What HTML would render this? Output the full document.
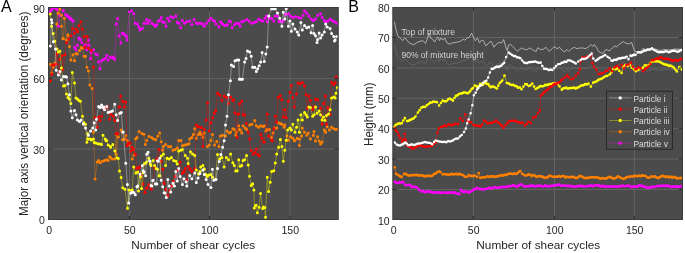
<!DOCTYPE html>
<html><head><meta charset="utf-8"><style>
html,body{margin:0;padding:0;background:#fff;}
body{width:685px;height:253px;overflow:hidden;}
svg{display:block;font-family:"Liberation Sans",sans-serif;will-change:transform;}
</style></head><body>
<svg width="685" height="253" viewBox="0 0 685 253"><defs><clipPath id="ca"><rect x="48" y="7" width="290.6" height="213"/></clipPath><clipPath id="cb"><rect x="392.5" y="7" width="290.5" height="213"/></clipPath></defs><rect x="48" y="7" width="290.6" height="213" fill="#4b4b4b"/><line x1="48" y1="149.00" x2="338.6" y2="149.00" stroke="#636363" stroke-width="1"/><line x1="48" y1="78.60" x2="338.6" y2="78.60" stroke="#636363" stroke-width="1"/><line x1="129.50" y1="7" x2="129.50" y2="220" stroke="#636363" stroke-width="1"/><line x1="209.50" y1="7" x2="209.50" y2="220" stroke="#636363" stroke-width="1"/><line x1="290.00" y1="7" x2="290.00" y2="220" stroke="#636363" stroke-width="1"/><rect x="392.5" y="7" width="290.5" height="213" fill="#4b4b4b"/><line x1="392.5" y1="189.50" x2="683" y2="189.50" stroke="#636363" stroke-width="1"/><line x1="392.5" y1="159.10" x2="683" y2="159.10" stroke="#636363" stroke-width="1"/><line x1="392.5" y1="128.70" x2="683" y2="128.70" stroke="#636363" stroke-width="1"/><line x1="392.5" y1="98.30" x2="683" y2="98.30" stroke="#636363" stroke-width="1"/><line x1="392.5" y1="67.90" x2="683" y2="67.90" stroke="#636363" stroke-width="1"/><line x1="392.5" y1="37.50" x2="683" y2="37.50" stroke="#636363" stroke-width="1"/><line x1="473.40" y1="7" x2="473.40" y2="220" stroke="#636363" stroke-width="1"/><line x1="554.50" y1="7" x2="554.50" y2="220" stroke="#636363" stroke-width="1"/><line x1="634.40" y1="7" x2="634.40" y2="220" stroke="#636363" stroke-width="1"/><g clip-path="url(#cb)"><polyline points="394.4,21.9 395.8,28.9 397.8,35.8 399.9,37.9 402.7,40.6 404.8,37.9 406.9,39.9 408.9,42.7 411.7,44.1 413.8,44.8 416.5,42.7 420.0,41.3 422.8,40.6 425.5,43.4 427.6,37.9 429.0,33.0 430.4,37.9 432.5,39.2 434.6,42.0 436.6,38.5 438.0,37.2 439.4,40.6 440.8,37.9 442.8,40.1 444.8,38.0 446.9,42.9 449.7,44.2 452.5,42.9 456.6,42.2 460.1,41.5 462.9,39.4 464.9,40.1 467.0,38.0 469.1,37.3 471.6,33.2 473.2,36.6 475.3,40.8 477.4,38.0 479.5,42.9 481.6,40.1 483.6,40.8 485.7,45.6 487.1,45.1 489.2,42.3 491.2,41.3 494.0,47.2 496.1,44.4 498.9,42.3 501.6,43.0 503.7,39.5 505.8,47.2 507.2,50.6 508.5,45.1 510.6,44.4 512.7,46.5 515.5,49.2 517.5,51.3 519.6,49.2 521.7,47.9 523.8,49.2 526.6,49.9 529.3,47.9 532.1,49.4 534.1,50.7 536.2,51.4 537.6,47.7 540.4,49.4 543.1,49.4 545.9,47.3 549.4,51.4 552.1,48.7 554.2,46.6 557.0,48.7 559.7,47.3 562.5,50.7 564.6,52.1 566.7,49.4 568.7,51.4 571.5,48.7 574.3,47.3 577.0,48.7 579.8,48.0 582.6,48.0 585.3,48.7 588.1,47.3 590.9,44.5 592.9,46.6 594.3,44.5 596.4,47.3 598.8,51.5 601.3,52.8 603.2,53.4 605.1,50.2 607.0,49.6 608.9,50.9 610.8,49.6 612.7,47.7 614.6,45.8 616.5,47.1 619.0,44.5 620.9,43.3 623.4,41.6 626.0,43.3 629.1,43.9 631.7,42.4 632.9,46.4 634.8,51.5 638.0,51.7 640.0,52.1 643.4,48.0 645.5,50.8 650.0,50.0 655.0,49.0 660.0,50.5 665.0,49.5 670.0,50.0 675.0,49.0 683.0,49.5" fill="none" stroke="#cfcfcf" stroke-width="0.75"/><polyline points="394.4,44.6 395.8,50.9 397.8,57.1 399.9,59.0 402.7,61.5 404.8,59.0 406.9,60.8 408.9,63.4 411.7,64.6 413.8,65.2 416.5,63.4 420.0,62.1 422.8,61.5 425.5,64.0 427.6,59.0 429.0,54.6 430.4,59.0 432.5,60.2 434.6,62.7 436.6,59.6 438.0,58.4 439.4,61.5 440.8,59.0 442.8,61.0 444.8,59.1 446.9,63.5 449.7,64.7 452.5,63.5 456.6,62.9 460.1,62.3 462.9,60.4 464.9,61.0 467.0,59.1 469.1,58.5 471.6,54.8 473.2,57.9 475.3,61.6 477.4,59.1 479.5,63.5 481.6,61.0 483.6,61.6 485.7,66.0 487.1,65.5 489.2,63.0 491.2,62.1 494.0,67.4 496.1,64.9 498.9,63.0 501.6,63.6 503.7,60.5 505.8,67.4 507.2,70.5 508.5,65.5 510.6,64.9 512.7,66.8 515.5,69.2 517.5,71.1 519.6,69.2 521.7,68.0 523.8,69.2 526.6,69.8 529.3,68.0 532.1,69.4 534.1,70.6 536.2,71.2 537.6,67.9 540.4,69.4 543.1,69.4 545.9,67.5 549.4,71.2 552.1,68.8 554.2,66.9 557.0,68.8 559.7,67.5 562.5,70.6 564.6,71.8 566.7,69.4 568.7,71.2 571.5,68.8 574.3,67.5 577.0,68.8 579.8,68.1 582.6,68.1 585.3,68.8 588.1,67.5 590.9,65.0 592.9,66.9 594.3,65.0 596.4,67.5 598.8,71.3 601.3,72.4 603.2,73.0 605.1,70.1 607.0,69.6 608.9,70.7 610.8,69.6 612.7,67.9 614.6,66.1 616.5,67.3 619.0,65.0 620.9,63.9 623.4,62.4 626.0,63.9 629.1,64.4 631.7,63.1 632.9,66.7 634.8,71.3 638.0,71.5 640.0,71.8 643.4,68.1 645.5,70.6 650.0,69.9 655.0,69.0 660.0,70.4 665.0,69.5 670.0,69.9 675.0,69.0 683.0,69.5" fill="none" stroke="#707070" stroke-width="0.6"/><polyline points="394.6,181.7 396.2,182.8 397.7,182.9 399.3,182.6 401.3,182.5 403.3,182.0 404.9,184.7 406.9,185.2 408.8,184.8 410.4,185.4 412.0,187.0 413.9,186.7 415.9,187.2 417.5,187.9 419.1,189.9 421.5,191.4 423.1,191.0 424.6,192.0 426.2,192.2 427.8,191.3 429.4,191.5 431.0,192.2 432.5,192.8 434.1,192.3 435.7,192.3 437.2,192.7 438.8,192.4 440.4,192.9 442.0,192.7 443.6,192.4 446.0,192.9 447.8,192.7 449.7,192.5 451.5,192.7 453.1,192.6 454.7,192.5 456.2,193.7 457.8,193.6 459.4,193.9 461.0,190.0 462.6,191.6 464.1,192.0 465.7,191.4 467.3,191.9 468.9,192.7 470.4,191.7 472.0,190.9 473.7,189.4 475.4,189.0 477.1,187.9 479.5,189.0 481.1,189.2 482.6,189.5 484.2,189.3 485.8,188.8 487.4,188.7 489.0,187.8 490.5,187.8 492.1,188.3 493.7,187.6 495.3,187.2 496.9,187.6 498.4,187.6 500.0,187.5 501.6,187.0 503.2,186.9 504.8,186.8 506.4,187.0 507.9,186.5 509.5,186.2 511.1,186.1 512.7,185.5 514.2,185.6 515.8,186.3 517.4,186.7 518.8,185.4 520.3,184.4 522.0,184.9 523.8,186.1 525.4,186.6 526.9,186.3 528.5,186.0 530.1,186.3 531.6,185.5 533.2,185.8 534.9,186.4 536.6,186.0 538.3,185.9 539.9,185.7 541.6,186.1 543.3,186.6 545.0,185.5 546.6,186.3 548.1,186.2 549.7,186.2 551.3,185.9 552.9,185.8 554.5,185.3 556.0,185.2 557.6,184.9 559.2,184.6 560.8,185.8 562.4,185.6 563.9,185.3 565.5,185.8 567.1,185.9 568.7,185.9 570.3,186.0 571.9,186.3 573.4,186.5 575.0,186.6 576.6,186.5 578.2,185.9 579.8,186.0 581.3,185.8 582.9,186.2 584.5,186.4 586.1,186.3 587.6,186.2 589.2,186.1 590.8,185.4 592.4,186.0 594.0,185.9 595.6,185.3 597.1,185.3 598.7,185.4 600.3,186.4 601.9,186.0 603.5,186.0 605.0,186.7 606.6,186.6 608.2,186.4 609.8,186.4 611.4,186.8 612.9,186.3 614.5,186.4 616.1,186.9 617.8,186.5 619.5,186.2 621.2,186.4 622.8,185.7 624.5,186.1 626.2,186.1 627.9,185.7 629.5,185.9 631.1,187.1 632.7,186.9 634.3,186.4 635.9,186.6 637.4,186.7 639.0,185.5 640.6,185.7 642.1,186.0 643.7,186.9 645.3,186.6 646.9,187.6 648.5,187.9 650.1,187.4 651.6,186.6 653.2,187.2 654.8,186.8 656.4,186.3 657.9,185.8 659.5,186.1 661.1,185.7 662.7,186.0 664.3,185.7 665.9,186.2 667.5,185.6 669.1,186.0 670.7,186.9 672.2,186.9 673.8,186.3 675.4,187.0 677.0,186.3 678.6,186.9 680.1,186.6 681.7,186.1 683.3,185.8" fill="none" stroke="#ff00ff" stroke-width="0.5"/><path d="M393.2,181.7a1.4,1.4 0 1,0 2.8,0a1.4,1.4 0 1,0 -2.8,0M394.8,182.8a1.4,1.4 0 1,0 2.8,0a1.4,1.4 0 1,0 -2.8,0M396.3,182.9a1.4,1.4 0 1,0 2.8,0a1.4,1.4 0 1,0 -2.8,0M397.9,182.6a1.4,1.4 0 1,0 2.8,0a1.4,1.4 0 1,0 -2.8,0M399.9,182.5a1.4,1.4 0 1,0 2.8,0a1.4,1.4 0 1,0 -2.8,0M401.9,182.0a1.4,1.4 0 1,0 2.8,0a1.4,1.4 0 1,0 -2.8,0M403.5,184.7a1.4,1.4 0 1,0 2.8,0a1.4,1.4 0 1,0 -2.8,0M405.5,185.2a1.4,1.4 0 1,0 2.8,0a1.4,1.4 0 1,0 -2.8,0M407.4,184.8a1.4,1.4 0 1,0 2.8,0a1.4,1.4 0 1,0 -2.8,0M409.0,185.4a1.4,1.4 0 1,0 2.8,0a1.4,1.4 0 1,0 -2.8,0M410.6,187.0a1.4,1.4 0 1,0 2.8,0a1.4,1.4 0 1,0 -2.8,0M412.6,186.7a1.4,1.4 0 1,0 2.8,0a1.4,1.4 0 1,0 -2.8,0M414.5,187.2a1.4,1.4 0 1,0 2.8,0a1.4,1.4 0 1,0 -2.8,0M416.1,187.9a1.4,1.4 0 1,0 2.8,0a1.4,1.4 0 1,0 -2.8,0M417.7,189.9a1.4,1.4 0 1,0 2.8,0a1.4,1.4 0 1,0 -2.8,0M420.1,191.4a1.4,1.4 0 1,0 2.8,0a1.4,1.4 0 1,0 -2.8,0M421.7,191.0a1.4,1.4 0 1,0 2.8,0a1.4,1.4 0 1,0 -2.8,0M423.2,192.0a1.4,1.4 0 1,0 2.8,0a1.4,1.4 0 1,0 -2.8,0M424.8,192.2a1.4,1.4 0 1,0 2.8,0a1.4,1.4 0 1,0 -2.8,0M426.4,191.3a1.4,1.4 0 1,0 2.8,0a1.4,1.4 0 1,0 -2.8,0M428.0,191.5a1.4,1.4 0 1,0 2.8,0a1.4,1.4 0 1,0 -2.8,0M429.6,192.2a1.4,1.4 0 1,0 2.8,0a1.4,1.4 0 1,0 -2.8,0M431.1,192.8a1.4,1.4 0 1,0 2.8,0a1.4,1.4 0 1,0 -2.8,0M432.7,192.3a1.4,1.4 0 1,0 2.8,0a1.4,1.4 0 1,0 -2.8,0M434.3,192.3a1.4,1.4 0 1,0 2.8,0a1.4,1.4 0 1,0 -2.8,0M435.9,192.7a1.4,1.4 0 1,0 2.8,0a1.4,1.4 0 1,0 -2.8,0M437.4,192.4a1.4,1.4 0 1,0 2.8,0a1.4,1.4 0 1,0 -2.8,0M439.0,192.9a1.4,1.4 0 1,0 2.8,0a1.4,1.4 0 1,0 -2.8,0M440.6,192.7a1.4,1.4 0 1,0 2.8,0a1.4,1.4 0 1,0 -2.8,0M442.2,192.4a1.4,1.4 0 1,0 2.8,0a1.4,1.4 0 1,0 -2.8,0M444.6,192.9a1.4,1.4 0 1,0 2.8,0a1.4,1.4 0 1,0 -2.8,0M446.4,192.7a1.4,1.4 0 1,0 2.8,0a1.4,1.4 0 1,0 -2.8,0M448.3,192.5a1.4,1.4 0 1,0 2.8,0a1.4,1.4 0 1,0 -2.8,0M450.1,192.7a1.4,1.4 0 1,0 2.8,0a1.4,1.4 0 1,0 -2.8,0M451.7,192.6a1.4,1.4 0 1,0 2.8,0a1.4,1.4 0 1,0 -2.8,0M453.3,192.5a1.4,1.4 0 1,0 2.8,0a1.4,1.4 0 1,0 -2.8,0M454.8,193.7a1.4,1.4 0 1,0 2.8,0a1.4,1.4 0 1,0 -2.8,0M456.4,193.6a1.4,1.4 0 1,0 2.8,0a1.4,1.4 0 1,0 -2.8,0M458.0,193.9a1.4,1.4 0 1,0 2.8,0a1.4,1.4 0 1,0 -2.8,0M459.6,190.0a1.4,1.4 0 1,0 2.8,0a1.4,1.4 0 1,0 -2.8,0M461.2,191.6a1.4,1.4 0 1,0 2.8,0a1.4,1.4 0 1,0 -2.8,0M462.7,192.0a1.4,1.4 0 1,0 2.8,0a1.4,1.4 0 1,0 -2.8,0M464.3,191.4a1.4,1.4 0 1,0 2.8,0a1.4,1.4 0 1,0 -2.8,0M465.9,191.9a1.4,1.4 0 1,0 2.8,0a1.4,1.4 0 1,0 -2.8,0M467.5,192.7a1.4,1.4 0 1,0 2.8,0a1.4,1.4 0 1,0 -2.8,0M469.1,191.7a1.4,1.4 0 1,0 2.8,0a1.4,1.4 0 1,0 -2.8,0M470.6,190.9a1.4,1.4 0 1,0 2.8,0a1.4,1.4 0 1,0 -2.8,0M472.3,189.4a1.4,1.4 0 1,0 2.8,0a1.4,1.4 0 1,0 -2.8,0M474.0,189.0a1.4,1.4 0 1,0 2.8,0a1.4,1.4 0 1,0 -2.8,0M475.7,187.9a1.4,1.4 0 1,0 2.8,0a1.4,1.4 0 1,0 -2.8,0M478.1,189.0a1.4,1.4 0 1,0 2.8,0a1.4,1.4 0 1,0 -2.8,0M479.7,189.2a1.4,1.4 0 1,0 2.8,0a1.4,1.4 0 1,0 -2.8,0M481.2,189.5a1.4,1.4 0 1,0 2.8,0a1.4,1.4 0 1,0 -2.8,0M482.8,189.3a1.4,1.4 0 1,0 2.8,0a1.4,1.4 0 1,0 -2.8,0M484.4,188.8a1.4,1.4 0 1,0 2.8,0a1.4,1.4 0 1,0 -2.8,0M486.0,188.7a1.4,1.4 0 1,0 2.8,0a1.4,1.4 0 1,0 -2.8,0M487.6,187.8a1.4,1.4 0 1,0 2.8,0a1.4,1.4 0 1,0 -2.8,0M489.1,187.8a1.4,1.4 0 1,0 2.8,0a1.4,1.4 0 1,0 -2.8,0M490.7,188.3a1.4,1.4 0 1,0 2.8,0a1.4,1.4 0 1,0 -2.8,0M492.3,187.6a1.4,1.4 0 1,0 2.8,0a1.4,1.4 0 1,0 -2.8,0M493.9,187.2a1.4,1.4 0 1,0 2.8,0a1.4,1.4 0 1,0 -2.8,0M495.5,187.6a1.4,1.4 0 1,0 2.8,0a1.4,1.4 0 1,0 -2.8,0M497.0,187.6a1.4,1.4 0 1,0 2.8,0a1.4,1.4 0 1,0 -2.8,0M498.6,187.5a1.4,1.4 0 1,0 2.8,0a1.4,1.4 0 1,0 -2.8,0M500.2,187.0a1.4,1.4 0 1,0 2.8,0a1.4,1.4 0 1,0 -2.8,0M501.8,186.9a1.4,1.4 0 1,0 2.8,0a1.4,1.4 0 1,0 -2.8,0M503.4,186.8a1.4,1.4 0 1,0 2.8,0a1.4,1.4 0 1,0 -2.8,0M505.0,187.0a1.4,1.4 0 1,0 2.8,0a1.4,1.4 0 1,0 -2.8,0M506.5,186.5a1.4,1.4 0 1,0 2.8,0a1.4,1.4 0 1,0 -2.8,0M508.1,186.2a1.4,1.4 0 1,0 2.8,0a1.4,1.4 0 1,0 -2.8,0M509.7,186.1a1.4,1.4 0 1,0 2.8,0a1.4,1.4 0 1,0 -2.8,0M511.3,185.5a1.4,1.4 0 1,0 2.8,0a1.4,1.4 0 1,0 -2.8,0M512.9,185.6a1.4,1.4 0 1,0 2.8,0a1.4,1.4 0 1,0 -2.8,0M514.4,186.3a1.4,1.4 0 1,0 2.8,0a1.4,1.4 0 1,0 -2.8,0M516.0,186.7a1.4,1.4 0 1,0 2.8,0a1.4,1.4 0 1,0 -2.8,0M517.4,185.4a1.4,1.4 0 1,0 2.8,0a1.4,1.4 0 1,0 -2.8,0M518.9,184.4a1.4,1.4 0 1,0 2.8,0a1.4,1.4 0 1,0 -2.8,0M520.6,184.9a1.4,1.4 0 1,0 2.8,0a1.4,1.4 0 1,0 -2.8,0M522.4,186.1a1.4,1.4 0 1,0 2.8,0a1.4,1.4 0 1,0 -2.8,0M524.0,186.6a1.4,1.4 0 1,0 2.8,0a1.4,1.4 0 1,0 -2.8,0M525.5,186.3a1.4,1.4 0 1,0 2.8,0a1.4,1.4 0 1,0 -2.8,0M527.1,186.0a1.4,1.4 0 1,0 2.8,0a1.4,1.4 0 1,0 -2.8,0M528.7,186.3a1.4,1.4 0 1,0 2.8,0a1.4,1.4 0 1,0 -2.8,0M530.2,185.5a1.4,1.4 0 1,0 2.8,0a1.4,1.4 0 1,0 -2.8,0M531.8,185.8a1.4,1.4 0 1,0 2.8,0a1.4,1.4 0 1,0 -2.8,0M533.5,186.4a1.4,1.4 0 1,0 2.8,0a1.4,1.4 0 1,0 -2.8,0M535.2,186.0a1.4,1.4 0 1,0 2.8,0a1.4,1.4 0 1,0 -2.8,0M536.9,185.9a1.4,1.4 0 1,0 2.8,0a1.4,1.4 0 1,0 -2.8,0M538.5,185.7a1.4,1.4 0 1,0 2.8,0a1.4,1.4 0 1,0 -2.8,0M540.2,186.1a1.4,1.4 0 1,0 2.8,0a1.4,1.4 0 1,0 -2.8,0M541.9,186.6a1.4,1.4 0 1,0 2.8,0a1.4,1.4 0 1,0 -2.8,0M543.6,185.5a1.4,1.4 0 1,0 2.8,0a1.4,1.4 0 1,0 -2.8,0M545.2,186.3a1.4,1.4 0 1,0 2.8,0a1.4,1.4 0 1,0 -2.8,0M546.8,186.2a1.4,1.4 0 1,0 2.8,0a1.4,1.4 0 1,0 -2.8,0M548.3,186.2a1.4,1.4 0 1,0 2.8,0a1.4,1.4 0 1,0 -2.8,0M549.9,185.9a1.4,1.4 0 1,0 2.8,0a1.4,1.4 0 1,0 -2.8,0M551.5,185.8a1.4,1.4 0 1,0 2.8,0a1.4,1.4 0 1,0 -2.8,0M553.1,185.3a1.4,1.4 0 1,0 2.8,0a1.4,1.4 0 1,0 -2.8,0M554.6,185.2a1.4,1.4 0 1,0 2.8,0a1.4,1.4 0 1,0 -2.8,0M556.2,184.9a1.4,1.4 0 1,0 2.8,0a1.4,1.4 0 1,0 -2.8,0M557.8,184.6a1.4,1.4 0 1,0 2.8,0a1.4,1.4 0 1,0 -2.8,0M559.4,185.8a1.4,1.4 0 1,0 2.8,0a1.4,1.4 0 1,0 -2.8,0M561.0,185.6a1.4,1.4 0 1,0 2.8,0a1.4,1.4 0 1,0 -2.8,0M562.5,185.3a1.4,1.4 0 1,0 2.8,0a1.4,1.4 0 1,0 -2.8,0M564.1,185.8a1.4,1.4 0 1,0 2.8,0a1.4,1.4 0 1,0 -2.8,0M565.7,185.9a1.4,1.4 0 1,0 2.8,0a1.4,1.4 0 1,0 -2.8,0M567.3,185.9a1.4,1.4 0 1,0 2.8,0a1.4,1.4 0 1,0 -2.8,0M568.9,186.0a1.4,1.4 0 1,0 2.8,0a1.4,1.4 0 1,0 -2.8,0M570.5,186.3a1.4,1.4 0 1,0 2.8,0a1.4,1.4 0 1,0 -2.8,0M572.0,186.5a1.4,1.4 0 1,0 2.8,0a1.4,1.4 0 1,0 -2.8,0M573.6,186.6a1.4,1.4 0 1,0 2.8,0a1.4,1.4 0 1,0 -2.8,0M575.2,186.5a1.4,1.4 0 1,0 2.8,0a1.4,1.4 0 1,0 -2.8,0M576.8,185.9a1.4,1.4 0 1,0 2.8,0a1.4,1.4 0 1,0 -2.8,0M578.4,186.0a1.4,1.4 0 1,0 2.8,0a1.4,1.4 0 1,0 -2.8,0M579.9,185.8a1.4,1.4 0 1,0 2.8,0a1.4,1.4 0 1,0 -2.8,0M581.5,186.2a1.4,1.4 0 1,0 2.8,0a1.4,1.4 0 1,0 -2.8,0M583.1,186.4a1.4,1.4 0 1,0 2.8,0a1.4,1.4 0 1,0 -2.8,0M584.7,186.3a1.4,1.4 0 1,0 2.8,0a1.4,1.4 0 1,0 -2.8,0M586.2,186.2a1.4,1.4 0 1,0 2.8,0a1.4,1.4 0 1,0 -2.8,0M587.8,186.1a1.4,1.4 0 1,0 2.8,0a1.4,1.4 0 1,0 -2.8,0M589.4,185.4a1.4,1.4 0 1,0 2.8,0a1.4,1.4 0 1,0 -2.8,0M591.0,186.0a1.4,1.4 0 1,0 2.8,0a1.4,1.4 0 1,0 -2.8,0M592.6,185.9a1.4,1.4 0 1,0 2.8,0a1.4,1.4 0 1,0 -2.8,0M594.2,185.3a1.4,1.4 0 1,0 2.8,0a1.4,1.4 0 1,0 -2.8,0M595.7,185.3a1.4,1.4 0 1,0 2.8,0a1.4,1.4 0 1,0 -2.8,0M597.3,185.4a1.4,1.4 0 1,0 2.8,0a1.4,1.4 0 1,0 -2.8,0M598.9,186.4a1.4,1.4 0 1,0 2.8,0a1.4,1.4 0 1,0 -2.8,0M600.5,186.0a1.4,1.4 0 1,0 2.8,0a1.4,1.4 0 1,0 -2.8,0M602.1,186.0a1.4,1.4 0 1,0 2.8,0a1.4,1.4 0 1,0 -2.8,0M603.6,186.7a1.4,1.4 0 1,0 2.8,0a1.4,1.4 0 1,0 -2.8,0M605.2,186.6a1.4,1.4 0 1,0 2.8,0a1.4,1.4 0 1,0 -2.8,0M606.8,186.4a1.4,1.4 0 1,0 2.8,0a1.4,1.4 0 1,0 -2.8,0M608.4,186.4a1.4,1.4 0 1,0 2.8,0a1.4,1.4 0 1,0 -2.8,0M610.0,186.8a1.4,1.4 0 1,0 2.8,0a1.4,1.4 0 1,0 -2.8,0M611.5,186.3a1.4,1.4 0 1,0 2.8,0a1.4,1.4 0 1,0 -2.8,0M613.1,186.4a1.4,1.4 0 1,0 2.8,0a1.4,1.4 0 1,0 -2.8,0M614.7,186.9a1.4,1.4 0 1,0 2.8,0a1.4,1.4 0 1,0 -2.8,0M616.4,186.5a1.4,1.4 0 1,0 2.8,0a1.4,1.4 0 1,0 -2.8,0M618.1,186.2a1.4,1.4 0 1,0 2.8,0a1.4,1.4 0 1,0 -2.8,0M619.8,186.4a1.4,1.4 0 1,0 2.8,0a1.4,1.4 0 1,0 -2.8,0M621.4,185.7a1.4,1.4 0 1,0 2.8,0a1.4,1.4 0 1,0 -2.8,0M623.1,186.1a1.4,1.4 0 1,0 2.8,0a1.4,1.4 0 1,0 -2.8,0M624.8,186.1a1.4,1.4 0 1,0 2.8,0a1.4,1.4 0 1,0 -2.8,0M626.5,185.7a1.4,1.4 0 1,0 2.8,0a1.4,1.4 0 1,0 -2.8,0M628.1,185.9a1.4,1.4 0 1,0 2.8,0a1.4,1.4 0 1,0 -2.8,0M629.7,187.1a1.4,1.4 0 1,0 2.8,0a1.4,1.4 0 1,0 -2.8,0M631.3,186.9a1.4,1.4 0 1,0 2.8,0a1.4,1.4 0 1,0 -2.8,0M632.9,186.4a1.4,1.4 0 1,0 2.8,0a1.4,1.4 0 1,0 -2.8,0M634.5,186.6a1.4,1.4 0 1,0 2.8,0a1.4,1.4 0 1,0 -2.8,0M636.0,186.7a1.4,1.4 0 1,0 2.8,0a1.4,1.4 0 1,0 -2.8,0M637.6,185.5a1.4,1.4 0 1,0 2.8,0a1.4,1.4 0 1,0 -2.8,0M639.2,185.7a1.4,1.4 0 1,0 2.8,0a1.4,1.4 0 1,0 -2.8,0M640.7,186.0a1.4,1.4 0 1,0 2.8,0a1.4,1.4 0 1,0 -2.8,0M642.3,186.9a1.4,1.4 0 1,0 2.8,0a1.4,1.4 0 1,0 -2.8,0M643.9,186.6a1.4,1.4 0 1,0 2.8,0a1.4,1.4 0 1,0 -2.8,0M645.5,187.6a1.4,1.4 0 1,0 2.8,0a1.4,1.4 0 1,0 -2.8,0M647.1,187.9a1.4,1.4 0 1,0 2.8,0a1.4,1.4 0 1,0 -2.8,0M648.7,187.4a1.4,1.4 0 1,0 2.8,0a1.4,1.4 0 1,0 -2.8,0M650.2,186.6a1.4,1.4 0 1,0 2.8,0a1.4,1.4 0 1,0 -2.8,0M651.8,187.2a1.4,1.4 0 1,0 2.8,0a1.4,1.4 0 1,0 -2.8,0M653.4,186.8a1.4,1.4 0 1,0 2.8,0a1.4,1.4 0 1,0 -2.8,0M655.0,186.3a1.4,1.4 0 1,0 2.8,0a1.4,1.4 0 1,0 -2.8,0M656.5,185.8a1.4,1.4 0 1,0 2.8,0a1.4,1.4 0 1,0 -2.8,0M658.1,186.1a1.4,1.4 0 1,0 2.8,0a1.4,1.4 0 1,0 -2.8,0M659.7,185.7a1.4,1.4 0 1,0 2.8,0a1.4,1.4 0 1,0 -2.8,0M661.3,186.0a1.4,1.4 0 1,0 2.8,0a1.4,1.4 0 1,0 -2.8,0M662.9,185.7a1.4,1.4 0 1,0 2.8,0a1.4,1.4 0 1,0 -2.8,0M664.5,186.2a1.4,1.4 0 1,0 2.8,0a1.4,1.4 0 1,0 -2.8,0M666.1,185.6a1.4,1.4 0 1,0 2.8,0a1.4,1.4 0 1,0 -2.8,0M667.7,186.0a1.4,1.4 0 1,0 2.8,0a1.4,1.4 0 1,0 -2.8,0M669.3,186.9a1.4,1.4 0 1,0 2.8,0a1.4,1.4 0 1,0 -2.8,0M670.8,186.9a1.4,1.4 0 1,0 2.8,0a1.4,1.4 0 1,0 -2.8,0M672.4,186.3a1.4,1.4 0 1,0 2.8,0a1.4,1.4 0 1,0 -2.8,0M674.0,187.0a1.4,1.4 0 1,0 2.8,0a1.4,1.4 0 1,0 -2.8,0M675.6,186.3a1.4,1.4 0 1,0 2.8,0a1.4,1.4 0 1,0 -2.8,0M677.2,186.9a1.4,1.4 0 1,0 2.8,0a1.4,1.4 0 1,0 -2.8,0M678.7,186.6a1.4,1.4 0 1,0 2.8,0a1.4,1.4 0 1,0 -2.8,0M680.3,186.1a1.4,1.4 0 1,0 2.8,0a1.4,1.4 0 1,0 -2.8,0M681.9,185.8a1.4,1.4 0 1,0 2.8,0a1.4,1.4 0 1,0 -2.8,0" fill="#ff00ff"/><polyline points="394.6,167.3 396.2,173.9 398.5,175.2 400.1,176.4 401.7,176.9 404.1,174.0 405.7,173.9 407.2,175.1 408.8,175.6 410.4,175.3 412.0,175.2 413.6,175.2 415.2,175.1 416.7,174.9 418.3,175.5 419.9,175.5 421.5,175.4 423.0,175.6 424.6,176.5 426.2,175.9 427.8,176.0 429.4,175.7 431.0,176.2 432.6,175.6 434.1,174.0 435.7,173.5 437.2,172.1 438.8,171.4 440.4,172.2 442.8,174.3 444.6,174.1 446.5,174.5 448.3,174.6 449.9,174.7 451.5,173.9 453.0,174.5 454.6,174.2 456.2,173.9 457.8,174.6 459.4,173.8 461.0,174.5 462.9,175.2 464.9,176.7 466.9,176.8 468.9,175.2 470.3,175.9 471.8,175.8 473.2,176.1 474.7,175.6 477.1,176.9 478.7,173.1 480.3,177.8 482.1,177.3 484.0,177.4 485.8,177.1 487.4,176.3 489.0,176.9 490.5,176.5 492.1,176.5 493.7,176.3 495.3,176.9 496.9,176.5 498.5,176.2 500.1,175.4 501.6,175.5 503.2,175.5 504.8,174.9 506.4,174.8 507.9,174.1 509.5,173.7 511.1,173.7 512.7,174.1 514.3,173.5 515.8,173.9 517.4,173.3 518.8,171.8 520.3,171.1 522.2,173.8 524.5,175.2 526.5,175.6 528.5,174.5 530.1,174.8 531.6,176.0 533.2,175.2 534.8,175.7 536.4,176.8 538.0,176.3 539.6,176.1 541.2,176.5 542.8,176.9 544.3,177.9 545.9,177.4 547.4,177.5 549.0,176.0 550.5,175.9 552.5,176.7 554.5,176.9 556.1,176.7 557.6,176.8 559.2,176.2 560.8,176.8 562.4,176.1 564.0,176.2 565.5,177.5 567.1,176.8 568.7,177.2 570.3,177.1 571.9,177.0 573.4,176.8 575.0,177.8 576.6,178.0 578.2,177.4 579.8,175.8 581.4,176.4 583.0,177.2 584.5,178.1 586.1,178.0 587.7,178.0 589.2,177.8 590.8,177.2 592.4,177.4 594.0,177.3 595.6,177.4 597.1,177.4 598.7,177.8 600.3,178.8 601.9,178.1 603.5,178.4 605.1,178.4 606.7,178.4 608.2,177.3 609.8,176.9 611.4,177.7 613.0,178.5 614.6,178.4 616.1,177.8 617.7,176.4 619.5,177.1 621.4,178.1 623.2,178.8 624.8,178.4 626.3,177.5 627.9,176.8 629.5,176.8 631.1,176.4 632.7,176.7 634.2,175.9 635.8,175.8 637.4,176.3 639.0,175.7 640.6,176.2 642.2,175.5 643.7,175.7 645.7,176.1 647.7,177.7 649.5,177.6 651.4,176.3 653.2,176.8 654.8,176.3 656.4,177.4 658.0,178.0 659.6,177.4 661.1,176.5 662.7,175.8 664.3,176.5 665.9,177.1 667.4,176.5 669.0,177.4 670.6,176.7 672.2,177.8 673.8,176.9 675.4,177.5 677.0,178.4 678.6,178.1 680.1,178.1 681.7,177.9 683.3,177.7" fill="none" stroke="#ff8000" stroke-width="0.5"/><path d="M393.2,167.3a1.4,1.4 0 1,0 2.8,0a1.4,1.4 0 1,0 -2.8,0M394.8,173.9a1.4,1.4 0 1,0 2.8,0a1.4,1.4 0 1,0 -2.8,0M397.1,175.2a1.4,1.4 0 1,0 2.8,0a1.4,1.4 0 1,0 -2.8,0M398.7,176.4a1.4,1.4 0 1,0 2.8,0a1.4,1.4 0 1,0 -2.8,0M400.3,176.9a1.4,1.4 0 1,0 2.8,0a1.4,1.4 0 1,0 -2.8,0M402.7,174.0a1.4,1.4 0 1,0 2.8,0a1.4,1.4 0 1,0 -2.8,0M404.3,173.9a1.4,1.4 0 1,0 2.8,0a1.4,1.4 0 1,0 -2.8,0M405.8,175.1a1.4,1.4 0 1,0 2.8,0a1.4,1.4 0 1,0 -2.8,0M407.4,175.6a1.4,1.4 0 1,0 2.8,0a1.4,1.4 0 1,0 -2.8,0M409.0,175.3a1.4,1.4 0 1,0 2.8,0a1.4,1.4 0 1,0 -2.8,0M410.6,175.2a1.4,1.4 0 1,0 2.8,0a1.4,1.4 0 1,0 -2.8,0M412.2,175.2a1.4,1.4 0 1,0 2.8,0a1.4,1.4 0 1,0 -2.8,0M413.8,175.1a1.4,1.4 0 1,0 2.8,0a1.4,1.4 0 1,0 -2.8,0M415.3,174.9a1.4,1.4 0 1,0 2.8,0a1.4,1.4 0 1,0 -2.8,0M416.9,175.5a1.4,1.4 0 1,0 2.8,0a1.4,1.4 0 1,0 -2.8,0M418.5,175.5a1.4,1.4 0 1,0 2.8,0a1.4,1.4 0 1,0 -2.8,0M420.1,175.4a1.4,1.4 0 1,0 2.8,0a1.4,1.4 0 1,0 -2.8,0M421.6,175.6a1.4,1.4 0 1,0 2.8,0a1.4,1.4 0 1,0 -2.8,0M423.2,176.5a1.4,1.4 0 1,0 2.8,0a1.4,1.4 0 1,0 -2.8,0M424.8,175.9a1.4,1.4 0 1,0 2.8,0a1.4,1.4 0 1,0 -2.8,0M426.4,176.0a1.4,1.4 0 1,0 2.8,0a1.4,1.4 0 1,0 -2.8,0M428.0,175.7a1.4,1.4 0 1,0 2.8,0a1.4,1.4 0 1,0 -2.8,0M429.6,176.2a1.4,1.4 0 1,0 2.8,0a1.4,1.4 0 1,0 -2.8,0M431.2,175.6a1.4,1.4 0 1,0 2.8,0a1.4,1.4 0 1,0 -2.8,0M432.7,174.0a1.4,1.4 0 1,0 2.8,0a1.4,1.4 0 1,0 -2.8,0M434.3,173.5a1.4,1.4 0 1,0 2.8,0a1.4,1.4 0 1,0 -2.8,0M435.9,172.1a1.4,1.4 0 1,0 2.8,0a1.4,1.4 0 1,0 -2.8,0M437.4,171.4a1.4,1.4 0 1,0 2.8,0a1.4,1.4 0 1,0 -2.8,0M439.0,172.2a1.4,1.4 0 1,0 2.8,0a1.4,1.4 0 1,0 -2.8,0M441.4,174.3a1.4,1.4 0 1,0 2.8,0a1.4,1.4 0 1,0 -2.8,0M443.2,174.1a1.4,1.4 0 1,0 2.8,0a1.4,1.4 0 1,0 -2.8,0M445.1,174.5a1.4,1.4 0 1,0 2.8,0a1.4,1.4 0 1,0 -2.8,0M446.9,174.6a1.4,1.4 0 1,0 2.8,0a1.4,1.4 0 1,0 -2.8,0M448.5,174.7a1.4,1.4 0 1,0 2.8,0a1.4,1.4 0 1,0 -2.8,0M450.1,173.9a1.4,1.4 0 1,0 2.8,0a1.4,1.4 0 1,0 -2.8,0M451.6,174.5a1.4,1.4 0 1,0 2.8,0a1.4,1.4 0 1,0 -2.8,0M453.2,174.2a1.4,1.4 0 1,0 2.8,0a1.4,1.4 0 1,0 -2.8,0M454.8,173.9a1.4,1.4 0 1,0 2.8,0a1.4,1.4 0 1,0 -2.8,0M456.4,174.6a1.4,1.4 0 1,0 2.8,0a1.4,1.4 0 1,0 -2.8,0M458.0,173.8a1.4,1.4 0 1,0 2.8,0a1.4,1.4 0 1,0 -2.8,0M459.6,174.5a1.4,1.4 0 1,0 2.8,0a1.4,1.4 0 1,0 -2.8,0M461.6,175.2a1.4,1.4 0 1,0 2.8,0a1.4,1.4 0 1,0 -2.8,0M463.5,176.7a1.4,1.4 0 1,0 2.8,0a1.4,1.4 0 1,0 -2.8,0M465.5,176.8a1.4,1.4 0 1,0 2.8,0a1.4,1.4 0 1,0 -2.8,0M467.5,175.2a1.4,1.4 0 1,0 2.8,0a1.4,1.4 0 1,0 -2.8,0M468.9,175.9a1.4,1.4 0 1,0 2.8,0a1.4,1.4 0 1,0 -2.8,0M470.4,175.8a1.4,1.4 0 1,0 2.8,0a1.4,1.4 0 1,0 -2.8,0M471.9,176.1a1.4,1.4 0 1,0 2.8,0a1.4,1.4 0 1,0 -2.8,0M473.3,175.6a1.4,1.4 0 1,0 2.8,0a1.4,1.4 0 1,0 -2.8,0M475.7,176.9a1.4,1.4 0 1,0 2.8,0a1.4,1.4 0 1,0 -2.8,0M477.3,173.1a1.4,1.4 0 1,0 2.8,0a1.4,1.4 0 1,0 -2.8,0M478.9,177.8a1.4,1.4 0 1,0 2.8,0a1.4,1.4 0 1,0 -2.8,0M480.7,177.3a1.4,1.4 0 1,0 2.8,0a1.4,1.4 0 1,0 -2.8,0M482.6,177.4a1.4,1.4 0 1,0 2.8,0a1.4,1.4 0 1,0 -2.8,0M484.4,177.1a1.4,1.4 0 1,0 2.8,0a1.4,1.4 0 1,0 -2.8,0M486.0,176.3a1.4,1.4 0 1,0 2.8,0a1.4,1.4 0 1,0 -2.8,0M487.6,176.9a1.4,1.4 0 1,0 2.8,0a1.4,1.4 0 1,0 -2.8,0M489.1,176.5a1.4,1.4 0 1,0 2.8,0a1.4,1.4 0 1,0 -2.8,0M490.7,176.5a1.4,1.4 0 1,0 2.8,0a1.4,1.4 0 1,0 -2.8,0M492.3,176.3a1.4,1.4 0 1,0 2.8,0a1.4,1.4 0 1,0 -2.8,0M493.9,176.9a1.4,1.4 0 1,0 2.8,0a1.4,1.4 0 1,0 -2.8,0M495.5,176.5a1.4,1.4 0 1,0 2.8,0a1.4,1.4 0 1,0 -2.8,0M497.1,176.2a1.4,1.4 0 1,0 2.8,0a1.4,1.4 0 1,0 -2.8,0M498.7,175.4a1.4,1.4 0 1,0 2.8,0a1.4,1.4 0 1,0 -2.8,0M500.2,175.5a1.4,1.4 0 1,0 2.8,0a1.4,1.4 0 1,0 -2.8,0M501.8,175.5a1.4,1.4 0 1,0 2.8,0a1.4,1.4 0 1,0 -2.8,0M503.4,174.9a1.4,1.4 0 1,0 2.8,0a1.4,1.4 0 1,0 -2.8,0M505.0,174.8a1.4,1.4 0 1,0 2.8,0a1.4,1.4 0 1,0 -2.8,0M506.5,174.1a1.4,1.4 0 1,0 2.8,0a1.4,1.4 0 1,0 -2.8,0M508.1,173.7a1.4,1.4 0 1,0 2.8,0a1.4,1.4 0 1,0 -2.8,0M509.7,173.7a1.4,1.4 0 1,0 2.8,0a1.4,1.4 0 1,0 -2.8,0M511.3,174.1a1.4,1.4 0 1,0 2.8,0a1.4,1.4 0 1,0 -2.8,0M512.9,173.5a1.4,1.4 0 1,0 2.8,0a1.4,1.4 0 1,0 -2.8,0M514.4,173.9a1.4,1.4 0 1,0 2.8,0a1.4,1.4 0 1,0 -2.8,0M516.0,173.3a1.4,1.4 0 1,0 2.8,0a1.4,1.4 0 1,0 -2.8,0M517.4,171.8a1.4,1.4 0 1,0 2.8,0a1.4,1.4 0 1,0 -2.8,0M518.9,171.1a1.4,1.4 0 1,0 2.8,0a1.4,1.4 0 1,0 -2.8,0M520.8,173.8a1.4,1.4 0 1,0 2.8,0a1.4,1.4 0 1,0 -2.8,0M523.1,175.2a1.4,1.4 0 1,0 2.8,0a1.4,1.4 0 1,0 -2.8,0M525.1,175.6a1.4,1.4 0 1,0 2.8,0a1.4,1.4 0 1,0 -2.8,0M527.1,174.5a1.4,1.4 0 1,0 2.8,0a1.4,1.4 0 1,0 -2.8,0M528.7,174.8a1.4,1.4 0 1,0 2.8,0a1.4,1.4 0 1,0 -2.8,0M530.2,176.0a1.4,1.4 0 1,0 2.8,0a1.4,1.4 0 1,0 -2.8,0M531.8,175.2a1.4,1.4 0 1,0 2.8,0a1.4,1.4 0 1,0 -2.8,0M533.4,175.7a1.4,1.4 0 1,0 2.8,0a1.4,1.4 0 1,0 -2.8,0M535.0,176.8a1.4,1.4 0 1,0 2.8,0a1.4,1.4 0 1,0 -2.8,0M536.6,176.3a1.4,1.4 0 1,0 2.8,0a1.4,1.4 0 1,0 -2.8,0M538.2,176.1a1.4,1.4 0 1,0 2.8,0a1.4,1.4 0 1,0 -2.8,0M539.8,176.5a1.4,1.4 0 1,0 2.8,0a1.4,1.4 0 1,0 -2.8,0M541.4,176.9a1.4,1.4 0 1,0 2.8,0a1.4,1.4 0 1,0 -2.8,0M542.9,177.9a1.4,1.4 0 1,0 2.8,0a1.4,1.4 0 1,0 -2.8,0M544.5,177.4a1.4,1.4 0 1,0 2.8,0a1.4,1.4 0 1,0 -2.8,0M546.0,177.5a1.4,1.4 0 1,0 2.8,0a1.4,1.4 0 1,0 -2.8,0M547.6,176.0a1.4,1.4 0 1,0 2.8,0a1.4,1.4 0 1,0 -2.8,0M549.1,175.9a1.4,1.4 0 1,0 2.8,0a1.4,1.4 0 1,0 -2.8,0M551.1,176.7a1.4,1.4 0 1,0 2.8,0a1.4,1.4 0 1,0 -2.8,0M553.1,176.9a1.4,1.4 0 1,0 2.8,0a1.4,1.4 0 1,0 -2.8,0M554.7,176.7a1.4,1.4 0 1,0 2.8,0a1.4,1.4 0 1,0 -2.8,0M556.2,176.8a1.4,1.4 0 1,0 2.8,0a1.4,1.4 0 1,0 -2.8,0M557.8,176.2a1.4,1.4 0 1,0 2.8,0a1.4,1.4 0 1,0 -2.8,0M559.4,176.8a1.4,1.4 0 1,0 2.8,0a1.4,1.4 0 1,0 -2.8,0M561.0,176.1a1.4,1.4 0 1,0 2.8,0a1.4,1.4 0 1,0 -2.8,0M562.6,176.2a1.4,1.4 0 1,0 2.8,0a1.4,1.4 0 1,0 -2.8,0M564.1,177.5a1.4,1.4 0 1,0 2.8,0a1.4,1.4 0 1,0 -2.8,0M565.7,176.8a1.4,1.4 0 1,0 2.8,0a1.4,1.4 0 1,0 -2.8,0M567.3,177.2a1.4,1.4 0 1,0 2.8,0a1.4,1.4 0 1,0 -2.8,0M568.9,177.1a1.4,1.4 0 1,0 2.8,0a1.4,1.4 0 1,0 -2.8,0M570.5,177.0a1.4,1.4 0 1,0 2.8,0a1.4,1.4 0 1,0 -2.8,0M572.0,176.8a1.4,1.4 0 1,0 2.8,0a1.4,1.4 0 1,0 -2.8,0M573.6,177.8a1.4,1.4 0 1,0 2.8,0a1.4,1.4 0 1,0 -2.8,0M575.2,178.0a1.4,1.4 0 1,0 2.8,0a1.4,1.4 0 1,0 -2.8,0M576.8,177.4a1.4,1.4 0 1,0 2.8,0a1.4,1.4 0 1,0 -2.8,0M578.4,175.8a1.4,1.4 0 1,0 2.8,0a1.4,1.4 0 1,0 -2.8,0M580.0,176.4a1.4,1.4 0 1,0 2.8,0a1.4,1.4 0 1,0 -2.8,0M581.6,177.2a1.4,1.4 0 1,0 2.8,0a1.4,1.4 0 1,0 -2.8,0M583.1,178.1a1.4,1.4 0 1,0 2.8,0a1.4,1.4 0 1,0 -2.8,0M584.7,178.0a1.4,1.4 0 1,0 2.8,0a1.4,1.4 0 1,0 -2.8,0M586.3,178.0a1.4,1.4 0 1,0 2.8,0a1.4,1.4 0 1,0 -2.8,0M587.9,177.8a1.4,1.4 0 1,0 2.8,0a1.4,1.4 0 1,0 -2.8,0M589.4,177.2a1.4,1.4 0 1,0 2.8,0a1.4,1.4 0 1,0 -2.8,0M591.0,177.4a1.4,1.4 0 1,0 2.8,0a1.4,1.4 0 1,0 -2.8,0M592.6,177.3a1.4,1.4 0 1,0 2.8,0a1.4,1.4 0 1,0 -2.8,0M594.2,177.4a1.4,1.4 0 1,0 2.8,0a1.4,1.4 0 1,0 -2.8,0M595.7,177.4a1.4,1.4 0 1,0 2.8,0a1.4,1.4 0 1,0 -2.8,0M597.3,177.8a1.4,1.4 0 1,0 2.8,0a1.4,1.4 0 1,0 -2.8,0M598.9,178.8a1.4,1.4 0 1,0 2.8,0a1.4,1.4 0 1,0 -2.8,0M600.5,178.1a1.4,1.4 0 1,0 2.8,0a1.4,1.4 0 1,0 -2.8,0M602.1,178.4a1.4,1.4 0 1,0 2.8,0a1.4,1.4 0 1,0 -2.8,0M603.7,178.4a1.4,1.4 0 1,0 2.8,0a1.4,1.4 0 1,0 -2.8,0M605.3,178.4a1.4,1.4 0 1,0 2.8,0a1.4,1.4 0 1,0 -2.8,0M606.8,177.3a1.4,1.4 0 1,0 2.8,0a1.4,1.4 0 1,0 -2.8,0M608.4,176.9a1.4,1.4 0 1,0 2.8,0a1.4,1.4 0 1,0 -2.8,0M610.0,177.7a1.4,1.4 0 1,0 2.8,0a1.4,1.4 0 1,0 -2.8,0M611.6,178.5a1.4,1.4 0 1,0 2.8,0a1.4,1.4 0 1,0 -2.8,0M613.2,178.4a1.4,1.4 0 1,0 2.8,0a1.4,1.4 0 1,0 -2.8,0M614.7,177.8a1.4,1.4 0 1,0 2.8,0a1.4,1.4 0 1,0 -2.8,0M616.3,176.4a1.4,1.4 0 1,0 2.8,0a1.4,1.4 0 1,0 -2.8,0M618.1,177.1a1.4,1.4 0 1,0 2.8,0a1.4,1.4 0 1,0 -2.8,0M620.0,178.1a1.4,1.4 0 1,0 2.8,0a1.4,1.4 0 1,0 -2.8,0M621.8,178.8a1.4,1.4 0 1,0 2.8,0a1.4,1.4 0 1,0 -2.8,0M623.4,178.4a1.4,1.4 0 1,0 2.8,0a1.4,1.4 0 1,0 -2.8,0M624.9,177.5a1.4,1.4 0 1,0 2.8,0a1.4,1.4 0 1,0 -2.8,0M626.5,176.8a1.4,1.4 0 1,0 2.8,0a1.4,1.4 0 1,0 -2.8,0M628.1,176.8a1.4,1.4 0 1,0 2.8,0a1.4,1.4 0 1,0 -2.8,0M629.7,176.4a1.4,1.4 0 1,0 2.8,0a1.4,1.4 0 1,0 -2.8,0M631.3,176.7a1.4,1.4 0 1,0 2.8,0a1.4,1.4 0 1,0 -2.8,0M632.9,175.9a1.4,1.4 0 1,0 2.8,0a1.4,1.4 0 1,0 -2.8,0M634.4,175.8a1.4,1.4 0 1,0 2.8,0a1.4,1.4 0 1,0 -2.8,0M636.0,176.3a1.4,1.4 0 1,0 2.8,0a1.4,1.4 0 1,0 -2.8,0M637.6,175.7a1.4,1.4 0 1,0 2.8,0a1.4,1.4 0 1,0 -2.8,0M639.2,176.2a1.4,1.4 0 1,0 2.8,0a1.4,1.4 0 1,0 -2.8,0M640.8,175.5a1.4,1.4 0 1,0 2.8,0a1.4,1.4 0 1,0 -2.8,0M642.3,175.7a1.4,1.4 0 1,0 2.8,0a1.4,1.4 0 1,0 -2.8,0M644.3,176.1a1.4,1.4 0 1,0 2.8,0a1.4,1.4 0 1,0 -2.8,0M646.3,177.7a1.4,1.4 0 1,0 2.8,0a1.4,1.4 0 1,0 -2.8,0M648.1,177.6a1.4,1.4 0 1,0 2.8,0a1.4,1.4 0 1,0 -2.8,0M650.0,176.3a1.4,1.4 0 1,0 2.8,0a1.4,1.4 0 1,0 -2.8,0M651.8,176.8a1.4,1.4 0 1,0 2.8,0a1.4,1.4 0 1,0 -2.8,0M653.4,176.3a1.4,1.4 0 1,0 2.8,0a1.4,1.4 0 1,0 -2.8,0M655.0,177.4a1.4,1.4 0 1,0 2.8,0a1.4,1.4 0 1,0 -2.8,0M656.6,178.0a1.4,1.4 0 1,0 2.8,0a1.4,1.4 0 1,0 -2.8,0M658.2,177.4a1.4,1.4 0 1,0 2.8,0a1.4,1.4 0 1,0 -2.8,0M659.7,176.5a1.4,1.4 0 1,0 2.8,0a1.4,1.4 0 1,0 -2.8,0M661.3,175.8a1.4,1.4 0 1,0 2.8,0a1.4,1.4 0 1,0 -2.8,0M662.9,176.5a1.4,1.4 0 1,0 2.8,0a1.4,1.4 0 1,0 -2.8,0M664.5,177.1a1.4,1.4 0 1,0 2.8,0a1.4,1.4 0 1,0 -2.8,0M666.0,176.5a1.4,1.4 0 1,0 2.8,0a1.4,1.4 0 1,0 -2.8,0M667.6,177.4a1.4,1.4 0 1,0 2.8,0a1.4,1.4 0 1,0 -2.8,0M669.2,176.7a1.4,1.4 0 1,0 2.8,0a1.4,1.4 0 1,0 -2.8,0M670.8,177.8a1.4,1.4 0 1,0 2.8,0a1.4,1.4 0 1,0 -2.8,0M672.4,176.9a1.4,1.4 0 1,0 2.8,0a1.4,1.4 0 1,0 -2.8,0M674.0,177.5a1.4,1.4 0 1,0 2.8,0a1.4,1.4 0 1,0 -2.8,0M675.6,178.4a1.4,1.4 0 1,0 2.8,0a1.4,1.4 0 1,0 -2.8,0M677.2,178.1a1.4,1.4 0 1,0 2.8,0a1.4,1.4 0 1,0 -2.8,0M678.8,178.1a1.4,1.4 0 1,0 2.8,0a1.4,1.4 0 1,0 -2.8,0M680.3,177.9a1.4,1.4 0 1,0 2.8,0a1.4,1.4 0 1,0 -2.8,0M681.9,177.7a1.4,1.4 0 1,0 2.8,0a1.4,1.4 0 1,0 -2.8,0" fill="#ff8000"/><polyline points="393.9,126.8 395.8,124.9 397.7,123.9 399.1,123.3 400.5,123.6 401.9,123.2 403.4,120.5 404.9,118.1 407.2,121.1 409.0,120.7 410.5,119.8 412.0,119.1 413.8,118.3 415.5,116.6 417.9,112.6 419.7,110.2 421.5,107.7 423.2,106.8 425.0,107.0 426.8,105.3 428.6,104.0 430.2,102.7 431.7,102.5 433.3,101.6 435.1,101.8 436.9,102.2 439.2,105.5 441.0,102.8 442.8,100.7 444.6,101.3 446.4,101.2 448.1,99.4 449.9,98.5 451.4,99.5 453.0,100.6 454.4,98.0 455.9,95.9 457.7,95.2 459.5,93.8 461.1,93.6 462.6,93.1 464.2,92.3 465.9,92.8 467.7,93.3 469.0,92.4 470.3,91.1 471.6,89.0 473.0,88.1 474.8,85.6 476.1,86.0 477.4,87.0 478.8,86.1 480.1,83.9 481.5,84.6 482.8,84.8 484.1,83.2 485.4,82.8 486.8,83.9 488.1,84.1 489.5,85.9 490.8,87.3 492.1,86.7 493.4,86.5 495.2,87.5 497.0,88.5 498.4,85.7 499.7,83.0 501.0,81.8 502.3,80.5 504.5,75.7 506.9,83.0 508.6,83.4 510.2,84.5 511.7,84.9 513.3,84.8 514.9,85.8 516.4,86.2 518.0,87.7 519.8,87.4 521.6,89.2 523.4,86.6 525.2,84.1 527.0,84.4 528.7,86.0 530.5,85.3 532.3,83.5 534.0,86.6 535.8,89.0 537.4,88.0 539.0,87.2 540.6,86.1 542.2,86.3 543.7,86.0 545.3,84.9 546.8,85.2 548.2,84.6 549.7,84.1 551.2,84.1 552.8,83.3 554.4,83.7 556.0,83.3 557.8,84.0 559.5,86.3 561.9,89.7 563.2,88.3 564.8,88.2 566.3,87.7 567.9,88.7 569.5,88.2 571.1,88.0 572.7,87.9 574.2,87.6 575.8,88.6 577.4,87.7 579.0,87.1 580.6,85.8 582.2,85.3 583.8,85.1 585.3,84.2 586.9,84.4 588.5,83.7 590.9,86.6 593.2,82.7 594.8,82.0 596.4,81.5 598.0,80.2 599.6,79.3 601.2,78.9 602.7,78.0 604.3,77.0 605.9,76.0 607.4,75.8 609.7,74.4 611.5,72.4 613.3,69.1 615.7,69.3 617.5,68.5 619.2,70.8 621.6,72.9 623.4,66.6 625.2,65.0 627.6,66.0 629.9,64.9 631.7,67.6 634.1,69.6 635.9,71.2 638.2,69.9 640.6,68.4 643.0,67.7 644.8,65.3 646.0,65.5 647.3,66.0 648.9,64.8 650.4,63.1 652.0,61.3 653.8,61.5 655.6,61.2 657.2,61.3 658.7,61.5 660.3,62.2 662.1,63.2 663.9,64.2 665.6,64.7 667.4,64.9 669.0,65.9 670.6,65.7 672.2,66.5 673.8,67.6 675.3,69.5 676.9,71.4 679.3,67.1 680.8,68.1 682.2,69.8" fill="none" stroke="#ffff00" stroke-width="0.5"/><path d="M392.5,126.8a1.35,1.35 0 1,0 2.7,0a1.35,1.35 0 1,0 -2.7,0M394.4,124.9a1.35,1.35 0 1,0 2.7,0a1.35,1.35 0 1,0 -2.7,0M396.3,123.9a1.35,1.35 0 1,0 2.7,0a1.35,1.35 0 1,0 -2.7,0M397.7,123.3a1.35,1.35 0 1,0 2.7,0a1.35,1.35 0 1,0 -2.7,0M399.1,123.6a1.35,1.35 0 1,0 2.7,0a1.35,1.35 0 1,0 -2.7,0M400.5,123.2a1.35,1.35 0 1,0 2.7,0a1.35,1.35 0 1,0 -2.7,0M402.0,120.5a1.35,1.35 0 1,0 2.7,0a1.35,1.35 0 1,0 -2.7,0M403.5,118.1a1.35,1.35 0 1,0 2.7,0a1.35,1.35 0 1,0 -2.7,0M405.8,121.1a1.35,1.35 0 1,0 2.7,0a1.35,1.35 0 1,0 -2.7,0M407.6,120.7a1.35,1.35 0 1,0 2.7,0a1.35,1.35 0 1,0 -2.7,0M409.1,119.8a1.35,1.35 0 1,0 2.7,0a1.35,1.35 0 1,0 -2.7,0M410.6,119.1a1.35,1.35 0 1,0 2.7,0a1.35,1.35 0 1,0 -2.7,0M412.4,118.3a1.35,1.35 0 1,0 2.7,0a1.35,1.35 0 1,0 -2.7,0M414.1,116.6a1.35,1.35 0 1,0 2.7,0a1.35,1.35 0 1,0 -2.7,0M416.5,112.6a1.35,1.35 0 1,0 2.7,0a1.35,1.35 0 1,0 -2.7,0M418.3,110.2a1.35,1.35 0 1,0 2.7,0a1.35,1.35 0 1,0 -2.7,0M420.1,107.7a1.35,1.35 0 1,0 2.7,0a1.35,1.35 0 1,0 -2.7,0M421.9,106.8a1.35,1.35 0 1,0 2.7,0a1.35,1.35 0 1,0 -2.7,0M423.6,107.0a1.35,1.35 0 1,0 2.7,0a1.35,1.35 0 1,0 -2.7,0M425.4,105.3a1.35,1.35 0 1,0 2.7,0a1.35,1.35 0 1,0 -2.7,0M427.2,104.0a1.35,1.35 0 1,0 2.7,0a1.35,1.35 0 1,0 -2.7,0M428.8,102.7a1.35,1.35 0 1,0 2.7,0a1.35,1.35 0 1,0 -2.7,0M430.4,102.5a1.35,1.35 0 1,0 2.7,0a1.35,1.35 0 1,0 -2.7,0M431.9,101.6a1.35,1.35 0 1,0 2.7,0a1.35,1.35 0 1,0 -2.7,0M433.8,101.8a1.35,1.35 0 1,0 2.7,0a1.35,1.35 0 1,0 -2.7,0M435.5,102.2a1.35,1.35 0 1,0 2.7,0a1.35,1.35 0 1,0 -2.7,0M437.8,105.5a1.35,1.35 0 1,0 2.7,0a1.35,1.35 0 1,0 -2.7,0M439.6,102.8a1.35,1.35 0 1,0 2.7,0a1.35,1.35 0 1,0 -2.7,0M441.4,100.7a1.35,1.35 0 1,0 2.7,0a1.35,1.35 0 1,0 -2.7,0M443.2,101.3a1.35,1.35 0 1,0 2.7,0a1.35,1.35 0 1,0 -2.7,0M445.0,101.2a1.35,1.35 0 1,0 2.7,0a1.35,1.35 0 1,0 -2.7,0M446.8,99.4a1.35,1.35 0 1,0 2.7,0a1.35,1.35 0 1,0 -2.7,0M448.5,98.5a1.35,1.35 0 1,0 2.7,0a1.35,1.35 0 1,0 -2.7,0M450.1,99.5a1.35,1.35 0 1,0 2.7,0a1.35,1.35 0 1,0 -2.7,0M451.6,100.6a1.35,1.35 0 1,0 2.7,0a1.35,1.35 0 1,0 -2.7,0M453.1,98.0a1.35,1.35 0 1,0 2.7,0a1.35,1.35 0 1,0 -2.7,0M454.5,95.9a1.35,1.35 0 1,0 2.7,0a1.35,1.35 0 1,0 -2.7,0M456.3,95.2a1.35,1.35 0 1,0 2.7,0a1.35,1.35 0 1,0 -2.7,0M458.1,93.8a1.35,1.35 0 1,0 2.7,0a1.35,1.35 0 1,0 -2.7,0M459.7,93.6a1.35,1.35 0 1,0 2.7,0a1.35,1.35 0 1,0 -2.7,0M461.3,93.1a1.35,1.35 0 1,0 2.7,0a1.35,1.35 0 1,0 -2.7,0M462.8,92.3a1.35,1.35 0 1,0 2.7,0a1.35,1.35 0 1,0 -2.7,0M464.6,92.8a1.35,1.35 0 1,0 2.7,0a1.35,1.35 0 1,0 -2.7,0M466.3,93.3a1.35,1.35 0 1,0 2.7,0a1.35,1.35 0 1,0 -2.7,0M467.6,92.4a1.35,1.35 0 1,0 2.7,0a1.35,1.35 0 1,0 -2.7,0M468.9,91.1a1.35,1.35 0 1,0 2.7,0a1.35,1.35 0 1,0 -2.7,0M470.3,89.0a1.35,1.35 0 1,0 2.7,0a1.35,1.35 0 1,0 -2.7,0M471.6,88.1a1.35,1.35 0 1,0 2.7,0a1.35,1.35 0 1,0 -2.7,0M473.4,85.6a1.35,1.35 0 1,0 2.7,0a1.35,1.35 0 1,0 -2.7,0M474.8,86.0a1.35,1.35 0 1,0 2.7,0a1.35,1.35 0 1,0 -2.7,0M476.0,87.0a1.35,1.35 0 1,0 2.7,0a1.35,1.35 0 1,0 -2.7,0M477.4,86.1a1.35,1.35 0 1,0 2.7,0a1.35,1.35 0 1,0 -2.7,0M478.8,83.9a1.35,1.35 0 1,0 2.7,0a1.35,1.35 0 1,0 -2.7,0M480.1,84.6a1.35,1.35 0 1,0 2.7,0a1.35,1.35 0 1,0 -2.7,0M481.4,84.8a1.35,1.35 0 1,0 2.7,0a1.35,1.35 0 1,0 -2.7,0M482.8,83.2a1.35,1.35 0 1,0 2.7,0a1.35,1.35 0 1,0 -2.7,0M484.0,82.8a1.35,1.35 0 1,0 2.7,0a1.35,1.35 0 1,0 -2.7,0M485.4,83.9a1.35,1.35 0 1,0 2.7,0a1.35,1.35 0 1,0 -2.7,0M486.8,84.1a1.35,1.35 0 1,0 2.7,0a1.35,1.35 0 1,0 -2.7,0M488.1,85.9a1.35,1.35 0 1,0 2.7,0a1.35,1.35 0 1,0 -2.7,0M489.4,87.3a1.35,1.35 0 1,0 2.7,0a1.35,1.35 0 1,0 -2.7,0M490.8,86.7a1.35,1.35 0 1,0 2.7,0a1.35,1.35 0 1,0 -2.7,0M492.0,86.5a1.35,1.35 0 1,0 2.7,0a1.35,1.35 0 1,0 -2.7,0M493.8,87.5a1.35,1.35 0 1,0 2.7,0a1.35,1.35 0 1,0 -2.7,0M495.6,88.5a1.35,1.35 0 1,0 2.7,0a1.35,1.35 0 1,0 -2.7,0M497.0,85.7a1.35,1.35 0 1,0 2.7,0a1.35,1.35 0 1,0 -2.7,0M498.3,83.0a1.35,1.35 0 1,0 2.7,0a1.35,1.35 0 1,0 -2.7,0M499.6,81.8a1.35,1.35 0 1,0 2.7,0a1.35,1.35 0 1,0 -2.7,0M500.9,80.5a1.35,1.35 0 1,0 2.7,0a1.35,1.35 0 1,0 -2.7,0M503.1,75.7a1.35,1.35 0 1,0 2.7,0a1.35,1.35 0 1,0 -2.7,0M505.5,83.0a1.35,1.35 0 1,0 2.7,0a1.35,1.35 0 1,0 -2.7,0M507.2,83.4a1.35,1.35 0 1,0 2.7,0a1.35,1.35 0 1,0 -2.7,0M508.8,84.5a1.35,1.35 0 1,0 2.7,0a1.35,1.35 0 1,0 -2.7,0M510.4,84.9a1.35,1.35 0 1,0 2.7,0a1.35,1.35 0 1,0 -2.7,0M511.9,84.8a1.35,1.35 0 1,0 2.7,0a1.35,1.35 0 1,0 -2.7,0M513.5,85.8a1.35,1.35 0 1,0 2.7,0a1.35,1.35 0 1,0 -2.7,0M515.1,86.2a1.35,1.35 0 1,0 2.7,0a1.35,1.35 0 1,0 -2.7,0M516.6,87.7a1.35,1.35 0 1,0 2.7,0a1.35,1.35 0 1,0 -2.7,0M518.4,87.4a1.35,1.35 0 1,0 2.7,0a1.35,1.35 0 1,0 -2.7,0M520.2,89.2a1.35,1.35 0 1,0 2.7,0a1.35,1.35 0 1,0 -2.7,0M522.1,86.6a1.35,1.35 0 1,0 2.7,0a1.35,1.35 0 1,0 -2.7,0M523.9,84.1a1.35,1.35 0 1,0 2.7,0a1.35,1.35 0 1,0 -2.7,0M525.6,84.4a1.35,1.35 0 1,0 2.7,0a1.35,1.35 0 1,0 -2.7,0M527.4,86.0a1.35,1.35 0 1,0 2.7,0a1.35,1.35 0 1,0 -2.7,0M529.1,85.3a1.35,1.35 0 1,0 2.7,0a1.35,1.35 0 1,0 -2.7,0M530.9,83.5a1.35,1.35 0 1,0 2.7,0a1.35,1.35 0 1,0 -2.7,0M532.7,86.6a1.35,1.35 0 1,0 2.7,0a1.35,1.35 0 1,0 -2.7,0M534.4,89.0a1.35,1.35 0 1,0 2.7,0a1.35,1.35 0 1,0 -2.7,0M536.0,88.0a1.35,1.35 0 1,0 2.7,0a1.35,1.35 0 1,0 -2.7,0M537.6,87.2a1.35,1.35 0 1,0 2.7,0a1.35,1.35 0 1,0 -2.7,0M539.2,86.1a1.35,1.35 0 1,0 2.7,0a1.35,1.35 0 1,0 -2.7,0M540.8,86.3a1.35,1.35 0 1,0 2.7,0a1.35,1.35 0 1,0 -2.7,0M542.4,86.0a1.35,1.35 0 1,0 2.7,0a1.35,1.35 0 1,0 -2.7,0M543.9,84.9a1.35,1.35 0 1,0 2.7,0a1.35,1.35 0 1,0 -2.7,0M545.4,85.2a1.35,1.35 0 1,0 2.7,0a1.35,1.35 0 1,0 -2.7,0M546.9,84.6a1.35,1.35 0 1,0 2.7,0a1.35,1.35 0 1,0 -2.7,0M548.4,84.1a1.35,1.35 0 1,0 2.7,0a1.35,1.35 0 1,0 -2.7,0M549.9,84.1a1.35,1.35 0 1,0 2.7,0a1.35,1.35 0 1,0 -2.7,0M551.5,83.3a1.35,1.35 0 1,0 2.7,0a1.35,1.35 0 1,0 -2.7,0M553.0,83.7a1.35,1.35 0 1,0 2.7,0a1.35,1.35 0 1,0 -2.7,0M554.6,83.3a1.35,1.35 0 1,0 2.7,0a1.35,1.35 0 1,0 -2.7,0M556.4,84.0a1.35,1.35 0 1,0 2.7,0a1.35,1.35 0 1,0 -2.7,0M558.1,86.3a1.35,1.35 0 1,0 2.7,0a1.35,1.35 0 1,0 -2.7,0M560.5,89.7a1.35,1.35 0 1,0 2.7,0a1.35,1.35 0 1,0 -2.7,0M561.9,88.3a1.35,1.35 0 1,0 2.7,0a1.35,1.35 0 1,0 -2.7,0M563.4,88.2a1.35,1.35 0 1,0 2.7,0a1.35,1.35 0 1,0 -2.7,0M564.9,87.7a1.35,1.35 0 1,0 2.7,0a1.35,1.35 0 1,0 -2.7,0M566.5,88.7a1.35,1.35 0 1,0 2.7,0a1.35,1.35 0 1,0 -2.7,0M568.1,88.2a1.35,1.35 0 1,0 2.7,0a1.35,1.35 0 1,0 -2.7,0M569.8,88.0a1.35,1.35 0 1,0 2.7,0a1.35,1.35 0 1,0 -2.7,0M571.4,87.9a1.35,1.35 0 1,0 2.7,0a1.35,1.35 0 1,0 -2.7,0M572.9,87.6a1.35,1.35 0 1,0 2.7,0a1.35,1.35 0 1,0 -2.7,0M574.4,88.6a1.35,1.35 0 1,0 2.7,0a1.35,1.35 0 1,0 -2.7,0M576.0,87.7a1.35,1.35 0 1,0 2.7,0a1.35,1.35 0 1,0 -2.7,0M577.6,87.1a1.35,1.35 0 1,0 2.7,0a1.35,1.35 0 1,0 -2.7,0M579.2,85.8a1.35,1.35 0 1,0 2.7,0a1.35,1.35 0 1,0 -2.7,0M580.9,85.3a1.35,1.35 0 1,0 2.7,0a1.35,1.35 0 1,0 -2.7,0M582.4,85.1a1.35,1.35 0 1,0 2.7,0a1.35,1.35 0 1,0 -2.7,0M583.9,84.2a1.35,1.35 0 1,0 2.7,0a1.35,1.35 0 1,0 -2.7,0M585.5,84.4a1.35,1.35 0 1,0 2.7,0a1.35,1.35 0 1,0 -2.7,0M587.1,83.7a1.35,1.35 0 1,0 2.7,0a1.35,1.35 0 1,0 -2.7,0M589.5,86.6a1.35,1.35 0 1,0 2.7,0a1.35,1.35 0 1,0 -2.7,0M591.9,82.7a1.35,1.35 0 1,0 2.7,0a1.35,1.35 0 1,0 -2.7,0M593.4,82.0a1.35,1.35 0 1,0 2.7,0a1.35,1.35 0 1,0 -2.7,0M595.0,81.5a1.35,1.35 0 1,0 2.7,0a1.35,1.35 0 1,0 -2.7,0M596.6,80.2a1.35,1.35 0 1,0 2.7,0a1.35,1.35 0 1,0 -2.7,0M598.2,79.3a1.35,1.35 0 1,0 2.7,0a1.35,1.35 0 1,0 -2.7,0M599.8,78.9a1.35,1.35 0 1,0 2.7,0a1.35,1.35 0 1,0 -2.7,0M601.4,78.0a1.35,1.35 0 1,0 2.7,0a1.35,1.35 0 1,0 -2.7,0M602.9,77.0a1.35,1.35 0 1,0 2.7,0a1.35,1.35 0 1,0 -2.7,0M604.5,76.0a1.35,1.35 0 1,0 2.7,0a1.35,1.35 0 1,0 -2.7,0M606.0,75.8a1.35,1.35 0 1,0 2.7,0a1.35,1.35 0 1,0 -2.7,0M608.4,74.4a1.35,1.35 0 1,0 2.7,0a1.35,1.35 0 1,0 -2.7,0M610.1,72.4a1.35,1.35 0 1,0 2.7,0a1.35,1.35 0 1,0 -2.7,0M611.9,69.1a1.35,1.35 0 1,0 2.7,0a1.35,1.35 0 1,0 -2.7,0M614.4,69.3a1.35,1.35 0 1,0 2.7,0a1.35,1.35 0 1,0 -2.7,0M616.1,68.5a1.35,1.35 0 1,0 2.7,0a1.35,1.35 0 1,0 -2.7,0M617.9,70.8a1.35,1.35 0 1,0 2.7,0a1.35,1.35 0 1,0 -2.7,0M620.2,72.9a1.35,1.35 0 1,0 2.7,0a1.35,1.35 0 1,0 -2.7,0M622.0,66.6a1.35,1.35 0 1,0 2.7,0a1.35,1.35 0 1,0 -2.7,0M623.9,65.0a1.35,1.35 0 1,0 2.7,0a1.35,1.35 0 1,0 -2.7,0M626.2,66.0a1.35,1.35 0 1,0 2.7,0a1.35,1.35 0 1,0 -2.7,0M628.5,64.9a1.35,1.35 0 1,0 2.7,0a1.35,1.35 0 1,0 -2.7,0M630.4,67.6a1.35,1.35 0 1,0 2.7,0a1.35,1.35 0 1,0 -2.7,0M632.8,69.6a1.35,1.35 0 1,0 2.7,0a1.35,1.35 0 1,0 -2.7,0M634.5,71.2a1.35,1.35 0 1,0 2.7,0a1.35,1.35 0 1,0 -2.7,0M636.9,69.9a1.35,1.35 0 1,0 2.7,0a1.35,1.35 0 1,0 -2.7,0M639.2,68.4a1.35,1.35 0 1,0 2.7,0a1.35,1.35 0 1,0 -2.7,0M641.6,67.7a1.35,1.35 0 1,0 2.7,0a1.35,1.35 0 1,0 -2.7,0M643.4,65.3a1.35,1.35 0 1,0 2.7,0a1.35,1.35 0 1,0 -2.7,0M644.7,65.5a1.35,1.35 0 1,0 2.7,0a1.35,1.35 0 1,0 -2.7,0M645.9,66.0a1.35,1.35 0 1,0 2.7,0a1.35,1.35 0 1,0 -2.7,0M647.5,64.8a1.35,1.35 0 1,0 2.7,0a1.35,1.35 0 1,0 -2.7,0M649.1,63.1a1.35,1.35 0 1,0 2.7,0a1.35,1.35 0 1,0 -2.7,0M650.6,61.3a1.35,1.35 0 1,0 2.7,0a1.35,1.35 0 1,0 -2.7,0M652.4,61.5a1.35,1.35 0 1,0 2.7,0a1.35,1.35 0 1,0 -2.7,0M654.2,61.2a1.35,1.35 0 1,0 2.7,0a1.35,1.35 0 1,0 -2.7,0M655.8,61.3a1.35,1.35 0 1,0 2.7,0a1.35,1.35 0 1,0 -2.7,0M657.4,61.5a1.35,1.35 0 1,0 2.7,0a1.35,1.35 0 1,0 -2.7,0M658.9,62.2a1.35,1.35 0 1,0 2.7,0a1.35,1.35 0 1,0 -2.7,0M660.7,63.2a1.35,1.35 0 1,0 2.7,0a1.35,1.35 0 1,0 -2.7,0M662.5,64.2a1.35,1.35 0 1,0 2.7,0a1.35,1.35 0 1,0 -2.7,0M664.3,64.7a1.35,1.35 0 1,0 2.7,0a1.35,1.35 0 1,0 -2.7,0M666.0,64.9a1.35,1.35 0 1,0 2.7,0a1.35,1.35 0 1,0 -2.7,0M667.6,65.9a1.35,1.35 0 1,0 2.7,0a1.35,1.35 0 1,0 -2.7,0M669.2,65.7a1.35,1.35 0 1,0 2.7,0a1.35,1.35 0 1,0 -2.7,0M670.9,66.5a1.35,1.35 0 1,0 2.7,0a1.35,1.35 0 1,0 -2.7,0M672.4,67.6a1.35,1.35 0 1,0 2.7,0a1.35,1.35 0 1,0 -2.7,0M674.0,69.5a1.35,1.35 0 1,0 2.7,0a1.35,1.35 0 1,0 -2.7,0M675.5,71.4a1.35,1.35 0 1,0 2.7,0a1.35,1.35 0 1,0 -2.7,0M677.9,67.1a1.35,1.35 0 1,0 2.7,0a1.35,1.35 0 1,0 -2.7,0M679.4,68.1a1.35,1.35 0 1,0 2.7,0a1.35,1.35 0 1,0 -2.7,0M680.9,69.8a1.35,1.35 0 1,0 2.7,0a1.35,1.35 0 1,0 -2.7,0" fill="#ffff00"/><polyline points="394.8,128.4 396.1,130.4 397.5,132.2 398.8,135.3 400.1,138.0 401.9,141.6 403.5,139.4 404.6,133.8 405.8,140.3 407.2,145.8 409.0,146.7 410.8,147.4 412.6,148.8 414.4,147.9 416.1,147.2 417.9,146.3 419.7,145.2 421.5,145.9 423.3,146.4 425.1,146.7 426.8,146.5 428.6,146.6 430.4,146.1 432.2,145.7 433.9,144.1 435.7,142.4 437.5,132.5 438.9,128.6 441.1,127.0 442.9,126.4 444.6,125.6 446.4,126.1 448.6,124.4 450.4,125.0 452.1,125.1 453.9,124.4 455.7,123.5 458.0,124.3 460.4,118.3 462.8,121.0 465.2,114.3 467.5,120.8 469.3,121.9 471.1,122.2 473.5,125.0 475.2,125.6 477.0,125.7 478.8,125.9 480.6,126.4 482.4,124.3 484.1,120.5 485.9,121.5 487.7,123.6 489.3,123.1 490.8,122.7 492.4,122.7 494.2,122.0 496.0,120.4 497.8,122.2 499.5,123.5 500.9,125.1 502.2,126.1 503.6,128.0 505.4,125.2 507.1,123.3 508.9,121.4 510.7,120.7 512.5,121.0 514.2,120.6 515.8,120.9 517.4,122.2 519.0,122.2 520.8,123.0 522.5,122.6 524.9,125.6 526.7,123.7 528.5,121.8 530.8,123.1 533.2,117.6 535.6,116.9 537.9,113.3 539.8,110.4 540.6,95.8 542.7,94.2 544.0,92.2 545.3,91.5 546.9,90.1 548.5,88.7 550.1,87.1 551.7,86.4 553.2,84.9 554.8,83.9 556.4,83.9 557.9,82.7 559.5,82.5 561.0,80.4 562.4,79.6 564.7,77.5 567.1,75.4 568.7,77.2 571.1,79.2 573.4,78.5 575.8,75.6 578.2,73.3 579.8,69.3 580.6,61.2 582.2,57.6 584.5,57.6 586.9,56.5 589.3,56.5 591.3,55.1 592.4,63.3 594.0,66.7 596.4,69.6 598.8,74.1 601.1,73.5 603.5,73.1 605.9,70.9 607.4,70.7 609.7,68.4 612.1,71.3 614.5,67.4 616.9,65.7 619.2,67.6 621.6,64.8 624.0,68.5 626.4,65.1 628.7,64.5 631.1,62.6 632.9,66.7 635.3,69.5 636.8,69.0 638.2,67.3 640.6,68.2 643.0,71.2 645.0,69.4 646.8,67.7 648.5,66.2 650.2,63.7 652.0,60.1 653.8,60.1 655.6,59.3 657.2,58.2 658.7,58.7 660.3,57.2 661.9,57.8 663.5,58.8 665.1,58.5 666.7,59.0 668.2,58.9 669.8,59.5 671.4,60.4 673.0,60.9 674.6,60.3 676.2,60.1 677.7,60.8 679.3,59.7 680.8,59.3 682.2,58.5" fill="none" stroke="#ff0000" stroke-width="0.5"/><path d="M393.5,128.4a1.3,1.3 0 1,0 2.6,0a1.3,1.3 0 1,0 -2.6,0M394.8,130.4a1.3,1.3 0 1,0 2.6,0a1.3,1.3 0 1,0 -2.6,0M396.2,132.2a1.3,1.3 0 1,0 2.6,0a1.3,1.3 0 1,0 -2.6,0M397.5,135.3a1.3,1.3 0 1,0 2.6,0a1.3,1.3 0 1,0 -2.6,0M398.8,138.0a1.3,1.3 0 1,0 2.6,0a1.3,1.3 0 1,0 -2.6,0M400.6,141.6a1.3,1.3 0 1,0 2.6,0a1.3,1.3 0 1,0 -2.6,0M402.2,139.4a1.3,1.3 0 1,0 2.6,0a1.3,1.3 0 1,0 -2.6,0M403.3,133.8a1.3,1.3 0 1,0 2.6,0a1.3,1.3 0 1,0 -2.6,0M404.5,140.3a1.3,1.3 0 1,0 2.6,0a1.3,1.3 0 1,0 -2.6,0M405.9,145.8a1.3,1.3 0 1,0 2.6,0a1.3,1.3 0 1,0 -2.6,0M407.7,146.7a1.3,1.3 0 1,0 2.6,0a1.3,1.3 0 1,0 -2.6,0M409.5,147.4a1.3,1.3 0 1,0 2.6,0a1.3,1.3 0 1,0 -2.6,0M411.3,148.8a1.3,1.3 0 1,0 2.6,0a1.3,1.3 0 1,0 -2.6,0M413.1,147.9a1.3,1.3 0 1,0 2.6,0a1.3,1.3 0 1,0 -2.6,0M414.8,147.2a1.3,1.3 0 1,0 2.6,0a1.3,1.3 0 1,0 -2.6,0M416.6,146.3a1.3,1.3 0 1,0 2.6,0a1.3,1.3 0 1,0 -2.6,0M418.4,145.2a1.3,1.3 0 1,0 2.6,0a1.3,1.3 0 1,0 -2.6,0M420.2,145.9a1.3,1.3 0 1,0 2.6,0a1.3,1.3 0 1,0 -2.6,0M422.0,146.4a1.3,1.3 0 1,0 2.6,0a1.3,1.3 0 1,0 -2.6,0M423.8,146.7a1.3,1.3 0 1,0 2.6,0a1.3,1.3 0 1,0 -2.6,0M425.5,146.5a1.3,1.3 0 1,0 2.6,0a1.3,1.3 0 1,0 -2.6,0M427.3,146.6a1.3,1.3 0 1,0 2.6,0a1.3,1.3 0 1,0 -2.6,0M429.1,146.1a1.3,1.3 0 1,0 2.6,0a1.3,1.3 0 1,0 -2.6,0M430.9,145.7a1.3,1.3 0 1,0 2.6,0a1.3,1.3 0 1,0 -2.6,0M432.6,144.1a1.3,1.3 0 1,0 2.6,0a1.3,1.3 0 1,0 -2.6,0M434.4,142.4a1.3,1.3 0 1,0 2.6,0a1.3,1.3 0 1,0 -2.6,0M436.2,132.5a1.3,1.3 0 1,0 2.6,0a1.3,1.3 0 1,0 -2.6,0M437.6,128.6a1.3,1.3 0 1,0 2.6,0a1.3,1.3 0 1,0 -2.6,0M439.8,127.0a1.3,1.3 0 1,0 2.6,0a1.3,1.3 0 1,0 -2.6,0M441.6,126.4a1.3,1.3 0 1,0 2.6,0a1.3,1.3 0 1,0 -2.6,0M443.3,125.6a1.3,1.3 0 1,0 2.6,0a1.3,1.3 0 1,0 -2.6,0M445.1,126.1a1.3,1.3 0 1,0 2.6,0a1.3,1.3 0 1,0 -2.6,0M447.3,124.4a1.3,1.3 0 1,0 2.6,0a1.3,1.3 0 1,0 -2.6,0M449.1,125.0a1.3,1.3 0 1,0 2.6,0a1.3,1.3 0 1,0 -2.6,0M450.8,125.1a1.3,1.3 0 1,0 2.6,0a1.3,1.3 0 1,0 -2.6,0M452.6,124.4a1.3,1.3 0 1,0 2.6,0a1.3,1.3 0 1,0 -2.6,0M454.4,123.5a1.3,1.3 0 1,0 2.6,0a1.3,1.3 0 1,0 -2.6,0M456.7,124.3a1.3,1.3 0 1,0 2.6,0a1.3,1.3 0 1,0 -2.6,0M459.1,118.3a1.3,1.3 0 1,0 2.6,0a1.3,1.3 0 1,0 -2.6,0M461.5,121.0a1.3,1.3 0 1,0 2.6,0a1.3,1.3 0 1,0 -2.6,0M463.9,114.3a1.3,1.3 0 1,0 2.6,0a1.3,1.3 0 1,0 -2.6,0M466.2,120.8a1.3,1.3 0 1,0 2.6,0a1.3,1.3 0 1,0 -2.6,0M468.0,121.9a1.3,1.3 0 1,0 2.6,0a1.3,1.3 0 1,0 -2.6,0M469.8,122.2a1.3,1.3 0 1,0 2.6,0a1.3,1.3 0 1,0 -2.6,0M472.2,125.0a1.3,1.3 0 1,0 2.6,0a1.3,1.3 0 1,0 -2.6,0M473.9,125.6a1.3,1.3 0 1,0 2.6,0a1.3,1.3 0 1,0 -2.6,0M475.7,125.7a1.3,1.3 0 1,0 2.6,0a1.3,1.3 0 1,0 -2.6,0M477.5,125.9a1.3,1.3 0 1,0 2.6,0a1.3,1.3 0 1,0 -2.6,0M479.3,126.4a1.3,1.3 0 1,0 2.6,0a1.3,1.3 0 1,0 -2.6,0M481.1,124.3a1.3,1.3 0 1,0 2.6,0a1.3,1.3 0 1,0 -2.6,0M482.8,120.5a1.3,1.3 0 1,0 2.6,0a1.3,1.3 0 1,0 -2.6,0M484.6,121.5a1.3,1.3 0 1,0 2.6,0a1.3,1.3 0 1,0 -2.6,0M486.4,123.6a1.3,1.3 0 1,0 2.6,0a1.3,1.3 0 1,0 -2.6,0M488.0,123.1a1.3,1.3 0 1,0 2.6,0a1.3,1.3 0 1,0 -2.6,0M489.5,122.7a1.3,1.3 0 1,0 2.6,0a1.3,1.3 0 1,0 -2.6,0M491.1,122.7a1.3,1.3 0 1,0 2.6,0a1.3,1.3 0 1,0 -2.6,0M492.9,122.0a1.3,1.3 0 1,0 2.6,0a1.3,1.3 0 1,0 -2.6,0M494.7,120.4a1.3,1.3 0 1,0 2.6,0a1.3,1.3 0 1,0 -2.6,0M496.4,122.2a1.3,1.3 0 1,0 2.6,0a1.3,1.3 0 1,0 -2.6,0M498.2,123.5a1.3,1.3 0 1,0 2.6,0a1.3,1.3 0 1,0 -2.6,0M499.6,125.1a1.3,1.3 0 1,0 2.6,0a1.3,1.3 0 1,0 -2.6,0M500.9,126.1a1.3,1.3 0 1,0 2.6,0a1.3,1.3 0 1,0 -2.6,0M502.3,128.0a1.3,1.3 0 1,0 2.6,0a1.3,1.3 0 1,0 -2.6,0M504.1,125.2a1.3,1.3 0 1,0 2.6,0a1.3,1.3 0 1,0 -2.6,0M505.8,123.3a1.3,1.3 0 1,0 2.6,0a1.3,1.3 0 1,0 -2.6,0M507.6,121.4a1.3,1.3 0 1,0 2.6,0a1.3,1.3 0 1,0 -2.6,0M509.4,120.7a1.3,1.3 0 1,0 2.6,0a1.3,1.3 0 1,0 -2.6,0M511.2,121.0a1.3,1.3 0 1,0 2.6,0a1.3,1.3 0 1,0 -2.6,0M512.9,120.6a1.3,1.3 0 1,0 2.6,0a1.3,1.3 0 1,0 -2.6,0M514.5,120.9a1.3,1.3 0 1,0 2.6,0a1.3,1.3 0 1,0 -2.6,0M516.1,122.2a1.3,1.3 0 1,0 2.6,0a1.3,1.3 0 1,0 -2.6,0M517.7,122.2a1.3,1.3 0 1,0 2.6,0a1.3,1.3 0 1,0 -2.6,0M519.5,123.0a1.3,1.3 0 1,0 2.6,0a1.3,1.3 0 1,0 -2.6,0M521.2,122.6a1.3,1.3 0 1,0 2.6,0a1.3,1.3 0 1,0 -2.6,0M523.6,125.6a1.3,1.3 0 1,0 2.6,0a1.3,1.3 0 1,0 -2.6,0M525.4,123.7a1.3,1.3 0 1,0 2.6,0a1.3,1.3 0 1,0 -2.6,0M527.2,121.8a1.3,1.3 0 1,0 2.6,0a1.3,1.3 0 1,0 -2.6,0M529.5,123.1a1.3,1.3 0 1,0 2.6,0a1.3,1.3 0 1,0 -2.6,0M531.9,117.6a1.3,1.3 0 1,0 2.6,0a1.3,1.3 0 1,0 -2.6,0M534.3,116.9a1.3,1.3 0 1,0 2.6,0a1.3,1.3 0 1,0 -2.6,0M536.6,113.3a1.3,1.3 0 1,0 2.6,0a1.3,1.3 0 1,0 -2.6,0M538.5,110.4a1.3,1.3 0 1,0 2.6,0a1.3,1.3 0 1,0 -2.6,0M539.3,95.8a1.3,1.3 0 1,0 2.6,0a1.3,1.3 0 1,0 -2.6,0M541.4,94.2a1.3,1.3 0 1,0 2.6,0a1.3,1.3 0 1,0 -2.6,0M542.7,92.2a1.3,1.3 0 1,0 2.6,0a1.3,1.3 0 1,0 -2.6,0M544.0,91.5a1.3,1.3 0 1,0 2.6,0a1.3,1.3 0 1,0 -2.6,0M545.6,90.1a1.3,1.3 0 1,0 2.6,0a1.3,1.3 0 1,0 -2.6,0M547.2,88.7a1.3,1.3 0 1,0 2.6,0a1.3,1.3 0 1,0 -2.6,0M548.8,87.1a1.3,1.3 0 1,0 2.6,0a1.3,1.3 0 1,0 -2.6,0M550.4,86.4a1.3,1.3 0 1,0 2.6,0a1.3,1.3 0 1,0 -2.6,0M551.9,84.9a1.3,1.3 0 1,0 2.6,0a1.3,1.3 0 1,0 -2.6,0M553.5,83.9a1.3,1.3 0 1,0 2.6,0a1.3,1.3 0 1,0 -2.6,0M555.1,83.9a1.3,1.3 0 1,0 2.6,0a1.3,1.3 0 1,0 -2.6,0M556.6,82.7a1.3,1.3 0 1,0 2.6,0a1.3,1.3 0 1,0 -2.6,0M558.2,82.5a1.3,1.3 0 1,0 2.6,0a1.3,1.3 0 1,0 -2.6,0M559.7,80.4a1.3,1.3 0 1,0 2.6,0a1.3,1.3 0 1,0 -2.6,0M561.1,79.6a1.3,1.3 0 1,0 2.6,0a1.3,1.3 0 1,0 -2.6,0M563.4,77.5a1.3,1.3 0 1,0 2.6,0a1.3,1.3 0 1,0 -2.6,0M565.8,75.4a1.3,1.3 0 1,0 2.6,0a1.3,1.3 0 1,0 -2.6,0M567.4,77.2a1.3,1.3 0 1,0 2.6,0a1.3,1.3 0 1,0 -2.6,0M569.8,79.2a1.3,1.3 0 1,0 2.6,0a1.3,1.3 0 1,0 -2.6,0M572.1,78.5a1.3,1.3 0 1,0 2.6,0a1.3,1.3 0 1,0 -2.6,0M574.5,75.6a1.3,1.3 0 1,0 2.6,0a1.3,1.3 0 1,0 -2.6,0M576.9,73.3a1.3,1.3 0 1,0 2.6,0a1.3,1.3 0 1,0 -2.6,0M578.5,69.3a1.3,1.3 0 1,0 2.6,0a1.3,1.3 0 1,0 -2.6,0M579.3,61.2a1.3,1.3 0 1,0 2.6,0a1.3,1.3 0 1,0 -2.6,0M580.9,57.6a1.3,1.3 0 1,0 2.6,0a1.3,1.3 0 1,0 -2.6,0M583.2,57.6a1.3,1.3 0 1,0 2.6,0a1.3,1.3 0 1,0 -2.6,0M585.6,56.5a1.3,1.3 0 1,0 2.6,0a1.3,1.3 0 1,0 -2.6,0M588.0,56.5a1.3,1.3 0 1,0 2.6,0a1.3,1.3 0 1,0 -2.6,0M590.0,55.1a1.3,1.3 0 1,0 2.6,0a1.3,1.3 0 1,0 -2.6,0M591.1,63.3a1.3,1.3 0 1,0 2.6,0a1.3,1.3 0 1,0 -2.6,0M592.7,66.7a1.3,1.3 0 1,0 2.6,0a1.3,1.3 0 1,0 -2.6,0M595.1,69.6a1.3,1.3 0 1,0 2.6,0a1.3,1.3 0 1,0 -2.6,0M597.5,74.1a1.3,1.3 0 1,0 2.6,0a1.3,1.3 0 1,0 -2.6,0M599.8,73.5a1.3,1.3 0 1,0 2.6,0a1.3,1.3 0 1,0 -2.6,0M602.2,73.1a1.3,1.3 0 1,0 2.6,0a1.3,1.3 0 1,0 -2.6,0M604.6,70.9a1.3,1.3 0 1,0 2.6,0a1.3,1.3 0 1,0 -2.6,0M606.1,70.7a1.3,1.3 0 1,0 2.6,0a1.3,1.3 0 1,0 -2.6,0M608.4,68.4a1.3,1.3 0 1,0 2.6,0a1.3,1.3 0 1,0 -2.6,0M610.8,71.3a1.3,1.3 0 1,0 2.6,0a1.3,1.3 0 1,0 -2.6,0M613.2,67.4a1.3,1.3 0 1,0 2.6,0a1.3,1.3 0 1,0 -2.6,0M615.6,65.7a1.3,1.3 0 1,0 2.6,0a1.3,1.3 0 1,0 -2.6,0M617.9,67.6a1.3,1.3 0 1,0 2.6,0a1.3,1.3 0 1,0 -2.6,0M620.3,64.8a1.3,1.3 0 1,0 2.6,0a1.3,1.3 0 1,0 -2.6,0M622.7,68.5a1.3,1.3 0 1,0 2.6,0a1.3,1.3 0 1,0 -2.6,0M625.1,65.1a1.3,1.3 0 1,0 2.6,0a1.3,1.3 0 1,0 -2.6,0M627.4,64.5a1.3,1.3 0 1,0 2.6,0a1.3,1.3 0 1,0 -2.6,0M629.8,62.6a1.3,1.3 0 1,0 2.6,0a1.3,1.3 0 1,0 -2.6,0M631.6,66.7a1.3,1.3 0 1,0 2.6,0a1.3,1.3 0 1,0 -2.6,0M634.0,69.5a1.3,1.3 0 1,0 2.6,0a1.3,1.3 0 1,0 -2.6,0M635.5,69.0a1.3,1.3 0 1,0 2.6,0a1.3,1.3 0 1,0 -2.6,0M636.9,67.3a1.3,1.3 0 1,0 2.6,0a1.3,1.3 0 1,0 -2.6,0M639.3,68.2a1.3,1.3 0 1,0 2.6,0a1.3,1.3 0 1,0 -2.6,0M641.7,71.2a1.3,1.3 0 1,0 2.6,0a1.3,1.3 0 1,0 -2.6,0M643.7,69.4a1.3,1.3 0 1,0 2.6,0a1.3,1.3 0 1,0 -2.6,0M645.5,67.7a1.3,1.3 0 1,0 2.6,0a1.3,1.3 0 1,0 -2.6,0M647.2,66.2a1.3,1.3 0 1,0 2.6,0a1.3,1.3 0 1,0 -2.6,0M649.0,63.7a1.3,1.3 0 1,0 2.6,0a1.3,1.3 0 1,0 -2.6,0M650.7,60.1a1.3,1.3 0 1,0 2.6,0a1.3,1.3 0 1,0 -2.6,0M652.5,60.1a1.3,1.3 0 1,0 2.6,0a1.3,1.3 0 1,0 -2.6,0M654.3,59.3a1.3,1.3 0 1,0 2.6,0a1.3,1.3 0 1,0 -2.6,0M655.9,58.2a1.3,1.3 0 1,0 2.6,0a1.3,1.3 0 1,0 -2.6,0M657.4,58.7a1.3,1.3 0 1,0 2.6,0a1.3,1.3 0 1,0 -2.6,0M659.0,57.2a1.3,1.3 0 1,0 2.6,0a1.3,1.3 0 1,0 -2.6,0M660.6,57.8a1.3,1.3 0 1,0 2.6,0a1.3,1.3 0 1,0 -2.6,0M662.2,58.8a1.3,1.3 0 1,0 2.6,0a1.3,1.3 0 1,0 -2.6,0M663.8,58.5a1.3,1.3 0 1,0 2.6,0a1.3,1.3 0 1,0 -2.6,0M665.4,59.0a1.3,1.3 0 1,0 2.6,0a1.3,1.3 0 1,0 -2.6,0M666.9,58.9a1.3,1.3 0 1,0 2.6,0a1.3,1.3 0 1,0 -2.6,0M668.5,59.5a1.3,1.3 0 1,0 2.6,0a1.3,1.3 0 1,0 -2.6,0M670.1,60.4a1.3,1.3 0 1,0 2.6,0a1.3,1.3 0 1,0 -2.6,0M671.7,60.9a1.3,1.3 0 1,0 2.6,0a1.3,1.3 0 1,0 -2.6,0M673.3,60.3a1.3,1.3 0 1,0 2.6,0a1.3,1.3 0 1,0 -2.6,0M674.9,60.1a1.3,1.3 0 1,0 2.6,0a1.3,1.3 0 1,0 -2.6,0M676.4,60.8a1.3,1.3 0 1,0 2.6,0a1.3,1.3 0 1,0 -2.6,0M678.0,59.7a1.3,1.3 0 1,0 2.6,0a1.3,1.3 0 1,0 -2.6,0M679.5,59.3a1.3,1.3 0 1,0 2.6,0a1.3,1.3 0 1,0 -2.6,0M680.9,58.5a1.3,1.3 0 1,0 2.6,0a1.3,1.3 0 1,0 -2.6,0" fill="#ff0000"/><polyline points="394.8,142.4 396.6,144.4 398.4,145.3 400.1,145.5 401.5,144.7 402.8,144.2 404.1,143.3 405.5,142.4 406.8,143.8 408.1,145.3 409.6,145.0 411.1,144.6 412.6,144.5 414.4,145.1 416.1,144.3 417.9,143.6 419.7,143.5 421.5,143.0 423.3,142.5 425.1,142.1 426.8,142.6 428.6,142.8 430.4,143.0 432.2,144.3 433.9,141.9 435.7,140.4 437.5,141.0 439.3,141.5 441.1,141.7 442.8,142.0 444.6,141.7 446.3,142.2 448.0,140.9 449.7,141.5 451.3,141.0 452.9,140.6 454.5,139.3 456.2,138.5 458.0,138.6 459.8,136.6 461.6,134.9 464.0,132.1 465.9,128.5 467.1,123.2 468.7,119.5 470.6,113.3 472.3,105.3 473.9,95.2 475.7,92.8 477.0,89.5 478.3,87.9 479.8,85.9 481.3,85.3 482.8,82.9 484.6,81.5 486.3,80.7 488.1,77.5 489.9,72.6 491.7,68.8 493.4,68.7 494.8,67.8 496.1,67.0 497.5,66.6 498.8,67.0 500.1,66.1 501.4,65.8 502.8,64.1 504.1,62.8 506.2,56.9 508.6,52.4 510.4,53.8 512.1,54.9 513.7,56.0 515.3,56.1 516.9,57.2 518.6,57.5 520.4,58.2 522.2,60.4 524.0,62.5 525.6,63.0 527.1,62.9 528.7,62.2 530.3,61.9 531.9,61.9 533.5,61.8 535.3,61.6 537.0,62.2 538.8,62.8 540.6,62.5 542.4,66.1 544.1,68.7 545.7,68.8 547.3,69.3 548.9,69.9 550.6,69.6 552.4,69.9 554.2,67.9 556.0,66.1 558.0,64.3 560.0,63.9 561.6,62.8 563.2,62.5 564.8,61.5 566.3,62.0 567.9,60.6 569.5,60.3 571.1,61.0 572.7,61.7 574.2,62.4 575.8,63.5 578.2,61.6 580.6,59.9 582.2,58.8 583.7,59.0 585.3,58.8 586.9,58.1 588.5,56.6 590.0,55.0 591.6,53.5 593.2,58.5 595.6,60.8 597.2,59.7 598.8,58.6 600.3,57.5 601.9,56.9 603.5,55.9 605.1,55.1 607.5,56.7 609.5,58.0 611.4,60.4 612.7,60.7 614.0,59.7 615.2,59.8 616.5,60.0 617.8,58.7 619.0,58.3 620.2,58.7 621.5,58.1 622.8,57.8 624.1,57.8 625.4,57.6 626.6,56.8 628.5,59.2 630.4,55.4 631.6,55.9 632.9,55.2 634.2,54.5 635.5,55.1 637.8,52.4 639.4,52.3 640.9,52.4 642.5,51.7 644.1,50.5 645.7,50.6 647.3,49.6 648.9,49.5 650.4,49.2 652.0,48.2 653.8,49.7 655.6,50.8 657.4,51.8 659.1,52.3 660.7,52.0 662.3,51.9 663.9,52.0 665.5,51.3 667.0,51.4 668.6,52.2 670.2,51.8 671.8,51.1 673.4,50.7 675.0,50.8 676.5,51.6 678.1,51.8 679.5,51.0 680.8,49.9 682.2,50.4" fill="none" stroke="#ffffff" stroke-width="0.5"/><path d="M393.6,142.4a1.25,1.25 0 1,0 2.5,0a1.25,1.25 0 1,0 -2.5,0M395.4,144.4a1.25,1.25 0 1,0 2.5,0a1.25,1.25 0 1,0 -2.5,0M397.1,145.3a1.25,1.25 0 1,0 2.5,0a1.25,1.25 0 1,0 -2.5,0M398.9,145.5a1.25,1.25 0 1,0 2.5,0a1.25,1.25 0 1,0 -2.5,0M400.2,144.7a1.25,1.25 0 1,0 2.5,0a1.25,1.25 0 1,0 -2.5,0M401.6,144.2a1.25,1.25 0 1,0 2.5,0a1.25,1.25 0 1,0 -2.5,0M402.9,143.3a1.25,1.25 0 1,0 2.5,0a1.25,1.25 0 1,0 -2.5,0M404.2,142.4a1.25,1.25 0 1,0 2.5,0a1.25,1.25 0 1,0 -2.5,0M405.6,143.8a1.25,1.25 0 1,0 2.5,0a1.25,1.25 0 1,0 -2.5,0M406.9,145.3a1.25,1.25 0 1,0 2.5,0a1.25,1.25 0 1,0 -2.5,0M408.4,145.0a1.25,1.25 0 1,0 2.5,0a1.25,1.25 0 1,0 -2.5,0M409.9,144.6a1.25,1.25 0 1,0 2.5,0a1.25,1.25 0 1,0 -2.5,0M411.4,144.5a1.25,1.25 0 1,0 2.5,0a1.25,1.25 0 1,0 -2.5,0M413.1,145.1a1.25,1.25 0 1,0 2.5,0a1.25,1.25 0 1,0 -2.5,0M414.9,144.3a1.25,1.25 0 1,0 2.5,0a1.25,1.25 0 1,0 -2.5,0M416.6,143.6a1.25,1.25 0 1,0 2.5,0a1.25,1.25 0 1,0 -2.5,0M418.4,143.5a1.25,1.25 0 1,0 2.5,0a1.25,1.25 0 1,0 -2.5,0M420.2,143.0a1.25,1.25 0 1,0 2.5,0a1.25,1.25 0 1,0 -2.5,0M422.1,142.5a1.25,1.25 0 1,0 2.5,0a1.25,1.25 0 1,0 -2.5,0M423.8,142.1a1.25,1.25 0 1,0 2.5,0a1.25,1.25 0 1,0 -2.5,0M425.6,142.6a1.25,1.25 0 1,0 2.5,0a1.25,1.25 0 1,0 -2.5,0M427.4,142.8a1.25,1.25 0 1,0 2.5,0a1.25,1.25 0 1,0 -2.5,0M429.1,143.0a1.25,1.25 0 1,0 2.5,0a1.25,1.25 0 1,0 -2.5,0M430.9,144.3a1.25,1.25 0 1,0 2.5,0a1.25,1.25 0 1,0 -2.5,0M432.7,141.9a1.25,1.25 0 1,0 2.5,0a1.25,1.25 0 1,0 -2.5,0M434.4,140.4a1.25,1.25 0 1,0 2.5,0a1.25,1.25 0 1,0 -2.5,0M436.2,141.0a1.25,1.25 0 1,0 2.5,0a1.25,1.25 0 1,0 -2.5,0M438.1,141.5a1.25,1.25 0 1,0 2.5,0a1.25,1.25 0 1,0 -2.5,0M439.8,141.7a1.25,1.25 0 1,0 2.5,0a1.25,1.25 0 1,0 -2.5,0M441.6,142.0a1.25,1.25 0 1,0 2.5,0a1.25,1.25 0 1,0 -2.5,0M443.4,141.7a1.25,1.25 0 1,0 2.5,0a1.25,1.25 0 1,0 -2.5,0M445.1,142.2a1.25,1.25 0 1,0 2.5,0a1.25,1.25 0 1,0 -2.5,0M446.8,140.9a1.25,1.25 0 1,0 2.5,0a1.25,1.25 0 1,0 -2.5,0M448.4,141.5a1.25,1.25 0 1,0 2.5,0a1.25,1.25 0 1,0 -2.5,0M450.1,141.0a1.25,1.25 0 1,0 2.5,0a1.25,1.25 0 1,0 -2.5,0M451.6,140.6a1.25,1.25 0 1,0 2.5,0a1.25,1.25 0 1,0 -2.5,0M453.2,139.3a1.25,1.25 0 1,0 2.5,0a1.25,1.25 0 1,0 -2.5,0M455.0,138.5a1.25,1.25 0 1,0 2.5,0a1.25,1.25 0 1,0 -2.5,0M456.8,138.6a1.25,1.25 0 1,0 2.5,0a1.25,1.25 0 1,0 -2.5,0M458.6,136.6a1.25,1.25 0 1,0 2.5,0a1.25,1.25 0 1,0 -2.5,0M460.4,134.9a1.25,1.25 0 1,0 2.5,0a1.25,1.25 0 1,0 -2.5,0M462.8,132.1a1.25,1.25 0 1,0 2.5,0a1.25,1.25 0 1,0 -2.5,0M464.6,128.5a1.25,1.25 0 1,0 2.5,0a1.25,1.25 0 1,0 -2.5,0M465.9,123.2a1.25,1.25 0 1,0 2.5,0a1.25,1.25 0 1,0 -2.5,0M467.4,119.5a1.25,1.25 0 1,0 2.5,0a1.25,1.25 0 1,0 -2.5,0M469.4,113.3a1.25,1.25 0 1,0 2.5,0a1.25,1.25 0 1,0 -2.5,0M471.1,105.3a1.25,1.25 0 1,0 2.5,0a1.25,1.25 0 1,0 -2.5,0M472.6,95.2a1.25,1.25 0 1,0 2.5,0a1.25,1.25 0 1,0 -2.5,0M474.4,92.8a1.25,1.25 0 1,0 2.5,0a1.25,1.25 0 1,0 -2.5,0M475.8,89.5a1.25,1.25 0 1,0 2.5,0a1.25,1.25 0 1,0 -2.5,0M477.1,87.9a1.25,1.25 0 1,0 2.5,0a1.25,1.25 0 1,0 -2.5,0M478.6,85.9a1.25,1.25 0 1,0 2.5,0a1.25,1.25 0 1,0 -2.5,0M480.1,85.3a1.25,1.25 0 1,0 2.5,0a1.25,1.25 0 1,0 -2.5,0M481.6,82.9a1.25,1.25 0 1,0 2.5,0a1.25,1.25 0 1,0 -2.5,0M483.3,81.5a1.25,1.25 0 1,0 2.5,0a1.25,1.25 0 1,0 -2.5,0M485.1,80.7a1.25,1.25 0 1,0 2.5,0a1.25,1.25 0 1,0 -2.5,0M486.9,77.5a1.25,1.25 0 1,0 2.5,0a1.25,1.25 0 1,0 -2.5,0M488.6,72.6a1.25,1.25 0 1,0 2.5,0a1.25,1.25 0 1,0 -2.5,0M490.4,68.8a1.25,1.25 0 1,0 2.5,0a1.25,1.25 0 1,0 -2.5,0M492.1,68.7a1.25,1.25 0 1,0 2.5,0a1.25,1.25 0 1,0 -2.5,0M493.5,67.8a1.25,1.25 0 1,0 2.5,0a1.25,1.25 0 1,0 -2.5,0M494.9,67.0a1.25,1.25 0 1,0 2.5,0a1.25,1.25 0 1,0 -2.5,0M496.2,66.6a1.25,1.25 0 1,0 2.5,0a1.25,1.25 0 1,0 -2.5,0M497.6,67.0a1.25,1.25 0 1,0 2.5,0a1.25,1.25 0 1,0 -2.5,0M498.9,66.1a1.25,1.25 0 1,0 2.5,0a1.25,1.25 0 1,0 -2.5,0M500.1,65.8a1.25,1.25 0 1,0 2.5,0a1.25,1.25 0 1,0 -2.5,0M501.5,64.1a1.25,1.25 0 1,0 2.5,0a1.25,1.25 0 1,0 -2.5,0M502.9,62.8a1.25,1.25 0 1,0 2.5,0a1.25,1.25 0 1,0 -2.5,0M504.9,56.9a1.25,1.25 0 1,0 2.5,0a1.25,1.25 0 1,0 -2.5,0M507.4,52.4a1.25,1.25 0 1,0 2.5,0a1.25,1.25 0 1,0 -2.5,0M509.1,53.8a1.25,1.25 0 1,0 2.5,0a1.25,1.25 0 1,0 -2.5,0M510.9,54.9a1.25,1.25 0 1,0 2.5,0a1.25,1.25 0 1,0 -2.5,0M512.5,56.0a1.25,1.25 0 1,0 2.5,0a1.25,1.25 0 1,0 -2.5,0M514.0,56.1a1.25,1.25 0 1,0 2.5,0a1.25,1.25 0 1,0 -2.5,0M515.6,57.2a1.25,1.25 0 1,0 2.5,0a1.25,1.25 0 1,0 -2.5,0M517.4,57.5a1.25,1.25 0 1,0 2.5,0a1.25,1.25 0 1,0 -2.5,0M519.1,58.2a1.25,1.25 0 1,0 2.5,0a1.25,1.25 0 1,0 -2.5,0M521.0,60.4a1.25,1.25 0 1,0 2.5,0a1.25,1.25 0 1,0 -2.5,0M522.8,62.5a1.25,1.25 0 1,0 2.5,0a1.25,1.25 0 1,0 -2.5,0M524.3,63.0a1.25,1.25 0 1,0 2.5,0a1.25,1.25 0 1,0 -2.5,0M525.9,62.9a1.25,1.25 0 1,0 2.5,0a1.25,1.25 0 1,0 -2.5,0M527.5,62.2a1.25,1.25 0 1,0 2.5,0a1.25,1.25 0 1,0 -2.5,0M529.1,61.9a1.25,1.25 0 1,0 2.5,0a1.25,1.25 0 1,0 -2.5,0M530.6,61.9a1.25,1.25 0 1,0 2.5,0a1.25,1.25 0 1,0 -2.5,0M532.2,61.8a1.25,1.25 0 1,0 2.5,0a1.25,1.25 0 1,0 -2.5,0M534.0,61.6a1.25,1.25 0 1,0 2.5,0a1.25,1.25 0 1,0 -2.5,0M535.8,62.2a1.25,1.25 0 1,0 2.5,0a1.25,1.25 0 1,0 -2.5,0M537.6,62.8a1.25,1.25 0 1,0 2.5,0a1.25,1.25 0 1,0 -2.5,0M539.4,62.5a1.25,1.25 0 1,0 2.5,0a1.25,1.25 0 1,0 -2.5,0M541.1,66.1a1.25,1.25 0 1,0 2.5,0a1.25,1.25 0 1,0 -2.5,0M542.9,68.7a1.25,1.25 0 1,0 2.5,0a1.25,1.25 0 1,0 -2.5,0M544.5,68.8a1.25,1.25 0 1,0 2.5,0a1.25,1.25 0 1,0 -2.5,0M546.0,69.3a1.25,1.25 0 1,0 2.5,0a1.25,1.25 0 1,0 -2.5,0M547.6,69.9a1.25,1.25 0 1,0 2.5,0a1.25,1.25 0 1,0 -2.5,0M549.4,69.6a1.25,1.25 0 1,0 2.5,0a1.25,1.25 0 1,0 -2.5,0M551.1,69.9a1.25,1.25 0 1,0 2.5,0a1.25,1.25 0 1,0 -2.5,0M553.0,67.9a1.25,1.25 0 1,0 2.5,0a1.25,1.25 0 1,0 -2.5,0M554.8,66.1a1.25,1.25 0 1,0 2.5,0a1.25,1.25 0 1,0 -2.5,0M556.8,64.3a1.25,1.25 0 1,0 2.5,0a1.25,1.25 0 1,0 -2.5,0M558.8,63.9a1.25,1.25 0 1,0 2.5,0a1.25,1.25 0 1,0 -2.5,0M560.4,62.8a1.25,1.25 0 1,0 2.5,0a1.25,1.25 0 1,0 -2.5,0M562.0,62.5a1.25,1.25 0 1,0 2.5,0a1.25,1.25 0 1,0 -2.5,0M563.5,61.5a1.25,1.25 0 1,0 2.5,0a1.25,1.25 0 1,0 -2.5,0M565.0,62.0a1.25,1.25 0 1,0 2.5,0a1.25,1.25 0 1,0 -2.5,0M566.6,60.6a1.25,1.25 0 1,0 2.5,0a1.25,1.25 0 1,0 -2.5,0M568.2,60.3a1.25,1.25 0 1,0 2.5,0a1.25,1.25 0 1,0 -2.5,0M569.9,61.0a1.25,1.25 0 1,0 2.5,0a1.25,1.25 0 1,0 -2.5,0M571.5,61.7a1.25,1.25 0 1,0 2.5,0a1.25,1.25 0 1,0 -2.5,0M573.0,62.4a1.25,1.25 0 1,0 2.5,0a1.25,1.25 0 1,0 -2.5,0M574.5,63.5a1.25,1.25 0 1,0 2.5,0a1.25,1.25 0 1,0 -2.5,0M577.0,61.6a1.25,1.25 0 1,0 2.5,0a1.25,1.25 0 1,0 -2.5,0M579.4,59.9a1.25,1.25 0 1,0 2.5,0a1.25,1.25 0 1,0 -2.5,0M580.9,58.8a1.25,1.25 0 1,0 2.5,0a1.25,1.25 0 1,0 -2.5,0M582.5,59.0a1.25,1.25 0 1,0 2.5,0a1.25,1.25 0 1,0 -2.5,0M584.0,58.8a1.25,1.25 0 1,0 2.5,0a1.25,1.25 0 1,0 -2.5,0M585.6,58.1a1.25,1.25 0 1,0 2.5,0a1.25,1.25 0 1,0 -2.5,0M587.2,56.6a1.25,1.25 0 1,0 2.5,0a1.25,1.25 0 1,0 -2.5,0M588.8,55.0a1.25,1.25 0 1,0 2.5,0a1.25,1.25 0 1,0 -2.5,0M590.4,53.5a1.25,1.25 0 1,0 2.5,0a1.25,1.25 0 1,0 -2.5,0M592.0,58.5a1.25,1.25 0 1,0 2.5,0a1.25,1.25 0 1,0 -2.5,0M594.4,60.8a1.25,1.25 0 1,0 2.5,0a1.25,1.25 0 1,0 -2.5,0M596.0,59.7a1.25,1.25 0 1,0 2.5,0a1.25,1.25 0 1,0 -2.5,0M597.5,58.6a1.25,1.25 0 1,0 2.5,0a1.25,1.25 0 1,0 -2.5,0M599.1,57.5a1.25,1.25 0 1,0 2.5,0a1.25,1.25 0 1,0 -2.5,0M600.6,56.9a1.25,1.25 0 1,0 2.5,0a1.25,1.25 0 1,0 -2.5,0M602.2,55.9a1.25,1.25 0 1,0 2.5,0a1.25,1.25 0 1,0 -2.5,0M603.9,55.1a1.25,1.25 0 1,0 2.5,0a1.25,1.25 0 1,0 -2.5,0M606.2,56.7a1.25,1.25 0 1,0 2.5,0a1.25,1.25 0 1,0 -2.5,0M608.2,58.0a1.25,1.25 0 1,0 2.5,0a1.25,1.25 0 1,0 -2.5,0M610.1,60.4a1.25,1.25 0 1,0 2.5,0a1.25,1.25 0 1,0 -2.5,0M611.5,60.7a1.25,1.25 0 1,0 2.5,0a1.25,1.25 0 1,0 -2.5,0M612.8,59.7a1.25,1.25 0 1,0 2.5,0a1.25,1.25 0 1,0 -2.5,0M614.0,59.8a1.25,1.25 0 1,0 2.5,0a1.25,1.25 0 1,0 -2.5,0M615.2,60.0a1.25,1.25 0 1,0 2.5,0a1.25,1.25 0 1,0 -2.5,0M616.5,58.7a1.25,1.25 0 1,0 2.5,0a1.25,1.25 0 1,0 -2.5,0M617.8,58.3a1.25,1.25 0 1,0 2.5,0a1.25,1.25 0 1,0 -2.5,0M619.0,58.7a1.25,1.25 0 1,0 2.5,0a1.25,1.25 0 1,0 -2.5,0M620.2,58.1a1.25,1.25 0 1,0 2.5,0a1.25,1.25 0 1,0 -2.5,0M621.5,57.8a1.25,1.25 0 1,0 2.5,0a1.25,1.25 0 1,0 -2.5,0M622.9,57.8a1.25,1.25 0 1,0 2.5,0a1.25,1.25 0 1,0 -2.5,0M624.1,57.6a1.25,1.25 0 1,0 2.5,0a1.25,1.25 0 1,0 -2.5,0M625.4,56.8a1.25,1.25 0 1,0 2.5,0a1.25,1.25 0 1,0 -2.5,0M627.2,59.2a1.25,1.25 0 1,0 2.5,0a1.25,1.25 0 1,0 -2.5,0M629.1,55.4a1.25,1.25 0 1,0 2.5,0a1.25,1.25 0 1,0 -2.5,0M630.4,55.9a1.25,1.25 0 1,0 2.5,0a1.25,1.25 0 1,0 -2.5,0M631.6,55.2a1.25,1.25 0 1,0 2.5,0a1.25,1.25 0 1,0 -2.5,0M633.0,54.5a1.25,1.25 0 1,0 2.5,0a1.25,1.25 0 1,0 -2.5,0M634.2,55.1a1.25,1.25 0 1,0 2.5,0a1.25,1.25 0 1,0 -2.5,0M636.5,52.4a1.25,1.25 0 1,0 2.5,0a1.25,1.25 0 1,0 -2.5,0M638.1,52.3a1.25,1.25 0 1,0 2.5,0a1.25,1.25 0 1,0 -2.5,0M639.7,52.4a1.25,1.25 0 1,0 2.5,0a1.25,1.25 0 1,0 -2.5,0M641.2,51.7a1.25,1.25 0 1,0 2.5,0a1.25,1.25 0 1,0 -2.5,0M642.9,50.5a1.25,1.25 0 1,0 2.5,0a1.25,1.25 0 1,0 -2.5,0M644.4,50.6a1.25,1.25 0 1,0 2.5,0a1.25,1.25 0 1,0 -2.5,0M646.0,49.6a1.25,1.25 0 1,0 2.5,0a1.25,1.25 0 1,0 -2.5,0M647.6,49.5a1.25,1.25 0 1,0 2.5,0a1.25,1.25 0 1,0 -2.5,0M649.2,49.2a1.25,1.25 0 1,0 2.5,0a1.25,1.25 0 1,0 -2.5,0M650.8,48.2a1.25,1.25 0 1,0 2.5,0a1.25,1.25 0 1,0 -2.5,0M652.5,49.7a1.25,1.25 0 1,0 2.5,0a1.25,1.25 0 1,0 -2.5,0M654.4,50.8a1.25,1.25 0 1,0 2.5,0a1.25,1.25 0 1,0 -2.5,0M656.1,51.8a1.25,1.25 0 1,0 2.5,0a1.25,1.25 0 1,0 -2.5,0M657.9,52.3a1.25,1.25 0 1,0 2.5,0a1.25,1.25 0 1,0 -2.5,0M659.5,52.0a1.25,1.25 0 1,0 2.5,0a1.25,1.25 0 1,0 -2.5,0M661.0,51.9a1.25,1.25 0 1,0 2.5,0a1.25,1.25 0 1,0 -2.5,0M662.6,52.0a1.25,1.25 0 1,0 2.5,0a1.25,1.25 0 1,0 -2.5,0M664.2,51.3a1.25,1.25 0 1,0 2.5,0a1.25,1.25 0 1,0 -2.5,0M665.8,51.4a1.25,1.25 0 1,0 2.5,0a1.25,1.25 0 1,0 -2.5,0M667.4,52.2a1.25,1.25 0 1,0 2.5,0a1.25,1.25 0 1,0 -2.5,0M669.0,51.8a1.25,1.25 0 1,0 2.5,0a1.25,1.25 0 1,0 -2.5,0M670.5,51.1a1.25,1.25 0 1,0 2.5,0a1.25,1.25 0 1,0 -2.5,0M672.1,50.7a1.25,1.25 0 1,0 2.5,0a1.25,1.25 0 1,0 -2.5,0M673.7,50.8a1.25,1.25 0 1,0 2.5,0a1.25,1.25 0 1,0 -2.5,0M675.3,51.6a1.25,1.25 0 1,0 2.5,0a1.25,1.25 0 1,0 -2.5,0M676.9,51.8a1.25,1.25 0 1,0 2.5,0a1.25,1.25 0 1,0 -2.5,0M678.2,51.0a1.25,1.25 0 1,0 2.5,0a1.25,1.25 0 1,0 -2.5,0M679.6,49.9a1.25,1.25 0 1,0 2.5,0a1.25,1.25 0 1,0 -2.5,0M681.0,50.4a1.25,1.25 0 1,0 2.5,0a1.25,1.25 0 1,0 -2.5,0" fill="#ffffff"/></g><g clip-path="url(#ca)"><polyline points="49.7,11.6 50.2,10.9 51.1,10.8 51.9,9.2 53.3,7.2 53.7,7.4 54.8,7.9 55.5,8.0 57.0,9.4 57.3,9.7 58.4,26.2 59.9,15.2 60.8,15.7 63.2,10.3 63.3,10.8 65.6,14.5 66.5,15.2 67.4,15.7 67.9,16.7 69.1,16.9 70.1,18.9 70.9,18.6 72.3,20.4 72.7,20.4 73.0,21.1 74.5,47.5 76.0,49.7 77.4,45.3 78.9,37.9 79.6,38.7 80.4,39.4 81.8,42.4 84.7,45.3 85.5,44.6 86.9,49.7 88.4,40.2 89.1,45.3 90.6,58.5 91.3,52.6 93.5,49.7 95.7,54.1 97.2,54.8 98.6,62.1 100.1,68.7 101.6,60.7 103.7,59.2 105.2,58.5 106.7,55.5 108.1,59.9 110.3,57.0 112.5,57.7 113.3,57.0 114.7,59.2 116.2,24.0 117.6,18.5 119.1,35.7 120.8,43.1 122.2,33.0 123.5,33.5 124.9,35.0 126.4,36.4 127.1,40.1 129.3,11.6 131.5,10.8 133.7,13.8 135.2,23.3 137.4,24.0 138.8,26.9 140.0,29.9 140.3,29.1 142.5,28.4 144.0,23.3 145.1,23.3 146.6,19.6 148.0,23.3 149.5,20.4 151.7,23.3 153.9,24.7 155.4,26.2 156.8,24.7 158.3,21.1 159.7,20.4 161.2,17.4 162.7,21.8 164.1,22.5 166.0,26.2 167.5,18.2 169.2,21.1 170.7,16.7 172.9,17.4 175.8,16.0 177.3,22.5 178.7,23.3 180.6,27.7 182.4,20.4 184.6,23.3 186.8,21.8 189.7,21.1 191.9,24.7 194.1,19.6 196.3,23.3 198.5,23.3 200.7,23.3 202.9,24.0 204.3,26.2 206.5,23.3 208.7,20.4 210.9,18.2 213.1,20.4 214.6,21.1 216.0,24.0 218.9,26.9 220.4,21.8 221.9,23.3 223.3,24.7 225.5,25.5 227.7,24.7 229.2,21.1 230.6,21.8 232.1,27.7 234.3,24.7 236.5,23.3 238.7,23.6 240.2,26.2 241.7,21.8 243.8,21.1 246.8,19.6 249.0,21.1 251.2,23.3 254.1,22.5 256.3,21.8 258.5,18.9 260.7,20.4 262.9,21.1 265.0,18.2 266.5,16.0 267.2,21.8 269.4,18.2 271.6,18.2 273.8,21.1 275.3,16.0 277.5,16.0 278.9,21.8 280.4,21.1 281.9,21.8 283.3,21.1 285.5,14.5 288.4,13.8 290.6,16.0 292.8,17.4 295.7,16.7 298.7,17.4 300.9,18.2 303.1,15.2 304.5,10.8 306.7,13.0 308.9,16.0 311.1,18.9 313.3,20.4 315.5,18.9 317.7,15.2 320.6,13.8 322.1,17.4 324.3,20.4 325.7,21.8 327.9,21.1 330.1,18.9 332.3,20.4 334.5,21.8 336.7,23.3" fill="none" stroke="#ff00ff" stroke-width="0.45" stroke-opacity="0.8"/><path d="M48.2,11.6a1.5,1.5 0 1,0 3,0a1.5,1.5 0 1,0 -3,0M48.7,10.9a1.5,1.5 0 1,0 3,0a1.5,1.5 0 1,0 -3,0M49.6,10.8a1.5,1.5 0 1,0 3,0a1.5,1.5 0 1,0 -3,0M50.4,9.2a1.5,1.5 0 1,0 3,0a1.5,1.5 0 1,0 -3,0M51.8,7.2a1.5,1.5 0 1,0 3,0a1.5,1.5 0 1,0 -3,0M52.2,7.4a1.5,1.5 0 1,0 3,0a1.5,1.5 0 1,0 -3,0M53.3,7.9a1.5,1.5 0 1,0 3,0a1.5,1.5 0 1,0 -3,0M54.0,8.0a1.5,1.5 0 1,0 3,0a1.5,1.5 0 1,0 -3,0M55.5,9.4a1.5,1.5 0 1,0 3,0a1.5,1.5 0 1,0 -3,0M55.8,9.7a1.5,1.5 0 1,0 3,0a1.5,1.5 0 1,0 -3,0M56.9,26.2a1.5,1.5 0 1,0 3,0a1.5,1.5 0 1,0 -3,0M58.4,15.2a1.5,1.5 0 1,0 3,0a1.5,1.5 0 1,0 -3,0M59.3,15.7a1.5,1.5 0 1,0 3,0a1.5,1.5 0 1,0 -3,0M61.7,10.3a1.5,1.5 0 1,0 3,0a1.5,1.5 0 1,0 -3,0M61.8,10.8a1.5,1.5 0 1,0 3,0a1.5,1.5 0 1,0 -3,0M64.1,14.5a1.5,1.5 0 1,0 3,0a1.5,1.5 0 1,0 -3,0M65.0,15.2a1.5,1.5 0 1,0 3,0a1.5,1.5 0 1,0 -3,0M65.9,15.7a1.5,1.5 0 1,0 3,0a1.5,1.5 0 1,0 -3,0M66.4,16.7a1.5,1.5 0 1,0 3,0a1.5,1.5 0 1,0 -3,0M67.6,16.9a1.5,1.5 0 1,0 3,0a1.5,1.5 0 1,0 -3,0M68.6,18.9a1.5,1.5 0 1,0 3,0a1.5,1.5 0 1,0 -3,0M69.4,18.6a1.5,1.5 0 1,0 3,0a1.5,1.5 0 1,0 -3,0M70.8,20.4a1.5,1.5 0 1,0 3,0a1.5,1.5 0 1,0 -3,0M71.2,20.4a1.5,1.5 0 1,0 3,0a1.5,1.5 0 1,0 -3,0M71.5,21.1a1.5,1.5 0 1,0 3,0a1.5,1.5 0 1,0 -3,0M73.0,47.5a1.5,1.5 0 1,0 3,0a1.5,1.5 0 1,0 -3,0M74.5,49.7a1.5,1.5 0 1,0 3,0a1.5,1.5 0 1,0 -3,0M75.9,45.3a1.5,1.5 0 1,0 3,0a1.5,1.5 0 1,0 -3,0M77.4,37.9a1.5,1.5 0 1,0 3,0a1.5,1.5 0 1,0 -3,0M78.1,38.7a1.5,1.5 0 1,0 3,0a1.5,1.5 0 1,0 -3,0M78.9,39.4a1.5,1.5 0 1,0 3,0a1.5,1.5 0 1,0 -3,0M80.3,42.4a1.5,1.5 0 1,0 3,0a1.5,1.5 0 1,0 -3,0M83.2,45.3a1.5,1.5 0 1,0 3,0a1.5,1.5 0 1,0 -3,0M84.0,44.6a1.5,1.5 0 1,0 3,0a1.5,1.5 0 1,0 -3,0M85.4,49.7a1.5,1.5 0 1,0 3,0a1.5,1.5 0 1,0 -3,0M86.9,40.2a1.5,1.5 0 1,0 3,0a1.5,1.5 0 1,0 -3,0M87.6,45.3a1.5,1.5 0 1,0 3,0a1.5,1.5 0 1,0 -3,0M89.1,58.5a1.5,1.5 0 1,0 3,0a1.5,1.5 0 1,0 -3,0M89.8,52.6a1.5,1.5 0 1,0 3,0a1.5,1.5 0 1,0 -3,0M92.0,49.7a1.5,1.5 0 1,0 3,0a1.5,1.5 0 1,0 -3,0M94.2,54.1a1.5,1.5 0 1,0 3,0a1.5,1.5 0 1,0 -3,0M95.7,54.8a1.5,1.5 0 1,0 3,0a1.5,1.5 0 1,0 -3,0M97.1,62.1a1.5,1.5 0 1,0 3,0a1.5,1.5 0 1,0 -3,0M98.6,68.7a1.5,1.5 0 1,0 3,0a1.5,1.5 0 1,0 -3,0M100.1,60.7a1.5,1.5 0 1,0 3,0a1.5,1.5 0 1,0 -3,0M102.2,59.2a1.5,1.5 0 1,0 3,0a1.5,1.5 0 1,0 -3,0M103.7,58.5a1.5,1.5 0 1,0 3,0a1.5,1.5 0 1,0 -3,0M105.2,55.5a1.5,1.5 0 1,0 3,0a1.5,1.5 0 1,0 -3,0M106.6,59.9a1.5,1.5 0 1,0 3,0a1.5,1.5 0 1,0 -3,0M108.8,57.0a1.5,1.5 0 1,0 3,0a1.5,1.5 0 1,0 -3,0M111.0,57.7a1.5,1.5 0 1,0 3,0a1.5,1.5 0 1,0 -3,0M111.8,57.0a1.5,1.5 0 1,0 3,0a1.5,1.5 0 1,0 -3,0M113.2,59.2a1.5,1.5 0 1,0 3,0a1.5,1.5 0 1,0 -3,0M114.7,24.0a1.5,1.5 0 1,0 3,0a1.5,1.5 0 1,0 -3,0M116.1,18.5a1.5,1.5 0 1,0 3,0a1.5,1.5 0 1,0 -3,0M117.6,35.7a1.5,1.5 0 1,0 3,0a1.5,1.5 0 1,0 -3,0M119.3,43.1a1.5,1.5 0 1,0 3,0a1.5,1.5 0 1,0 -3,0M120.7,33.0a1.5,1.5 0 1,0 3,0a1.5,1.5 0 1,0 -3,0M122.0,33.5a1.5,1.5 0 1,0 3,0a1.5,1.5 0 1,0 -3,0M123.4,35.0a1.5,1.5 0 1,0 3,0a1.5,1.5 0 1,0 -3,0M124.9,36.4a1.5,1.5 0 1,0 3,0a1.5,1.5 0 1,0 -3,0M125.6,40.1a1.5,1.5 0 1,0 3,0a1.5,1.5 0 1,0 -3,0M127.8,11.6a1.5,1.5 0 1,0 3,0a1.5,1.5 0 1,0 -3,0M130.0,10.8a1.5,1.5 0 1,0 3,0a1.5,1.5 0 1,0 -3,0M132.2,13.8a1.5,1.5 0 1,0 3,0a1.5,1.5 0 1,0 -3,0M133.7,23.3a1.5,1.5 0 1,0 3,0a1.5,1.5 0 1,0 -3,0M135.9,24.0a1.5,1.5 0 1,0 3,0a1.5,1.5 0 1,0 -3,0M137.3,26.9a1.5,1.5 0 1,0 3,0a1.5,1.5 0 1,0 -3,0M138.5,29.9a1.5,1.5 0 1,0 3,0a1.5,1.5 0 1,0 -3,0M138.8,29.1a1.5,1.5 0 1,0 3,0a1.5,1.5 0 1,0 -3,0M141.0,28.4a1.5,1.5 0 1,0 3,0a1.5,1.5 0 1,0 -3,0M142.5,23.3a1.5,1.5 0 1,0 3,0a1.5,1.5 0 1,0 -3,0M143.6,23.3a1.5,1.5 0 1,0 3,0a1.5,1.5 0 1,0 -3,0M145.1,19.6a1.5,1.5 0 1,0 3,0a1.5,1.5 0 1,0 -3,0M146.5,23.3a1.5,1.5 0 1,0 3,0a1.5,1.5 0 1,0 -3,0M148.0,20.4a1.5,1.5 0 1,0 3,0a1.5,1.5 0 1,0 -3,0M150.2,23.3a1.5,1.5 0 1,0 3,0a1.5,1.5 0 1,0 -3,0M152.4,24.7a1.5,1.5 0 1,0 3,0a1.5,1.5 0 1,0 -3,0M153.9,26.2a1.5,1.5 0 1,0 3,0a1.5,1.5 0 1,0 -3,0M155.3,24.7a1.5,1.5 0 1,0 3,0a1.5,1.5 0 1,0 -3,0M156.8,21.1a1.5,1.5 0 1,0 3,0a1.5,1.5 0 1,0 -3,0M158.2,20.4a1.5,1.5 0 1,0 3,0a1.5,1.5 0 1,0 -3,0M159.7,17.4a1.5,1.5 0 1,0 3,0a1.5,1.5 0 1,0 -3,0M161.2,21.8a1.5,1.5 0 1,0 3,0a1.5,1.5 0 1,0 -3,0M162.6,22.5a1.5,1.5 0 1,0 3,0a1.5,1.5 0 1,0 -3,0M164.5,26.2a1.5,1.5 0 1,0 3,0a1.5,1.5 0 1,0 -3,0M166.0,18.2a1.5,1.5 0 1,0 3,0a1.5,1.5 0 1,0 -3,0M167.7,21.1a1.5,1.5 0 1,0 3,0a1.5,1.5 0 1,0 -3,0M169.2,16.7a1.5,1.5 0 1,0 3,0a1.5,1.5 0 1,0 -3,0M171.4,17.4a1.5,1.5 0 1,0 3,0a1.5,1.5 0 1,0 -3,0M174.3,16.0a1.5,1.5 0 1,0 3,0a1.5,1.5 0 1,0 -3,0M175.8,22.5a1.5,1.5 0 1,0 3,0a1.5,1.5 0 1,0 -3,0M177.2,23.3a1.5,1.5 0 1,0 3,0a1.5,1.5 0 1,0 -3,0M179.1,27.7a1.5,1.5 0 1,0 3,0a1.5,1.5 0 1,0 -3,0M180.9,20.4a1.5,1.5 0 1,0 3,0a1.5,1.5 0 1,0 -3,0M183.1,23.3a1.5,1.5 0 1,0 3,0a1.5,1.5 0 1,0 -3,0M185.3,21.8a1.5,1.5 0 1,0 3,0a1.5,1.5 0 1,0 -3,0M188.2,21.1a1.5,1.5 0 1,0 3,0a1.5,1.5 0 1,0 -3,0M190.4,24.7a1.5,1.5 0 1,0 3,0a1.5,1.5 0 1,0 -3,0M192.6,19.6a1.5,1.5 0 1,0 3,0a1.5,1.5 0 1,0 -3,0M194.8,23.3a1.5,1.5 0 1,0 3,0a1.5,1.5 0 1,0 -3,0M197.0,23.3a1.5,1.5 0 1,0 3,0a1.5,1.5 0 1,0 -3,0M199.2,23.3a1.5,1.5 0 1,0 3,0a1.5,1.5 0 1,0 -3,0M201.4,24.0a1.5,1.5 0 1,0 3,0a1.5,1.5 0 1,0 -3,0M202.8,26.2a1.5,1.5 0 1,0 3,0a1.5,1.5 0 1,0 -3,0M205.0,23.3a1.5,1.5 0 1,0 3,0a1.5,1.5 0 1,0 -3,0M207.2,20.4a1.5,1.5 0 1,0 3,0a1.5,1.5 0 1,0 -3,0M209.4,18.2a1.5,1.5 0 1,0 3,0a1.5,1.5 0 1,0 -3,0M211.6,20.4a1.5,1.5 0 1,0 3,0a1.5,1.5 0 1,0 -3,0M213.1,21.1a1.5,1.5 0 1,0 3,0a1.5,1.5 0 1,0 -3,0M214.5,24.0a1.5,1.5 0 1,0 3,0a1.5,1.5 0 1,0 -3,0M217.4,26.9a1.5,1.5 0 1,0 3,0a1.5,1.5 0 1,0 -3,0M218.9,21.8a1.5,1.5 0 1,0 3,0a1.5,1.5 0 1,0 -3,0M220.4,23.3a1.5,1.5 0 1,0 3,0a1.5,1.5 0 1,0 -3,0M221.8,24.7a1.5,1.5 0 1,0 3,0a1.5,1.5 0 1,0 -3,0M224.0,25.5a1.5,1.5 0 1,0 3,0a1.5,1.5 0 1,0 -3,0M226.2,24.7a1.5,1.5 0 1,0 3,0a1.5,1.5 0 1,0 -3,0M227.7,21.1a1.5,1.5 0 1,0 3,0a1.5,1.5 0 1,0 -3,0M229.1,21.8a1.5,1.5 0 1,0 3,0a1.5,1.5 0 1,0 -3,0M230.6,27.7a1.5,1.5 0 1,0 3,0a1.5,1.5 0 1,0 -3,0M232.8,24.7a1.5,1.5 0 1,0 3,0a1.5,1.5 0 1,0 -3,0M235.0,23.3a1.5,1.5 0 1,0 3,0a1.5,1.5 0 1,0 -3,0M237.2,23.6a1.5,1.5 0 1,0 3,0a1.5,1.5 0 1,0 -3,0M238.7,26.2a1.5,1.5 0 1,0 3,0a1.5,1.5 0 1,0 -3,0M240.2,21.8a1.5,1.5 0 1,0 3,0a1.5,1.5 0 1,0 -3,0M242.3,21.1a1.5,1.5 0 1,0 3,0a1.5,1.5 0 1,0 -3,0M245.3,19.6a1.5,1.5 0 1,0 3,0a1.5,1.5 0 1,0 -3,0M247.5,21.1a1.5,1.5 0 1,0 3,0a1.5,1.5 0 1,0 -3,0M249.7,23.3a1.5,1.5 0 1,0 3,0a1.5,1.5 0 1,0 -3,0M252.6,22.5a1.5,1.5 0 1,0 3,0a1.5,1.5 0 1,0 -3,0M254.8,21.8a1.5,1.5 0 1,0 3,0a1.5,1.5 0 1,0 -3,0M257.0,18.9a1.5,1.5 0 1,0 3,0a1.5,1.5 0 1,0 -3,0M259.2,20.4a1.5,1.5 0 1,0 3,0a1.5,1.5 0 1,0 -3,0M261.4,21.1a1.5,1.5 0 1,0 3,0a1.5,1.5 0 1,0 -3,0M263.5,18.2a1.5,1.5 0 1,0 3,0a1.5,1.5 0 1,0 -3,0M265.0,16.0a1.5,1.5 0 1,0 3,0a1.5,1.5 0 1,0 -3,0M265.7,21.8a1.5,1.5 0 1,0 3,0a1.5,1.5 0 1,0 -3,0M267.9,18.2a1.5,1.5 0 1,0 3,0a1.5,1.5 0 1,0 -3,0M270.1,18.2a1.5,1.5 0 1,0 3,0a1.5,1.5 0 1,0 -3,0M272.3,21.1a1.5,1.5 0 1,0 3,0a1.5,1.5 0 1,0 -3,0M273.8,16.0a1.5,1.5 0 1,0 3,0a1.5,1.5 0 1,0 -3,0M276.0,16.0a1.5,1.5 0 1,0 3,0a1.5,1.5 0 1,0 -3,0M277.4,21.8a1.5,1.5 0 1,0 3,0a1.5,1.5 0 1,0 -3,0M278.9,21.1a1.5,1.5 0 1,0 3,0a1.5,1.5 0 1,0 -3,0M280.4,21.8a1.5,1.5 0 1,0 3,0a1.5,1.5 0 1,0 -3,0M281.8,21.1a1.5,1.5 0 1,0 3,0a1.5,1.5 0 1,0 -3,0M284.0,14.5a1.5,1.5 0 1,0 3,0a1.5,1.5 0 1,0 -3,0M286.9,13.8a1.5,1.5 0 1,0 3,0a1.5,1.5 0 1,0 -3,0M289.1,16.0a1.5,1.5 0 1,0 3,0a1.5,1.5 0 1,0 -3,0M291.3,17.4a1.5,1.5 0 1,0 3,0a1.5,1.5 0 1,0 -3,0M294.2,16.7a1.5,1.5 0 1,0 3,0a1.5,1.5 0 1,0 -3,0M297.2,17.4a1.5,1.5 0 1,0 3,0a1.5,1.5 0 1,0 -3,0M299.4,18.2a1.5,1.5 0 1,0 3,0a1.5,1.5 0 1,0 -3,0M301.6,15.2a1.5,1.5 0 1,0 3,0a1.5,1.5 0 1,0 -3,0M303.0,10.8a1.5,1.5 0 1,0 3,0a1.5,1.5 0 1,0 -3,0M305.2,13.0a1.5,1.5 0 1,0 3,0a1.5,1.5 0 1,0 -3,0M307.4,16.0a1.5,1.5 0 1,0 3,0a1.5,1.5 0 1,0 -3,0M309.6,18.9a1.5,1.5 0 1,0 3,0a1.5,1.5 0 1,0 -3,0M311.8,20.4a1.5,1.5 0 1,0 3,0a1.5,1.5 0 1,0 -3,0M314.0,18.9a1.5,1.5 0 1,0 3,0a1.5,1.5 0 1,0 -3,0M316.2,15.2a1.5,1.5 0 1,0 3,0a1.5,1.5 0 1,0 -3,0M319.1,13.8a1.5,1.5 0 1,0 3,0a1.5,1.5 0 1,0 -3,0M320.6,17.4a1.5,1.5 0 1,0 3,0a1.5,1.5 0 1,0 -3,0M322.8,20.4a1.5,1.5 0 1,0 3,0a1.5,1.5 0 1,0 -3,0M324.2,21.8a1.5,1.5 0 1,0 3,0a1.5,1.5 0 1,0 -3,0M326.4,21.1a1.5,1.5 0 1,0 3,0a1.5,1.5 0 1,0 -3,0M328.6,18.9a1.5,1.5 0 1,0 3,0a1.5,1.5 0 1,0 -3,0M330.8,20.4a1.5,1.5 0 1,0 3,0a1.5,1.5 0 1,0 -3,0M333.0,21.8a1.5,1.5 0 1,0 3,0a1.5,1.5 0 1,0 -3,0M335.2,23.3a1.5,1.5 0 1,0 3,0a1.5,1.5 0 1,0 -3,0" fill="#ff00ff"/><polyline points="50.4,64.3 51.8,73.0 53.3,67.2 54.8,62.9 56.7,24.0 57.9,13.3 58.4,13.0 59.8,9.1 61.4,15.2 61.4,26.2 62.8,38.7 63.5,38.6 64.3,18.2 66.5,40.1 67.9,35.7 68.0,34.7 69.4,46.5 70.9,59.9 73.0,54.8 74.5,60.7 76.0,53.4 77.4,54.1 79.6,50.4 81.1,47.5 82.5,48.2 84.0,56.3 85.5,56.3 86.9,67.2 88.4,70.9 89.9,84.9 92.1,88.4 93.5,132.3 95.1,179.1 97.2,161.9 98.6,160.5 100.1,162.7 102.3,161.2 104.5,160.5 106.7,159.7 108.1,160.5 109.6,156.8 110.7,157.7 112.1,159.1 114.8,159.1 116.2,134.2 116.2,154.2 118.3,136.9 121.1,130.0 122.5,139.7 124.5,139.0 125.9,135.5 127.3,140.4 129.3,144.4 132.2,159.1 134.2,154.9 135.6,139.0 137.0,137.6 139.1,131.4 141.9,133.5 143.9,134.2 145.3,144.5 146.7,140.4 148.8,136.2 151.6,137.6 153.6,139.0 155.7,139.7 157.8,136.2 159.7,133.0 161.2,141.8 162.7,150.2 163.4,146.6 165.6,144.4 168.5,146.6 170.7,146.6 172.9,150.2 175.1,149.5 177.3,148.0 178.7,140.4 180.9,140.4 182.4,145.8 184.6,145.1 186.8,144.4 189.0,143.7 189.7,138.9 191.9,137.4 193.4,134.5 194.8,128.7 196.3,138.2 198.5,134.5 199.9,132.3 201.4,134.5 202.9,137.4 204.3,133.0 207.3,146.6 209.4,145.1 210.9,140.4 212.4,134.5 214.6,145.1 216.8,141.5 218.9,146.6 220.4,136.0 222.6,135.2 225.5,136.0 227.0,130.9 229.2,133.0 230.6,132.3 232.8,128.7 234.3,129.4 235.8,135.2 236.5,132.3 238.7,125.7 239.4,129.4 240.2,130.1 241.7,133.0 243.1,125.7 245.3,127.9 246.8,129.4 249.7,125.0 251.9,124.3 254.8,120.6 256.3,125.7 258.5,127.2 260.7,125.7 262.9,126.5 264.3,125.7 265.8,130.9 267.2,129.4 269.4,129.4 271.6,137.4 273.1,133.0 274.5,127.9 276.7,127.9 278.2,122.8 280.4,123.5 281.9,124.3 284.1,127.2 284.8,125.0 287.0,136.0 288.4,140.2 290.6,136.7 292.8,138.2 294.3,140.7 295.0,140.4 297.2,138.2 299.4,138.9 299.4,145.6 301.6,136.0 302.3,127.9 304.5,132.3 306.7,135.2 308.2,133.0 310.4,138.9 313.3,135.2 314.0,131.6 315.5,141.0 317.7,136.7 319.1,141.1 320.6,144.1 322.1,142.0 324.3,130.1 325.7,132.3 327.2,126.5 329.4,130.1 331.6,127.2 333.8,128.7 336.0,129.4 338.0,129.0" fill="none" stroke="#ff8000" stroke-width="0.45" stroke-opacity="0.8"/><path d="M48.9,64.3a1.5,1.5 0 1,0 3,0a1.5,1.5 0 1,0 -3,0M50.3,73.0a1.5,1.5 0 1,0 3,0a1.5,1.5 0 1,0 -3,0M51.8,67.2a1.5,1.5 0 1,0 3,0a1.5,1.5 0 1,0 -3,0M53.3,62.9a1.5,1.5 0 1,0 3,0a1.5,1.5 0 1,0 -3,0M55.2,24.0a1.5,1.5 0 1,0 3,0a1.5,1.5 0 1,0 -3,0M56.4,13.3a1.5,1.5 0 1,0 3,0a1.5,1.5 0 1,0 -3,0M56.9,13.0a1.5,1.5 0 1,0 3,0a1.5,1.5 0 1,0 -3,0M58.3,9.1a1.5,1.5 0 1,0 3,0a1.5,1.5 0 1,0 -3,0M59.9,15.2a1.5,1.5 0 1,0 3,0a1.5,1.5 0 1,0 -3,0M59.9,26.2a1.5,1.5 0 1,0 3,0a1.5,1.5 0 1,0 -3,0M61.3,38.7a1.5,1.5 0 1,0 3,0a1.5,1.5 0 1,0 -3,0M62.0,38.6a1.5,1.5 0 1,0 3,0a1.5,1.5 0 1,0 -3,0M62.8,18.2a1.5,1.5 0 1,0 3,0a1.5,1.5 0 1,0 -3,0M65.0,40.1a1.5,1.5 0 1,0 3,0a1.5,1.5 0 1,0 -3,0M66.4,35.7a1.5,1.5 0 1,0 3,0a1.5,1.5 0 1,0 -3,0M66.5,34.7a1.5,1.5 0 1,0 3,0a1.5,1.5 0 1,0 -3,0M67.9,46.5a1.5,1.5 0 1,0 3,0a1.5,1.5 0 1,0 -3,0M69.4,59.9a1.5,1.5 0 1,0 3,0a1.5,1.5 0 1,0 -3,0M71.5,54.8a1.5,1.5 0 1,0 3,0a1.5,1.5 0 1,0 -3,0M73.0,60.7a1.5,1.5 0 1,0 3,0a1.5,1.5 0 1,0 -3,0M74.5,53.4a1.5,1.5 0 1,0 3,0a1.5,1.5 0 1,0 -3,0M75.9,54.1a1.5,1.5 0 1,0 3,0a1.5,1.5 0 1,0 -3,0M78.1,50.4a1.5,1.5 0 1,0 3,0a1.5,1.5 0 1,0 -3,0M79.6,47.5a1.5,1.5 0 1,0 3,0a1.5,1.5 0 1,0 -3,0M81.0,48.2a1.5,1.5 0 1,0 3,0a1.5,1.5 0 1,0 -3,0M82.5,56.3a1.5,1.5 0 1,0 3,0a1.5,1.5 0 1,0 -3,0M84.0,56.3a1.5,1.5 0 1,0 3,0a1.5,1.5 0 1,0 -3,0M85.4,67.2a1.5,1.5 0 1,0 3,0a1.5,1.5 0 1,0 -3,0M86.9,70.9a1.5,1.5 0 1,0 3,0a1.5,1.5 0 1,0 -3,0M88.4,84.9a1.5,1.5 0 1,0 3,0a1.5,1.5 0 1,0 -3,0M90.6,88.4a1.5,1.5 0 1,0 3,0a1.5,1.5 0 1,0 -3,0M92.0,132.3a1.5,1.5 0 1,0 3,0a1.5,1.5 0 1,0 -3,0M93.6,179.1a1.5,1.5 0 1,0 3,0a1.5,1.5 0 1,0 -3,0M95.7,161.9a1.5,1.5 0 1,0 3,0a1.5,1.5 0 1,0 -3,0M97.1,160.5a1.5,1.5 0 1,0 3,0a1.5,1.5 0 1,0 -3,0M98.6,162.7a1.5,1.5 0 1,0 3,0a1.5,1.5 0 1,0 -3,0M100.8,161.2a1.5,1.5 0 1,0 3,0a1.5,1.5 0 1,0 -3,0M103.0,160.5a1.5,1.5 0 1,0 3,0a1.5,1.5 0 1,0 -3,0M105.2,159.7a1.5,1.5 0 1,0 3,0a1.5,1.5 0 1,0 -3,0M106.6,160.5a1.5,1.5 0 1,0 3,0a1.5,1.5 0 1,0 -3,0M108.1,156.8a1.5,1.5 0 1,0 3,0a1.5,1.5 0 1,0 -3,0M109.2,157.7a1.5,1.5 0 1,0 3,0a1.5,1.5 0 1,0 -3,0M110.6,159.1a1.5,1.5 0 1,0 3,0a1.5,1.5 0 1,0 -3,0M113.3,159.1a1.5,1.5 0 1,0 3,0a1.5,1.5 0 1,0 -3,0M114.7,134.2a1.5,1.5 0 1,0 3,0a1.5,1.5 0 1,0 -3,0M114.7,154.2a1.5,1.5 0 1,0 3,0a1.5,1.5 0 1,0 -3,0M116.8,136.9a1.5,1.5 0 1,0 3,0a1.5,1.5 0 1,0 -3,0M119.6,130.0a1.5,1.5 0 1,0 3,0a1.5,1.5 0 1,0 -3,0M121.0,139.7a1.5,1.5 0 1,0 3,0a1.5,1.5 0 1,0 -3,0M123.0,139.0a1.5,1.5 0 1,0 3,0a1.5,1.5 0 1,0 -3,0M124.4,135.5a1.5,1.5 0 1,0 3,0a1.5,1.5 0 1,0 -3,0M125.8,140.4a1.5,1.5 0 1,0 3,0a1.5,1.5 0 1,0 -3,0M127.8,144.4a1.5,1.5 0 1,0 3,0a1.5,1.5 0 1,0 -3,0M130.7,159.1a1.5,1.5 0 1,0 3,0a1.5,1.5 0 1,0 -3,0M132.7,154.9a1.5,1.5 0 1,0 3,0a1.5,1.5 0 1,0 -3,0M134.1,139.0a1.5,1.5 0 1,0 3,0a1.5,1.5 0 1,0 -3,0M135.5,137.6a1.5,1.5 0 1,0 3,0a1.5,1.5 0 1,0 -3,0M137.6,131.4a1.5,1.5 0 1,0 3,0a1.5,1.5 0 1,0 -3,0M140.4,133.5a1.5,1.5 0 1,0 3,0a1.5,1.5 0 1,0 -3,0M142.4,134.2a1.5,1.5 0 1,0 3,0a1.5,1.5 0 1,0 -3,0M143.8,144.5a1.5,1.5 0 1,0 3,0a1.5,1.5 0 1,0 -3,0M145.2,140.4a1.5,1.5 0 1,0 3,0a1.5,1.5 0 1,0 -3,0M147.3,136.2a1.5,1.5 0 1,0 3,0a1.5,1.5 0 1,0 -3,0M150.1,137.6a1.5,1.5 0 1,0 3,0a1.5,1.5 0 1,0 -3,0M152.1,139.0a1.5,1.5 0 1,0 3,0a1.5,1.5 0 1,0 -3,0M154.2,139.7a1.5,1.5 0 1,0 3,0a1.5,1.5 0 1,0 -3,0M156.3,136.2a1.5,1.5 0 1,0 3,0a1.5,1.5 0 1,0 -3,0M158.2,133.0a1.5,1.5 0 1,0 3,0a1.5,1.5 0 1,0 -3,0M159.7,141.8a1.5,1.5 0 1,0 3,0a1.5,1.5 0 1,0 -3,0M161.2,150.2a1.5,1.5 0 1,0 3,0a1.5,1.5 0 1,0 -3,0M161.9,146.6a1.5,1.5 0 1,0 3,0a1.5,1.5 0 1,0 -3,0M164.1,144.4a1.5,1.5 0 1,0 3,0a1.5,1.5 0 1,0 -3,0M167.0,146.6a1.5,1.5 0 1,0 3,0a1.5,1.5 0 1,0 -3,0M169.2,146.6a1.5,1.5 0 1,0 3,0a1.5,1.5 0 1,0 -3,0M171.4,150.2a1.5,1.5 0 1,0 3,0a1.5,1.5 0 1,0 -3,0M173.6,149.5a1.5,1.5 0 1,0 3,0a1.5,1.5 0 1,0 -3,0M175.8,148.0a1.5,1.5 0 1,0 3,0a1.5,1.5 0 1,0 -3,0M177.2,140.4a1.5,1.5 0 1,0 3,0a1.5,1.5 0 1,0 -3,0M179.4,140.4a1.5,1.5 0 1,0 3,0a1.5,1.5 0 1,0 -3,0M180.9,145.8a1.5,1.5 0 1,0 3,0a1.5,1.5 0 1,0 -3,0M183.1,145.1a1.5,1.5 0 1,0 3,0a1.5,1.5 0 1,0 -3,0M185.3,144.4a1.5,1.5 0 1,0 3,0a1.5,1.5 0 1,0 -3,0M187.5,143.7a1.5,1.5 0 1,0 3,0a1.5,1.5 0 1,0 -3,0M188.2,138.9a1.5,1.5 0 1,0 3,0a1.5,1.5 0 1,0 -3,0M190.4,137.4a1.5,1.5 0 1,0 3,0a1.5,1.5 0 1,0 -3,0M191.9,134.5a1.5,1.5 0 1,0 3,0a1.5,1.5 0 1,0 -3,0M193.3,128.7a1.5,1.5 0 1,0 3,0a1.5,1.5 0 1,0 -3,0M194.8,138.2a1.5,1.5 0 1,0 3,0a1.5,1.5 0 1,0 -3,0M197.0,134.5a1.5,1.5 0 1,0 3,0a1.5,1.5 0 1,0 -3,0M198.4,132.3a1.5,1.5 0 1,0 3,0a1.5,1.5 0 1,0 -3,0M199.9,134.5a1.5,1.5 0 1,0 3,0a1.5,1.5 0 1,0 -3,0M201.4,137.4a1.5,1.5 0 1,0 3,0a1.5,1.5 0 1,0 -3,0M202.8,133.0a1.5,1.5 0 1,0 3,0a1.5,1.5 0 1,0 -3,0M205.8,146.6a1.5,1.5 0 1,0 3,0a1.5,1.5 0 1,0 -3,0M207.9,145.1a1.5,1.5 0 1,0 3,0a1.5,1.5 0 1,0 -3,0M209.4,140.4a1.5,1.5 0 1,0 3,0a1.5,1.5 0 1,0 -3,0M210.9,134.5a1.5,1.5 0 1,0 3,0a1.5,1.5 0 1,0 -3,0M213.1,145.1a1.5,1.5 0 1,0 3,0a1.5,1.5 0 1,0 -3,0M215.3,141.5a1.5,1.5 0 1,0 3,0a1.5,1.5 0 1,0 -3,0M217.4,146.6a1.5,1.5 0 1,0 3,0a1.5,1.5 0 1,0 -3,0M218.9,136.0a1.5,1.5 0 1,0 3,0a1.5,1.5 0 1,0 -3,0M221.1,135.2a1.5,1.5 0 1,0 3,0a1.5,1.5 0 1,0 -3,0M224.0,136.0a1.5,1.5 0 1,0 3,0a1.5,1.5 0 1,0 -3,0M225.5,130.9a1.5,1.5 0 1,0 3,0a1.5,1.5 0 1,0 -3,0M227.7,133.0a1.5,1.5 0 1,0 3,0a1.5,1.5 0 1,0 -3,0M229.1,132.3a1.5,1.5 0 1,0 3,0a1.5,1.5 0 1,0 -3,0M231.3,128.7a1.5,1.5 0 1,0 3,0a1.5,1.5 0 1,0 -3,0M232.8,129.4a1.5,1.5 0 1,0 3,0a1.5,1.5 0 1,0 -3,0M234.3,135.2a1.5,1.5 0 1,0 3,0a1.5,1.5 0 1,0 -3,0M235.0,132.3a1.5,1.5 0 1,0 3,0a1.5,1.5 0 1,0 -3,0M237.2,125.7a1.5,1.5 0 1,0 3,0a1.5,1.5 0 1,0 -3,0M237.9,129.4a1.5,1.5 0 1,0 3,0a1.5,1.5 0 1,0 -3,0M238.7,130.1a1.5,1.5 0 1,0 3,0a1.5,1.5 0 1,0 -3,0M240.2,133.0a1.5,1.5 0 1,0 3,0a1.5,1.5 0 1,0 -3,0M241.6,125.7a1.5,1.5 0 1,0 3,0a1.5,1.5 0 1,0 -3,0M243.8,127.9a1.5,1.5 0 1,0 3,0a1.5,1.5 0 1,0 -3,0M245.3,129.4a1.5,1.5 0 1,0 3,0a1.5,1.5 0 1,0 -3,0M248.2,125.0a1.5,1.5 0 1,0 3,0a1.5,1.5 0 1,0 -3,0M250.4,124.3a1.5,1.5 0 1,0 3,0a1.5,1.5 0 1,0 -3,0M253.3,120.6a1.5,1.5 0 1,0 3,0a1.5,1.5 0 1,0 -3,0M254.8,125.7a1.5,1.5 0 1,0 3,0a1.5,1.5 0 1,0 -3,0M257.0,127.2a1.5,1.5 0 1,0 3,0a1.5,1.5 0 1,0 -3,0M259.2,125.7a1.5,1.5 0 1,0 3,0a1.5,1.5 0 1,0 -3,0M261.4,126.5a1.5,1.5 0 1,0 3,0a1.5,1.5 0 1,0 -3,0M262.8,125.7a1.5,1.5 0 1,0 3,0a1.5,1.5 0 1,0 -3,0M264.3,130.9a1.5,1.5 0 1,0 3,0a1.5,1.5 0 1,0 -3,0M265.7,129.4a1.5,1.5 0 1,0 3,0a1.5,1.5 0 1,0 -3,0M267.9,129.4a1.5,1.5 0 1,0 3,0a1.5,1.5 0 1,0 -3,0M270.1,137.4a1.5,1.5 0 1,0 3,0a1.5,1.5 0 1,0 -3,0M271.6,133.0a1.5,1.5 0 1,0 3,0a1.5,1.5 0 1,0 -3,0M273.0,127.9a1.5,1.5 0 1,0 3,0a1.5,1.5 0 1,0 -3,0M275.2,127.9a1.5,1.5 0 1,0 3,0a1.5,1.5 0 1,0 -3,0M276.7,122.8a1.5,1.5 0 1,0 3,0a1.5,1.5 0 1,0 -3,0M278.9,123.5a1.5,1.5 0 1,0 3,0a1.5,1.5 0 1,0 -3,0M280.4,124.3a1.5,1.5 0 1,0 3,0a1.5,1.5 0 1,0 -3,0M282.6,127.2a1.5,1.5 0 1,0 3,0a1.5,1.5 0 1,0 -3,0M283.3,125.0a1.5,1.5 0 1,0 3,0a1.5,1.5 0 1,0 -3,0M285.5,136.0a1.5,1.5 0 1,0 3,0a1.5,1.5 0 1,0 -3,0M286.9,140.2a1.5,1.5 0 1,0 3,0a1.5,1.5 0 1,0 -3,0M289.1,136.7a1.5,1.5 0 1,0 3,0a1.5,1.5 0 1,0 -3,0M291.3,138.2a1.5,1.5 0 1,0 3,0a1.5,1.5 0 1,0 -3,0M292.8,140.7a1.5,1.5 0 1,0 3,0a1.5,1.5 0 1,0 -3,0M293.5,140.4a1.5,1.5 0 1,0 3,0a1.5,1.5 0 1,0 -3,0M295.7,138.2a1.5,1.5 0 1,0 3,0a1.5,1.5 0 1,0 -3,0M297.9,138.9a1.5,1.5 0 1,0 3,0a1.5,1.5 0 1,0 -3,0M297.9,145.6a1.5,1.5 0 1,0 3,0a1.5,1.5 0 1,0 -3,0M300.1,136.0a1.5,1.5 0 1,0 3,0a1.5,1.5 0 1,0 -3,0M300.8,127.9a1.5,1.5 0 1,0 3,0a1.5,1.5 0 1,0 -3,0M303.0,132.3a1.5,1.5 0 1,0 3,0a1.5,1.5 0 1,0 -3,0M305.2,135.2a1.5,1.5 0 1,0 3,0a1.5,1.5 0 1,0 -3,0M306.7,133.0a1.5,1.5 0 1,0 3,0a1.5,1.5 0 1,0 -3,0M308.9,138.9a1.5,1.5 0 1,0 3,0a1.5,1.5 0 1,0 -3,0M311.8,135.2a1.5,1.5 0 1,0 3,0a1.5,1.5 0 1,0 -3,0M312.5,131.6a1.5,1.5 0 1,0 3,0a1.5,1.5 0 1,0 -3,0M314.0,141.0a1.5,1.5 0 1,0 3,0a1.5,1.5 0 1,0 -3,0M316.2,136.7a1.5,1.5 0 1,0 3,0a1.5,1.5 0 1,0 -3,0M317.6,141.1a1.5,1.5 0 1,0 3,0a1.5,1.5 0 1,0 -3,0M319.1,144.1a1.5,1.5 0 1,0 3,0a1.5,1.5 0 1,0 -3,0M320.6,142.0a1.5,1.5 0 1,0 3,0a1.5,1.5 0 1,0 -3,0M322.8,130.1a1.5,1.5 0 1,0 3,0a1.5,1.5 0 1,0 -3,0M324.2,132.3a1.5,1.5 0 1,0 3,0a1.5,1.5 0 1,0 -3,0M325.7,126.5a1.5,1.5 0 1,0 3,0a1.5,1.5 0 1,0 -3,0M327.9,130.1a1.5,1.5 0 1,0 3,0a1.5,1.5 0 1,0 -3,0M330.1,127.2a1.5,1.5 0 1,0 3,0a1.5,1.5 0 1,0 -3,0M332.3,128.7a1.5,1.5 0 1,0 3,0a1.5,1.5 0 1,0 -3,0M334.5,129.4a1.5,1.5 0 1,0 3,0a1.5,1.5 0 1,0 -3,0M336.5,129.0a1.5,1.5 0 1,0 3,0a1.5,1.5 0 1,0 -3,0" fill="#ff8000"/><polyline points="50.4,80.8 51.8,74.2 52.6,65.0 54.4,64.7 56.2,64.3 57.0,54.1 59.2,72.7 59.9,59.2 62.1,55.5 62.8,69.4 65.0,54.8 66.5,42.4 68.7,39.0 70.9,35.7 72.5,28.5 74.5,33.2 76.1,29.2 77.7,31.5 79.0,25.6 80.9,21.7 82.3,29.2 84.0,36.4 84.7,47.5 87.2,36.4 88.4,48.2 91.3,50.4 93.5,67.2 95.0,117.7 97.2,127.2 98.6,117.0 100.1,120.6 101.6,116.2 103.7,108.2 104.5,107.1 105.9,107.5 107.4,106.4 109.6,119.2 111.1,114.0 113.3,116.2 114.7,120.6 116.2,133.8 116.9,133.5 117.6,133.8 119.1,107.1 119.8,106.7 120.6,96.1 122.8,101.2 124.2,107.0 125.7,102.0 127.1,145.8 128.0,143.9 129.3,142.9 130.1,143.2 130.8,151.2 132.2,147.3 133.5,149.4 135.2,153.9 135.6,154.2 136.6,168.5 137.7,167.9 138.8,167.8 139.3,167.1 141.1,175.5 143.0,184.0 144.8,192.4 145.1,192.4 146.6,188.3 147.2,187.7 148.8,184.6 151.0,189.0 151.5,189.3 154.6,167.8 156.8,158.7 159.0,149.5 159.2,149.4 161.2,161.2 162.7,169.2 164.1,183.2 165.9,189.4 167.8,195.6 169.6,190.8 171.4,186.1 173.2,181.3 175.1,176.6 178.0,170.0 180.2,161.9 182.4,173.3 183.9,171.5 185.3,168.5 186.8,180.2 188.2,166.3 190.1,168.9 191.9,171.4 194.8,168.5 196.3,125.0 197.7,126.5 199.9,127.2 201.4,127.6 202.9,146.6 204.3,129.4 206.1,119.9 207.5,102.7 209.4,130.9 210.9,122.8 212.7,117.7 214.3,113.3 215.7,110.4 217.5,93.2 219.7,95.1 221.9,100.5 224.1,96.1 226.3,97.6 228.5,103.4 230.6,96.9 232.8,100.5 233.6,99.8 235.0,113.0 237.2,137.4 238.0,114.0 238.7,114.0 239.5,103.8 241.7,101.2 243.1,114.8 244.6,114.8 246.4,123.6 248.2,132.3 249.7,138.9 251.2,150.5 253.4,153.9 254.8,152.4 256.3,149.1 257.7,154.6 259.6,156.1 260.7,134.5 262.1,138.2 263.6,141.8 264.3,142.2 267.2,114.0 268.7,136.0 271.6,140.4 272.4,140.7 273.8,128.7 275.3,116.2 276.7,122.1 278.2,97.6 280.4,95.4 281.9,99.8 283.3,117.0 284.8,109.7 286.2,117.7 288.4,101.2 289.9,92.5 291.4,85.5 292.8,97.6 294.3,107.0 296.5,93.9 298.0,83.0 300.1,83.7 302.3,82.5 304.5,85.9 306.0,94.7 307.4,108.2 308.9,96.1 310.4,100.5 312.6,109.7 314.0,106.7 315.5,99.0 317.7,99.8 320.6,108.2 322.1,124.3 323.5,103.4 325.4,96.1 326.5,124.3 327.9,107.6 330.1,114.8 331.6,82.2 333.8,84.4 335.2,83.0 336.2,76.7" fill="none" stroke="#ff0000" stroke-width="0.45" stroke-opacity="0.8"/><path d="M48.9,80.8a1.5,1.5 0 1,0 3,0a1.5,1.5 0 1,0 -3,0M50.3,74.2a1.5,1.5 0 1,0 3,0a1.5,1.5 0 1,0 -3,0M51.1,65.0a1.5,1.5 0 1,0 3,0a1.5,1.5 0 1,0 -3,0M52.9,64.7a1.5,1.5 0 1,0 3,0a1.5,1.5 0 1,0 -3,0M54.7,64.3a1.5,1.5 0 1,0 3,0a1.5,1.5 0 1,0 -3,0M55.5,54.1a1.5,1.5 0 1,0 3,0a1.5,1.5 0 1,0 -3,0M57.7,72.7a1.5,1.5 0 1,0 3,0a1.5,1.5 0 1,0 -3,0M58.4,59.2a1.5,1.5 0 1,0 3,0a1.5,1.5 0 1,0 -3,0M60.6,55.5a1.5,1.5 0 1,0 3,0a1.5,1.5 0 1,0 -3,0M61.3,69.4a1.5,1.5 0 1,0 3,0a1.5,1.5 0 1,0 -3,0M63.5,54.8a1.5,1.5 0 1,0 3,0a1.5,1.5 0 1,0 -3,0M65.0,42.4a1.5,1.5 0 1,0 3,0a1.5,1.5 0 1,0 -3,0M67.2,39.0a1.5,1.5 0 1,0 3,0a1.5,1.5 0 1,0 -3,0M69.4,35.7a1.5,1.5 0 1,0 3,0a1.5,1.5 0 1,0 -3,0M71.0,28.5a1.5,1.5 0 1,0 3,0a1.5,1.5 0 1,0 -3,0M73.0,33.2a1.5,1.5 0 1,0 3,0a1.5,1.5 0 1,0 -3,0M74.6,29.2a1.5,1.5 0 1,0 3,0a1.5,1.5 0 1,0 -3,0M76.2,31.5a1.5,1.5 0 1,0 3,0a1.5,1.5 0 1,0 -3,0M77.5,25.6a1.5,1.5 0 1,0 3,0a1.5,1.5 0 1,0 -3,0M79.4,21.7a1.5,1.5 0 1,0 3,0a1.5,1.5 0 1,0 -3,0M80.8,29.2a1.5,1.5 0 1,0 3,0a1.5,1.5 0 1,0 -3,0M82.5,36.4a1.5,1.5 0 1,0 3,0a1.5,1.5 0 1,0 -3,0M83.2,47.5a1.5,1.5 0 1,0 3,0a1.5,1.5 0 1,0 -3,0M85.7,36.4a1.5,1.5 0 1,0 3,0a1.5,1.5 0 1,0 -3,0M86.9,48.2a1.5,1.5 0 1,0 3,0a1.5,1.5 0 1,0 -3,0M89.8,50.4a1.5,1.5 0 1,0 3,0a1.5,1.5 0 1,0 -3,0M92.0,67.2a1.5,1.5 0 1,0 3,0a1.5,1.5 0 1,0 -3,0M93.5,117.7a1.5,1.5 0 1,0 3,0a1.5,1.5 0 1,0 -3,0M95.7,127.2a1.5,1.5 0 1,0 3,0a1.5,1.5 0 1,0 -3,0M97.1,117.0a1.5,1.5 0 1,0 3,0a1.5,1.5 0 1,0 -3,0M98.6,120.6a1.5,1.5 0 1,0 3,0a1.5,1.5 0 1,0 -3,0M100.1,116.2a1.5,1.5 0 1,0 3,0a1.5,1.5 0 1,0 -3,0M102.2,108.2a1.5,1.5 0 1,0 3,0a1.5,1.5 0 1,0 -3,0M103.0,107.1a1.5,1.5 0 1,0 3,0a1.5,1.5 0 1,0 -3,0M104.4,107.5a1.5,1.5 0 1,0 3,0a1.5,1.5 0 1,0 -3,0M105.9,106.4a1.5,1.5 0 1,0 3,0a1.5,1.5 0 1,0 -3,0M108.1,119.2a1.5,1.5 0 1,0 3,0a1.5,1.5 0 1,0 -3,0M109.6,114.0a1.5,1.5 0 1,0 3,0a1.5,1.5 0 1,0 -3,0M111.8,116.2a1.5,1.5 0 1,0 3,0a1.5,1.5 0 1,0 -3,0M113.2,120.6a1.5,1.5 0 1,0 3,0a1.5,1.5 0 1,0 -3,0M114.7,133.8a1.5,1.5 0 1,0 3,0a1.5,1.5 0 1,0 -3,0M115.4,133.5a1.5,1.5 0 1,0 3,0a1.5,1.5 0 1,0 -3,0M116.1,133.8a1.5,1.5 0 1,0 3,0a1.5,1.5 0 1,0 -3,0M117.6,107.1a1.5,1.5 0 1,0 3,0a1.5,1.5 0 1,0 -3,0M118.3,106.7a1.5,1.5 0 1,0 3,0a1.5,1.5 0 1,0 -3,0M119.1,96.1a1.5,1.5 0 1,0 3,0a1.5,1.5 0 1,0 -3,0M121.3,101.2a1.5,1.5 0 1,0 3,0a1.5,1.5 0 1,0 -3,0M122.7,107.0a1.5,1.5 0 1,0 3,0a1.5,1.5 0 1,0 -3,0M124.2,102.0a1.5,1.5 0 1,0 3,0a1.5,1.5 0 1,0 -3,0M125.6,145.8a1.5,1.5 0 1,0 3,0a1.5,1.5 0 1,0 -3,0M126.5,143.9a1.5,1.5 0 1,0 3,0a1.5,1.5 0 1,0 -3,0M127.8,142.9a1.5,1.5 0 1,0 3,0a1.5,1.5 0 1,0 -3,0M128.6,143.2a1.5,1.5 0 1,0 3,0a1.5,1.5 0 1,0 -3,0M129.3,151.2a1.5,1.5 0 1,0 3,0a1.5,1.5 0 1,0 -3,0M130.7,147.3a1.5,1.5 0 1,0 3,0a1.5,1.5 0 1,0 -3,0M132.0,149.4a1.5,1.5 0 1,0 3,0a1.5,1.5 0 1,0 -3,0M133.7,153.9a1.5,1.5 0 1,0 3,0a1.5,1.5 0 1,0 -3,0M134.1,154.2a1.5,1.5 0 1,0 3,0a1.5,1.5 0 1,0 -3,0M135.1,168.5a1.5,1.5 0 1,0 3,0a1.5,1.5 0 1,0 -3,0M136.2,167.9a1.5,1.5 0 1,0 3,0a1.5,1.5 0 1,0 -3,0M137.3,167.8a1.5,1.5 0 1,0 3,0a1.5,1.5 0 1,0 -3,0M137.8,167.1a1.5,1.5 0 1,0 3,0a1.5,1.5 0 1,0 -3,0M139.6,175.5a1.5,1.5 0 1,0 3,0a1.5,1.5 0 1,0 -3,0M141.5,184.0a1.5,1.5 0 1,0 3,0a1.5,1.5 0 1,0 -3,0M143.3,192.4a1.5,1.5 0 1,0 3,0a1.5,1.5 0 1,0 -3,0M143.6,192.4a1.5,1.5 0 1,0 3,0a1.5,1.5 0 1,0 -3,0M145.1,188.3a1.5,1.5 0 1,0 3,0a1.5,1.5 0 1,0 -3,0M145.7,187.7a1.5,1.5 0 1,0 3,0a1.5,1.5 0 1,0 -3,0M147.3,184.6a1.5,1.5 0 1,0 3,0a1.5,1.5 0 1,0 -3,0M149.5,189.0a1.5,1.5 0 1,0 3,0a1.5,1.5 0 1,0 -3,0M150.0,189.3a1.5,1.5 0 1,0 3,0a1.5,1.5 0 1,0 -3,0M153.1,167.8a1.5,1.5 0 1,0 3,0a1.5,1.5 0 1,0 -3,0M155.3,158.7a1.5,1.5 0 1,0 3,0a1.5,1.5 0 1,0 -3,0M157.5,149.5a1.5,1.5 0 1,0 3,0a1.5,1.5 0 1,0 -3,0M157.7,149.4a1.5,1.5 0 1,0 3,0a1.5,1.5 0 1,0 -3,0M159.7,161.2a1.5,1.5 0 1,0 3,0a1.5,1.5 0 1,0 -3,0M161.2,169.2a1.5,1.5 0 1,0 3,0a1.5,1.5 0 1,0 -3,0M162.6,183.2a1.5,1.5 0 1,0 3,0a1.5,1.5 0 1,0 -3,0M164.4,189.4a1.5,1.5 0 1,0 3,0a1.5,1.5 0 1,0 -3,0M166.3,195.6a1.5,1.5 0 1,0 3,0a1.5,1.5 0 1,0 -3,0M168.1,190.8a1.5,1.5 0 1,0 3,0a1.5,1.5 0 1,0 -3,0M169.9,186.1a1.5,1.5 0 1,0 3,0a1.5,1.5 0 1,0 -3,0M171.8,181.3a1.5,1.5 0 1,0 3,0a1.5,1.5 0 1,0 -3,0M173.6,176.6a1.5,1.5 0 1,0 3,0a1.5,1.5 0 1,0 -3,0M176.5,170.0a1.5,1.5 0 1,0 3,0a1.5,1.5 0 1,0 -3,0M178.7,161.9a1.5,1.5 0 1,0 3,0a1.5,1.5 0 1,0 -3,0M180.9,173.3a1.5,1.5 0 1,0 3,0a1.5,1.5 0 1,0 -3,0M182.4,171.5a1.5,1.5 0 1,0 3,0a1.5,1.5 0 1,0 -3,0M183.8,168.5a1.5,1.5 0 1,0 3,0a1.5,1.5 0 1,0 -3,0M185.3,180.2a1.5,1.5 0 1,0 3,0a1.5,1.5 0 1,0 -3,0M186.7,166.3a1.5,1.5 0 1,0 3,0a1.5,1.5 0 1,0 -3,0M188.6,168.9a1.5,1.5 0 1,0 3,0a1.5,1.5 0 1,0 -3,0M190.4,171.4a1.5,1.5 0 1,0 3,0a1.5,1.5 0 1,0 -3,0M193.3,168.5a1.5,1.5 0 1,0 3,0a1.5,1.5 0 1,0 -3,0M194.8,125.0a1.5,1.5 0 1,0 3,0a1.5,1.5 0 1,0 -3,0M196.2,126.5a1.5,1.5 0 1,0 3,0a1.5,1.5 0 1,0 -3,0M198.4,127.2a1.5,1.5 0 1,0 3,0a1.5,1.5 0 1,0 -3,0M199.9,127.6a1.5,1.5 0 1,0 3,0a1.5,1.5 0 1,0 -3,0M201.4,146.6a1.5,1.5 0 1,0 3,0a1.5,1.5 0 1,0 -3,0M202.8,129.4a1.5,1.5 0 1,0 3,0a1.5,1.5 0 1,0 -3,0M204.6,119.9a1.5,1.5 0 1,0 3,0a1.5,1.5 0 1,0 -3,0M206.0,102.7a1.5,1.5 0 1,0 3,0a1.5,1.5 0 1,0 -3,0M207.9,130.9a1.5,1.5 0 1,0 3,0a1.5,1.5 0 1,0 -3,0M209.4,122.8a1.5,1.5 0 1,0 3,0a1.5,1.5 0 1,0 -3,0M211.2,117.7a1.5,1.5 0 1,0 3,0a1.5,1.5 0 1,0 -3,0M212.8,113.3a1.5,1.5 0 1,0 3,0a1.5,1.5 0 1,0 -3,0M214.2,110.4a1.5,1.5 0 1,0 3,0a1.5,1.5 0 1,0 -3,0M216.0,93.2a1.5,1.5 0 1,0 3,0a1.5,1.5 0 1,0 -3,0M218.2,95.1a1.5,1.5 0 1,0 3,0a1.5,1.5 0 1,0 -3,0M220.4,100.5a1.5,1.5 0 1,0 3,0a1.5,1.5 0 1,0 -3,0M222.6,96.1a1.5,1.5 0 1,0 3,0a1.5,1.5 0 1,0 -3,0M224.8,97.6a1.5,1.5 0 1,0 3,0a1.5,1.5 0 1,0 -3,0M227.0,103.4a1.5,1.5 0 1,0 3,0a1.5,1.5 0 1,0 -3,0M229.1,96.9a1.5,1.5 0 1,0 3,0a1.5,1.5 0 1,0 -3,0M231.3,100.5a1.5,1.5 0 1,0 3,0a1.5,1.5 0 1,0 -3,0M232.1,99.8a1.5,1.5 0 1,0 3,0a1.5,1.5 0 1,0 -3,0M233.5,113.0a1.5,1.5 0 1,0 3,0a1.5,1.5 0 1,0 -3,0M235.7,137.4a1.5,1.5 0 1,0 3,0a1.5,1.5 0 1,0 -3,0M236.5,114.0a1.5,1.5 0 1,0 3,0a1.5,1.5 0 1,0 -3,0M237.2,114.0a1.5,1.5 0 1,0 3,0a1.5,1.5 0 1,0 -3,0M238.0,103.8a1.5,1.5 0 1,0 3,0a1.5,1.5 0 1,0 -3,0M240.2,101.2a1.5,1.5 0 1,0 3,0a1.5,1.5 0 1,0 -3,0M241.6,114.8a1.5,1.5 0 1,0 3,0a1.5,1.5 0 1,0 -3,0M243.1,114.8a1.5,1.5 0 1,0 3,0a1.5,1.5 0 1,0 -3,0M244.9,123.6a1.5,1.5 0 1,0 3,0a1.5,1.5 0 1,0 -3,0M246.7,132.3a1.5,1.5 0 1,0 3,0a1.5,1.5 0 1,0 -3,0M248.2,138.9a1.5,1.5 0 1,0 3,0a1.5,1.5 0 1,0 -3,0M249.7,150.5a1.5,1.5 0 1,0 3,0a1.5,1.5 0 1,0 -3,0M251.9,153.9a1.5,1.5 0 1,0 3,0a1.5,1.5 0 1,0 -3,0M253.3,152.4a1.5,1.5 0 1,0 3,0a1.5,1.5 0 1,0 -3,0M254.8,149.1a1.5,1.5 0 1,0 3,0a1.5,1.5 0 1,0 -3,0M256.2,154.6a1.5,1.5 0 1,0 3,0a1.5,1.5 0 1,0 -3,0M258.1,156.1a1.5,1.5 0 1,0 3,0a1.5,1.5 0 1,0 -3,0M259.2,134.5a1.5,1.5 0 1,0 3,0a1.5,1.5 0 1,0 -3,0M260.6,138.2a1.5,1.5 0 1,0 3,0a1.5,1.5 0 1,0 -3,0M262.1,141.8a1.5,1.5 0 1,0 3,0a1.5,1.5 0 1,0 -3,0M262.8,142.2a1.5,1.5 0 1,0 3,0a1.5,1.5 0 1,0 -3,0M265.7,114.0a1.5,1.5 0 1,0 3,0a1.5,1.5 0 1,0 -3,0M267.2,136.0a1.5,1.5 0 1,0 3,0a1.5,1.5 0 1,0 -3,0M270.1,140.4a1.5,1.5 0 1,0 3,0a1.5,1.5 0 1,0 -3,0M270.9,140.7a1.5,1.5 0 1,0 3,0a1.5,1.5 0 1,0 -3,0M272.3,128.7a1.5,1.5 0 1,0 3,0a1.5,1.5 0 1,0 -3,0M273.8,116.2a1.5,1.5 0 1,0 3,0a1.5,1.5 0 1,0 -3,0M275.2,122.1a1.5,1.5 0 1,0 3,0a1.5,1.5 0 1,0 -3,0M276.7,97.6a1.5,1.5 0 1,0 3,0a1.5,1.5 0 1,0 -3,0M278.9,95.4a1.5,1.5 0 1,0 3,0a1.5,1.5 0 1,0 -3,0M280.4,99.8a1.5,1.5 0 1,0 3,0a1.5,1.5 0 1,0 -3,0M281.8,117.0a1.5,1.5 0 1,0 3,0a1.5,1.5 0 1,0 -3,0M283.3,109.7a1.5,1.5 0 1,0 3,0a1.5,1.5 0 1,0 -3,0M284.7,117.7a1.5,1.5 0 1,0 3,0a1.5,1.5 0 1,0 -3,0M286.9,101.2a1.5,1.5 0 1,0 3,0a1.5,1.5 0 1,0 -3,0M288.4,92.5a1.5,1.5 0 1,0 3,0a1.5,1.5 0 1,0 -3,0M289.9,85.5a1.5,1.5 0 1,0 3,0a1.5,1.5 0 1,0 -3,0M291.3,97.6a1.5,1.5 0 1,0 3,0a1.5,1.5 0 1,0 -3,0M292.8,107.0a1.5,1.5 0 1,0 3,0a1.5,1.5 0 1,0 -3,0M295.0,93.9a1.5,1.5 0 1,0 3,0a1.5,1.5 0 1,0 -3,0M296.5,83.0a1.5,1.5 0 1,0 3,0a1.5,1.5 0 1,0 -3,0M298.6,83.7a1.5,1.5 0 1,0 3,0a1.5,1.5 0 1,0 -3,0M300.8,82.5a1.5,1.5 0 1,0 3,0a1.5,1.5 0 1,0 -3,0M303.0,85.9a1.5,1.5 0 1,0 3,0a1.5,1.5 0 1,0 -3,0M304.5,94.7a1.5,1.5 0 1,0 3,0a1.5,1.5 0 1,0 -3,0M305.9,108.2a1.5,1.5 0 1,0 3,0a1.5,1.5 0 1,0 -3,0M307.4,96.1a1.5,1.5 0 1,0 3,0a1.5,1.5 0 1,0 -3,0M308.9,100.5a1.5,1.5 0 1,0 3,0a1.5,1.5 0 1,0 -3,0M311.1,109.7a1.5,1.5 0 1,0 3,0a1.5,1.5 0 1,0 -3,0M312.5,106.7a1.5,1.5 0 1,0 3,0a1.5,1.5 0 1,0 -3,0M314.0,99.0a1.5,1.5 0 1,0 3,0a1.5,1.5 0 1,0 -3,0M316.2,99.8a1.5,1.5 0 1,0 3,0a1.5,1.5 0 1,0 -3,0M319.1,108.2a1.5,1.5 0 1,0 3,0a1.5,1.5 0 1,0 -3,0M320.6,124.3a1.5,1.5 0 1,0 3,0a1.5,1.5 0 1,0 -3,0M322.0,103.4a1.5,1.5 0 1,0 3,0a1.5,1.5 0 1,0 -3,0M323.9,96.1a1.5,1.5 0 1,0 3,0a1.5,1.5 0 1,0 -3,0M325.0,124.3a1.5,1.5 0 1,0 3,0a1.5,1.5 0 1,0 -3,0M326.4,107.6a1.5,1.5 0 1,0 3,0a1.5,1.5 0 1,0 -3,0M328.6,114.8a1.5,1.5 0 1,0 3,0a1.5,1.5 0 1,0 -3,0M330.1,82.2a1.5,1.5 0 1,0 3,0a1.5,1.5 0 1,0 -3,0M332.3,84.4a1.5,1.5 0 1,0 3,0a1.5,1.5 0 1,0 -3,0M333.7,83.0a1.5,1.5 0 1,0 3,0a1.5,1.5 0 1,0 -3,0M334.7,76.7a1.5,1.5 0 1,0 3,0a1.5,1.5 0 1,0 -3,0" fill="#ff0000"/><polyline points="50.3,13.9 51.5,26.3 53.2,33.4 54.8,41.2 57.0,49.0 58.4,51.9 59.9,51.2 61.4,68.0 63.5,85.9 65.0,85.5 66.5,93.9 67.9,97.6 69.4,99.0 70.9,103.4 72.3,72.6 74.5,83.0 76.0,98.0 77.4,99.0 78.9,100.5 80.4,101.2 82.5,116.2 84.0,122.8 85.5,124.3 86.9,142.2 87.7,133.8 87.7,138.9 89.9,138.9 91.3,140.0 92.1,139.6 93.5,138.9 94.2,142.5 95.7,142.9 97.9,143.7 99.8,144.1 101.6,144.4 103.0,135.2 105.2,138.9 106.0,140.7 106.7,140.4 108.1,145.1 110.3,146.6 110.7,147.3 112.8,144.5 114.8,151.1 116.9,157.7 118.3,158.4 119.5,171.1 121.1,177.4 122.7,187.7 125.0,189.3 127.5,208.2 129.0,190.1 131.5,190.4 132.2,190.1 133.7,167.1 135.9,172.9 137.7,171.9 138.5,190.9 140.5,176.7 141.6,188.5 143.2,172.7 144.4,163.4 145.6,163.2 146.6,161.9 148.8,158.3 150.3,164.0 151.0,165.6 153.2,160.5 154.6,165.6 156.1,168.5 157.5,169.2 159.1,175.8 159.7,175.8 161.2,156.1 163.4,153.9 165.6,165.6 167.0,158.3 169.2,159.0 171.4,157.5 173.6,160.5 175.8,161.2 177.3,164.1 178.7,151.0 180.9,150.2 182.4,149.5 185.3,155.4 187.5,158.3 188.2,163.4 190.4,151.7 192.6,153.9 194.8,155.4 196.3,170.0 198.5,174.0 199.9,171.5 200.7,167.0 202.9,165.6 204.3,169.0 205.8,174.4 207.3,176.6 208.7,175.1 210.9,174.4 212.4,177.3 215.3,179.5 217.5,154.6 219.7,159.0 221.9,157.5 224.1,167.0 226.3,157.5 228.5,159.7 230.6,153.9 232.8,162.7 234.3,165.6 235.8,171.0 237.2,170.7 238.7,159.7 240.2,166.3 241.7,165.6 243.1,160.5 244.6,159.7 246.5,155.4 248.2,164.9 249.5,176.2 251.2,185.5 252.6,183.7 253.9,190.0 254.3,208.0 255.5,205.6 256.2,205.2 257.4,212.8 259.1,207.3 260.5,193.5 262.6,208.4 263.6,207.1 264.7,207.5 265.5,217.2 267.2,177.2 268.6,191.6 270.2,182.2 271.6,171.4 273.8,170.7 275.3,163.1 276.7,153.9 278.6,147.3 280.4,139.5 281.9,146.6 283.3,161.2 284.8,150.2 286.2,140.2 287.7,130.1 289.9,127.9 291.4,130.1 292.8,124.3 295.0,132.3 296.5,127.2 298.0,119.9 299.4,132.3 300.9,114.8 302.3,119.9 304.5,112.6 306.0,114.8 307.4,117.0 308.9,106.9 310.4,107.5 312.6,116.2 314.0,114.8 315.5,107.0 317.0,113.3 319.1,111.1 320.6,114.8 322.1,119.9 323.5,117.0 325.0,120.6 326.5,115.5 328.6,114.0 330.1,109.7 331.6,98.0 333.8,96.9 335.2,98.0 336.0,93.2 337.4,87.4" fill="none" stroke="#ffff00" stroke-width="0.45" stroke-opacity="0.8"/><path d="M48.8,13.9a1.5,1.5 0 1,0 3,0a1.5,1.5 0 1,0 -3,0M50.0,26.3a1.5,1.5 0 1,0 3,0a1.5,1.5 0 1,0 -3,0M51.7,33.4a1.5,1.5 0 1,0 3,0a1.5,1.5 0 1,0 -3,0M53.3,41.2a1.5,1.5 0 1,0 3,0a1.5,1.5 0 1,0 -3,0M55.5,49.0a1.5,1.5 0 1,0 3,0a1.5,1.5 0 1,0 -3,0M56.9,51.9a1.5,1.5 0 1,0 3,0a1.5,1.5 0 1,0 -3,0M58.4,51.2a1.5,1.5 0 1,0 3,0a1.5,1.5 0 1,0 -3,0M59.9,68.0a1.5,1.5 0 1,0 3,0a1.5,1.5 0 1,0 -3,0M62.0,85.9a1.5,1.5 0 1,0 3,0a1.5,1.5 0 1,0 -3,0M63.5,85.5a1.5,1.5 0 1,0 3,0a1.5,1.5 0 1,0 -3,0M65.0,93.9a1.5,1.5 0 1,0 3,0a1.5,1.5 0 1,0 -3,0M66.4,97.6a1.5,1.5 0 1,0 3,0a1.5,1.5 0 1,0 -3,0M67.9,99.0a1.5,1.5 0 1,0 3,0a1.5,1.5 0 1,0 -3,0M69.4,103.4a1.5,1.5 0 1,0 3,0a1.5,1.5 0 1,0 -3,0M70.8,72.6a1.5,1.5 0 1,0 3,0a1.5,1.5 0 1,0 -3,0M73.0,83.0a1.5,1.5 0 1,0 3,0a1.5,1.5 0 1,0 -3,0M74.5,98.0a1.5,1.5 0 1,0 3,0a1.5,1.5 0 1,0 -3,0M75.9,99.0a1.5,1.5 0 1,0 3,0a1.5,1.5 0 1,0 -3,0M77.4,100.5a1.5,1.5 0 1,0 3,0a1.5,1.5 0 1,0 -3,0M78.9,101.2a1.5,1.5 0 1,0 3,0a1.5,1.5 0 1,0 -3,0M81.0,116.2a1.5,1.5 0 1,0 3,0a1.5,1.5 0 1,0 -3,0M82.5,122.8a1.5,1.5 0 1,0 3,0a1.5,1.5 0 1,0 -3,0M84.0,124.3a1.5,1.5 0 1,0 3,0a1.5,1.5 0 1,0 -3,0M85.4,142.2a1.5,1.5 0 1,0 3,0a1.5,1.5 0 1,0 -3,0M86.2,133.8a1.5,1.5 0 1,0 3,0a1.5,1.5 0 1,0 -3,0M86.2,138.9a1.5,1.5 0 1,0 3,0a1.5,1.5 0 1,0 -3,0M88.4,138.9a1.5,1.5 0 1,0 3,0a1.5,1.5 0 1,0 -3,0M89.8,140.0a1.5,1.5 0 1,0 3,0a1.5,1.5 0 1,0 -3,0M90.6,139.6a1.5,1.5 0 1,0 3,0a1.5,1.5 0 1,0 -3,0M92.0,138.9a1.5,1.5 0 1,0 3,0a1.5,1.5 0 1,0 -3,0M92.7,142.5a1.5,1.5 0 1,0 3,0a1.5,1.5 0 1,0 -3,0M94.2,142.9a1.5,1.5 0 1,0 3,0a1.5,1.5 0 1,0 -3,0M96.4,143.7a1.5,1.5 0 1,0 3,0a1.5,1.5 0 1,0 -3,0M98.2,144.1a1.5,1.5 0 1,0 3,0a1.5,1.5 0 1,0 -3,0M100.1,144.4a1.5,1.5 0 1,0 3,0a1.5,1.5 0 1,0 -3,0M101.5,135.2a1.5,1.5 0 1,0 3,0a1.5,1.5 0 1,0 -3,0M103.7,138.9a1.5,1.5 0 1,0 3,0a1.5,1.5 0 1,0 -3,0M104.5,140.7a1.5,1.5 0 1,0 3,0a1.5,1.5 0 1,0 -3,0M105.2,140.4a1.5,1.5 0 1,0 3,0a1.5,1.5 0 1,0 -3,0M106.6,145.1a1.5,1.5 0 1,0 3,0a1.5,1.5 0 1,0 -3,0M108.8,146.6a1.5,1.5 0 1,0 3,0a1.5,1.5 0 1,0 -3,0M109.2,147.3a1.5,1.5 0 1,0 3,0a1.5,1.5 0 1,0 -3,0M111.3,144.5a1.5,1.5 0 1,0 3,0a1.5,1.5 0 1,0 -3,0M113.3,151.1a1.5,1.5 0 1,0 3,0a1.5,1.5 0 1,0 -3,0M115.4,157.7a1.5,1.5 0 1,0 3,0a1.5,1.5 0 1,0 -3,0M116.8,158.4a1.5,1.5 0 1,0 3,0a1.5,1.5 0 1,0 -3,0M118.0,171.1a1.5,1.5 0 1,0 3,0a1.5,1.5 0 1,0 -3,0M119.6,177.4a1.5,1.5 0 1,0 3,0a1.5,1.5 0 1,0 -3,0M121.2,187.7a1.5,1.5 0 1,0 3,0a1.5,1.5 0 1,0 -3,0M123.5,189.3a1.5,1.5 0 1,0 3,0a1.5,1.5 0 1,0 -3,0M126.0,208.2a1.5,1.5 0 1,0 3,0a1.5,1.5 0 1,0 -3,0M127.5,190.1a1.5,1.5 0 1,0 3,0a1.5,1.5 0 1,0 -3,0M130.0,190.4a1.5,1.5 0 1,0 3,0a1.5,1.5 0 1,0 -3,0M130.7,190.1a1.5,1.5 0 1,0 3,0a1.5,1.5 0 1,0 -3,0M132.2,167.1a1.5,1.5 0 1,0 3,0a1.5,1.5 0 1,0 -3,0M134.4,172.9a1.5,1.5 0 1,0 3,0a1.5,1.5 0 1,0 -3,0M136.2,171.9a1.5,1.5 0 1,0 3,0a1.5,1.5 0 1,0 -3,0M137.0,190.9a1.5,1.5 0 1,0 3,0a1.5,1.5 0 1,0 -3,0M139.0,176.7a1.5,1.5 0 1,0 3,0a1.5,1.5 0 1,0 -3,0M140.1,188.5a1.5,1.5 0 1,0 3,0a1.5,1.5 0 1,0 -3,0M141.7,172.7a1.5,1.5 0 1,0 3,0a1.5,1.5 0 1,0 -3,0M142.9,163.4a1.5,1.5 0 1,0 3,0a1.5,1.5 0 1,0 -3,0M144.1,163.2a1.5,1.5 0 1,0 3,0a1.5,1.5 0 1,0 -3,0M145.1,161.9a1.5,1.5 0 1,0 3,0a1.5,1.5 0 1,0 -3,0M147.3,158.3a1.5,1.5 0 1,0 3,0a1.5,1.5 0 1,0 -3,0M148.8,164.0a1.5,1.5 0 1,0 3,0a1.5,1.5 0 1,0 -3,0M149.5,165.6a1.5,1.5 0 1,0 3,0a1.5,1.5 0 1,0 -3,0M151.7,160.5a1.5,1.5 0 1,0 3,0a1.5,1.5 0 1,0 -3,0M153.1,165.6a1.5,1.5 0 1,0 3,0a1.5,1.5 0 1,0 -3,0M154.6,168.5a1.5,1.5 0 1,0 3,0a1.5,1.5 0 1,0 -3,0M156.0,169.2a1.5,1.5 0 1,0 3,0a1.5,1.5 0 1,0 -3,0M157.6,175.8a1.5,1.5 0 1,0 3,0a1.5,1.5 0 1,0 -3,0M158.2,175.8a1.5,1.5 0 1,0 3,0a1.5,1.5 0 1,0 -3,0M159.7,156.1a1.5,1.5 0 1,0 3,0a1.5,1.5 0 1,0 -3,0M161.9,153.9a1.5,1.5 0 1,0 3,0a1.5,1.5 0 1,0 -3,0M164.1,165.6a1.5,1.5 0 1,0 3,0a1.5,1.5 0 1,0 -3,0M165.5,158.3a1.5,1.5 0 1,0 3,0a1.5,1.5 0 1,0 -3,0M167.7,159.0a1.5,1.5 0 1,0 3,0a1.5,1.5 0 1,0 -3,0M169.9,157.5a1.5,1.5 0 1,0 3,0a1.5,1.5 0 1,0 -3,0M172.1,160.5a1.5,1.5 0 1,0 3,0a1.5,1.5 0 1,0 -3,0M174.3,161.2a1.5,1.5 0 1,0 3,0a1.5,1.5 0 1,0 -3,0M175.8,164.1a1.5,1.5 0 1,0 3,0a1.5,1.5 0 1,0 -3,0M177.2,151.0a1.5,1.5 0 1,0 3,0a1.5,1.5 0 1,0 -3,0M179.4,150.2a1.5,1.5 0 1,0 3,0a1.5,1.5 0 1,0 -3,0M180.9,149.5a1.5,1.5 0 1,0 3,0a1.5,1.5 0 1,0 -3,0M183.8,155.4a1.5,1.5 0 1,0 3,0a1.5,1.5 0 1,0 -3,0M186.0,158.3a1.5,1.5 0 1,0 3,0a1.5,1.5 0 1,0 -3,0M186.7,163.4a1.5,1.5 0 1,0 3,0a1.5,1.5 0 1,0 -3,0M188.9,151.7a1.5,1.5 0 1,0 3,0a1.5,1.5 0 1,0 -3,0M191.1,153.9a1.5,1.5 0 1,0 3,0a1.5,1.5 0 1,0 -3,0M193.3,155.4a1.5,1.5 0 1,0 3,0a1.5,1.5 0 1,0 -3,0M194.8,170.0a1.5,1.5 0 1,0 3,0a1.5,1.5 0 1,0 -3,0M197.0,174.0a1.5,1.5 0 1,0 3,0a1.5,1.5 0 1,0 -3,0M198.4,171.5a1.5,1.5 0 1,0 3,0a1.5,1.5 0 1,0 -3,0M199.2,167.0a1.5,1.5 0 1,0 3,0a1.5,1.5 0 1,0 -3,0M201.4,165.6a1.5,1.5 0 1,0 3,0a1.5,1.5 0 1,0 -3,0M202.8,169.0a1.5,1.5 0 1,0 3,0a1.5,1.5 0 1,0 -3,0M204.3,174.4a1.5,1.5 0 1,0 3,0a1.5,1.5 0 1,0 -3,0M205.8,176.6a1.5,1.5 0 1,0 3,0a1.5,1.5 0 1,0 -3,0M207.2,175.1a1.5,1.5 0 1,0 3,0a1.5,1.5 0 1,0 -3,0M209.4,174.4a1.5,1.5 0 1,0 3,0a1.5,1.5 0 1,0 -3,0M210.9,177.3a1.5,1.5 0 1,0 3,0a1.5,1.5 0 1,0 -3,0M213.8,179.5a1.5,1.5 0 1,0 3,0a1.5,1.5 0 1,0 -3,0M216.0,154.6a1.5,1.5 0 1,0 3,0a1.5,1.5 0 1,0 -3,0M218.2,159.0a1.5,1.5 0 1,0 3,0a1.5,1.5 0 1,0 -3,0M220.4,157.5a1.5,1.5 0 1,0 3,0a1.5,1.5 0 1,0 -3,0M222.6,167.0a1.5,1.5 0 1,0 3,0a1.5,1.5 0 1,0 -3,0M224.8,157.5a1.5,1.5 0 1,0 3,0a1.5,1.5 0 1,0 -3,0M227.0,159.7a1.5,1.5 0 1,0 3,0a1.5,1.5 0 1,0 -3,0M229.1,153.9a1.5,1.5 0 1,0 3,0a1.5,1.5 0 1,0 -3,0M231.3,162.7a1.5,1.5 0 1,0 3,0a1.5,1.5 0 1,0 -3,0M232.8,165.6a1.5,1.5 0 1,0 3,0a1.5,1.5 0 1,0 -3,0M234.3,171.0a1.5,1.5 0 1,0 3,0a1.5,1.5 0 1,0 -3,0M235.7,170.7a1.5,1.5 0 1,0 3,0a1.5,1.5 0 1,0 -3,0M237.2,159.7a1.5,1.5 0 1,0 3,0a1.5,1.5 0 1,0 -3,0M238.7,166.3a1.5,1.5 0 1,0 3,0a1.5,1.5 0 1,0 -3,0M240.2,165.6a1.5,1.5 0 1,0 3,0a1.5,1.5 0 1,0 -3,0M241.6,160.5a1.5,1.5 0 1,0 3,0a1.5,1.5 0 1,0 -3,0M243.1,159.7a1.5,1.5 0 1,0 3,0a1.5,1.5 0 1,0 -3,0M245.0,155.4a1.5,1.5 0 1,0 3,0a1.5,1.5 0 1,0 -3,0M246.7,164.9a1.5,1.5 0 1,0 3,0a1.5,1.5 0 1,0 -3,0M248.0,176.2a1.5,1.5 0 1,0 3,0a1.5,1.5 0 1,0 -3,0M249.7,185.5a1.5,1.5 0 1,0 3,0a1.5,1.5 0 1,0 -3,0M251.1,183.7a1.5,1.5 0 1,0 3,0a1.5,1.5 0 1,0 -3,0M252.4,190.0a1.5,1.5 0 1,0 3,0a1.5,1.5 0 1,0 -3,0M252.8,208.0a1.5,1.5 0 1,0 3,0a1.5,1.5 0 1,0 -3,0M254.0,205.6a1.5,1.5 0 1,0 3,0a1.5,1.5 0 1,0 -3,0M254.7,205.2a1.5,1.5 0 1,0 3,0a1.5,1.5 0 1,0 -3,0M255.9,212.8a1.5,1.5 0 1,0 3,0a1.5,1.5 0 1,0 -3,0M257.6,207.3a1.5,1.5 0 1,0 3,0a1.5,1.5 0 1,0 -3,0M259.0,193.5a1.5,1.5 0 1,0 3,0a1.5,1.5 0 1,0 -3,0M261.1,208.4a1.5,1.5 0 1,0 3,0a1.5,1.5 0 1,0 -3,0M262.1,207.1a1.5,1.5 0 1,0 3,0a1.5,1.5 0 1,0 -3,0M263.2,207.5a1.5,1.5 0 1,0 3,0a1.5,1.5 0 1,0 -3,0M264.0,217.2a1.5,1.5 0 1,0 3,0a1.5,1.5 0 1,0 -3,0M265.7,177.2a1.5,1.5 0 1,0 3,0a1.5,1.5 0 1,0 -3,0M267.1,191.6a1.5,1.5 0 1,0 3,0a1.5,1.5 0 1,0 -3,0M268.7,182.2a1.5,1.5 0 1,0 3,0a1.5,1.5 0 1,0 -3,0M270.1,171.4a1.5,1.5 0 1,0 3,0a1.5,1.5 0 1,0 -3,0M272.3,170.7a1.5,1.5 0 1,0 3,0a1.5,1.5 0 1,0 -3,0M273.8,163.1a1.5,1.5 0 1,0 3,0a1.5,1.5 0 1,0 -3,0M275.2,153.9a1.5,1.5 0 1,0 3,0a1.5,1.5 0 1,0 -3,0M277.1,147.3a1.5,1.5 0 1,0 3,0a1.5,1.5 0 1,0 -3,0M278.9,139.5a1.5,1.5 0 1,0 3,0a1.5,1.5 0 1,0 -3,0M280.4,146.6a1.5,1.5 0 1,0 3,0a1.5,1.5 0 1,0 -3,0M281.8,161.2a1.5,1.5 0 1,0 3,0a1.5,1.5 0 1,0 -3,0M283.3,150.2a1.5,1.5 0 1,0 3,0a1.5,1.5 0 1,0 -3,0M284.7,140.2a1.5,1.5 0 1,0 3,0a1.5,1.5 0 1,0 -3,0M286.2,130.1a1.5,1.5 0 1,0 3,0a1.5,1.5 0 1,0 -3,0M288.4,127.9a1.5,1.5 0 1,0 3,0a1.5,1.5 0 1,0 -3,0M289.9,130.1a1.5,1.5 0 1,0 3,0a1.5,1.5 0 1,0 -3,0M291.3,124.3a1.5,1.5 0 1,0 3,0a1.5,1.5 0 1,0 -3,0M293.5,132.3a1.5,1.5 0 1,0 3,0a1.5,1.5 0 1,0 -3,0M295.0,127.2a1.5,1.5 0 1,0 3,0a1.5,1.5 0 1,0 -3,0M296.5,119.9a1.5,1.5 0 1,0 3,0a1.5,1.5 0 1,0 -3,0M297.9,132.3a1.5,1.5 0 1,0 3,0a1.5,1.5 0 1,0 -3,0M299.4,114.8a1.5,1.5 0 1,0 3,0a1.5,1.5 0 1,0 -3,0M300.8,119.9a1.5,1.5 0 1,0 3,0a1.5,1.5 0 1,0 -3,0M303.0,112.6a1.5,1.5 0 1,0 3,0a1.5,1.5 0 1,0 -3,0M304.5,114.8a1.5,1.5 0 1,0 3,0a1.5,1.5 0 1,0 -3,0M305.9,117.0a1.5,1.5 0 1,0 3,0a1.5,1.5 0 1,0 -3,0M307.4,106.9a1.5,1.5 0 1,0 3,0a1.5,1.5 0 1,0 -3,0M308.9,107.5a1.5,1.5 0 1,0 3,0a1.5,1.5 0 1,0 -3,0M311.1,116.2a1.5,1.5 0 1,0 3,0a1.5,1.5 0 1,0 -3,0M312.5,114.8a1.5,1.5 0 1,0 3,0a1.5,1.5 0 1,0 -3,0M314.0,107.0a1.5,1.5 0 1,0 3,0a1.5,1.5 0 1,0 -3,0M315.5,113.3a1.5,1.5 0 1,0 3,0a1.5,1.5 0 1,0 -3,0M317.6,111.1a1.5,1.5 0 1,0 3,0a1.5,1.5 0 1,0 -3,0M319.1,114.8a1.5,1.5 0 1,0 3,0a1.5,1.5 0 1,0 -3,0M320.6,119.9a1.5,1.5 0 1,0 3,0a1.5,1.5 0 1,0 -3,0M322.0,117.0a1.5,1.5 0 1,0 3,0a1.5,1.5 0 1,0 -3,0M323.5,120.6a1.5,1.5 0 1,0 3,0a1.5,1.5 0 1,0 -3,0M325.0,115.5a1.5,1.5 0 1,0 3,0a1.5,1.5 0 1,0 -3,0M327.1,114.0a1.5,1.5 0 1,0 3,0a1.5,1.5 0 1,0 -3,0M328.6,109.7a1.5,1.5 0 1,0 3,0a1.5,1.5 0 1,0 -3,0M330.1,98.0a1.5,1.5 0 1,0 3,0a1.5,1.5 0 1,0 -3,0M332.3,96.9a1.5,1.5 0 1,0 3,0a1.5,1.5 0 1,0 -3,0M333.7,98.0a1.5,1.5 0 1,0 3,0a1.5,1.5 0 1,0 -3,0M334.5,93.2a1.5,1.5 0 1,0 3,0a1.5,1.5 0 1,0 -3,0M335.9,87.4a1.5,1.5 0 1,0 3,0a1.5,1.5 0 1,0 -3,0" fill="#ffff00"/><polyline points="50.4,46.0 51.5,19.7 52.0,22.8 53.3,41.7 55.5,49.0 56.2,70.2 58.4,74.9 59.9,71.6 61.4,80.0 63.5,76.4 65.7,76.4 66.5,77.1 67.9,83.7 69.4,94.7 70.9,111.1 72.3,117.7 74.5,110.4 76.0,114.8 77.4,119.9 79.6,121.4 81.1,119.9 83.3,123.9 85.5,127.9 88.4,135.2 90.6,130.9 92.8,127.9 94.2,122.8 95.7,130.1 96.4,119.2 98.6,106.5 100.1,107.5 101.6,104.9 103.0,107.5 103.7,107.1 104.5,109.7 106.7,106.4 108.1,112.6 110.3,111.8 112.5,111.1 114.7,104.2 116.2,114.8 117.6,120.6 119.8,113.3 121.3,112.6 122.8,132.3 123.2,132.1 125.8,163.2 127.4,184.5 128.7,203.1 130.6,193.2 132.4,192.2 133.7,192.4 135.3,194.8 136.9,186.7 137.7,186.1 140.1,174.2 142.4,165.5 143.2,170.7 144.0,171.9 145.6,175.8 146.7,154.2 148.1,152.2 149.6,160.8 150.2,161.2 151.0,185.4 151.9,186.1 152.7,180.6 153.2,180.2 155.4,183.9 155.9,183.7 156.8,183.9 157.5,160.8 158.3,161.2 159.7,158.3 161.2,180.2 162.7,186.8 164.1,192.7 164.8,192.9 166.3,197.5 167.8,179.5 169.2,186.1 170.7,192.0 172.9,183.2 174.4,186.1 175.8,171.5 177.3,181.0 178.7,168.5 180.2,176.6 182.4,184.6 183.9,178.8 186.1,181.7 186.8,186.1 189.7,175.5 191.9,178.8 194.8,172.9 196.3,182.4 198.1,178.0 199.9,173.6 202.9,170.0 204.3,174.4 206.2,179.5 208.0,184.6 210.9,187.5 212.4,169.2 213.8,180.2 216.0,179.5 217.5,168.5 219.2,161.4 220.9,154.4 222.6,147.3 224.1,140.7 225.5,125.0 227.0,116.2 228.5,94.7 230.4,80.8 231.4,65.0 233.6,66.5 235.0,60.7 237.2,59.9 238.7,59.9 239.4,79.3 240.2,79.3 242.4,79.3 244.6,62.1 246.0,58.5 247.5,50.9 249.7,51.9 251.2,56.3 252.6,67.2 254.8,67.2 256.3,71.6 257.7,68.7 259.2,65.8 260.7,62.1 262.1,52.6 264.3,61.4 265.8,54.1 267.2,47.1 268.7,16.0 271.6,8.7 273.5,8.7 275.3,8.7 277.5,13.0 279.7,18.2 281.9,26.2 283.3,12.3 284.8,18.9 286.2,8.7 288.4,26.2 289.9,21.1 291.4,31.3 292.8,24.0 295.0,29.1 297.2,32.0 298.7,35.0 300.9,22.5 302.3,29.9 304.5,25.5 306.7,27.7 308.9,26.9 311.1,32.8 312.6,25.5 314.0,33.5 315.5,35.7 317.0,42.4 317.7,39.4 319.1,33.0 320.6,37.9 322.1,35.0 324.3,32.0 325.7,24.0 327.2,26.9 330.1,28.4 331.6,33.5 333.8,36.4 334.5,40.9 335.2,40.1 336.7,36.4" fill="none" stroke="#ffffff" stroke-width="0.45" stroke-opacity="0.8"/><path d="M48.9,46.0a1.5,1.5 0 1,0 3,0a1.5,1.5 0 1,0 -3,0M50.0,19.7a1.5,1.5 0 1,0 3,0a1.5,1.5 0 1,0 -3,0M50.5,22.8a1.5,1.5 0 1,0 3,0a1.5,1.5 0 1,0 -3,0M51.8,41.7a1.5,1.5 0 1,0 3,0a1.5,1.5 0 1,0 -3,0M54.0,49.0a1.5,1.5 0 1,0 3,0a1.5,1.5 0 1,0 -3,0M54.7,70.2a1.5,1.5 0 1,0 3,0a1.5,1.5 0 1,0 -3,0M56.9,74.9a1.5,1.5 0 1,0 3,0a1.5,1.5 0 1,0 -3,0M58.4,71.6a1.5,1.5 0 1,0 3,0a1.5,1.5 0 1,0 -3,0M59.9,80.0a1.5,1.5 0 1,0 3,0a1.5,1.5 0 1,0 -3,0M62.0,76.4a1.5,1.5 0 1,0 3,0a1.5,1.5 0 1,0 -3,0M64.2,76.4a1.5,1.5 0 1,0 3,0a1.5,1.5 0 1,0 -3,0M65.0,77.1a1.5,1.5 0 1,0 3,0a1.5,1.5 0 1,0 -3,0M66.4,83.7a1.5,1.5 0 1,0 3,0a1.5,1.5 0 1,0 -3,0M67.9,94.7a1.5,1.5 0 1,0 3,0a1.5,1.5 0 1,0 -3,0M69.4,111.1a1.5,1.5 0 1,0 3,0a1.5,1.5 0 1,0 -3,0M70.8,117.7a1.5,1.5 0 1,0 3,0a1.5,1.5 0 1,0 -3,0M73.0,110.4a1.5,1.5 0 1,0 3,0a1.5,1.5 0 1,0 -3,0M74.5,114.8a1.5,1.5 0 1,0 3,0a1.5,1.5 0 1,0 -3,0M75.9,119.9a1.5,1.5 0 1,0 3,0a1.5,1.5 0 1,0 -3,0M78.1,121.4a1.5,1.5 0 1,0 3,0a1.5,1.5 0 1,0 -3,0M79.6,119.9a1.5,1.5 0 1,0 3,0a1.5,1.5 0 1,0 -3,0M81.8,123.9a1.5,1.5 0 1,0 3,0a1.5,1.5 0 1,0 -3,0M84.0,127.9a1.5,1.5 0 1,0 3,0a1.5,1.5 0 1,0 -3,0M86.9,135.2a1.5,1.5 0 1,0 3,0a1.5,1.5 0 1,0 -3,0M89.1,130.9a1.5,1.5 0 1,0 3,0a1.5,1.5 0 1,0 -3,0M91.3,127.9a1.5,1.5 0 1,0 3,0a1.5,1.5 0 1,0 -3,0M92.7,122.8a1.5,1.5 0 1,0 3,0a1.5,1.5 0 1,0 -3,0M94.2,130.1a1.5,1.5 0 1,0 3,0a1.5,1.5 0 1,0 -3,0M94.9,119.2a1.5,1.5 0 1,0 3,0a1.5,1.5 0 1,0 -3,0M97.1,106.5a1.5,1.5 0 1,0 3,0a1.5,1.5 0 1,0 -3,0M98.6,107.5a1.5,1.5 0 1,0 3,0a1.5,1.5 0 1,0 -3,0M100.1,104.9a1.5,1.5 0 1,0 3,0a1.5,1.5 0 1,0 -3,0M101.5,107.5a1.5,1.5 0 1,0 3,0a1.5,1.5 0 1,0 -3,0M102.2,107.1a1.5,1.5 0 1,0 3,0a1.5,1.5 0 1,0 -3,0M103.0,109.7a1.5,1.5 0 1,0 3,0a1.5,1.5 0 1,0 -3,0M105.2,106.4a1.5,1.5 0 1,0 3,0a1.5,1.5 0 1,0 -3,0M106.6,112.6a1.5,1.5 0 1,0 3,0a1.5,1.5 0 1,0 -3,0M108.8,111.8a1.5,1.5 0 1,0 3,0a1.5,1.5 0 1,0 -3,0M111.0,111.1a1.5,1.5 0 1,0 3,0a1.5,1.5 0 1,0 -3,0M113.2,104.2a1.5,1.5 0 1,0 3,0a1.5,1.5 0 1,0 -3,0M114.7,114.8a1.5,1.5 0 1,0 3,0a1.5,1.5 0 1,0 -3,0M116.1,120.6a1.5,1.5 0 1,0 3,0a1.5,1.5 0 1,0 -3,0M118.3,113.3a1.5,1.5 0 1,0 3,0a1.5,1.5 0 1,0 -3,0M119.8,112.6a1.5,1.5 0 1,0 3,0a1.5,1.5 0 1,0 -3,0M121.3,132.3a1.5,1.5 0 1,0 3,0a1.5,1.5 0 1,0 -3,0M121.7,132.1a1.5,1.5 0 1,0 3,0a1.5,1.5 0 1,0 -3,0M124.3,163.2a1.5,1.5 0 1,0 3,0a1.5,1.5 0 1,0 -3,0M125.9,184.5a1.5,1.5 0 1,0 3,0a1.5,1.5 0 1,0 -3,0M127.2,203.1a1.5,1.5 0 1,0 3,0a1.5,1.5 0 1,0 -3,0M129.1,193.2a1.5,1.5 0 1,0 3,0a1.5,1.5 0 1,0 -3,0M130.9,192.2a1.5,1.5 0 1,0 3,0a1.5,1.5 0 1,0 -3,0M132.2,192.4a1.5,1.5 0 1,0 3,0a1.5,1.5 0 1,0 -3,0M133.8,194.8a1.5,1.5 0 1,0 3,0a1.5,1.5 0 1,0 -3,0M135.4,186.7a1.5,1.5 0 1,0 3,0a1.5,1.5 0 1,0 -3,0M136.2,186.1a1.5,1.5 0 1,0 3,0a1.5,1.5 0 1,0 -3,0M138.6,174.2a1.5,1.5 0 1,0 3,0a1.5,1.5 0 1,0 -3,0M140.9,165.5a1.5,1.5 0 1,0 3,0a1.5,1.5 0 1,0 -3,0M141.7,170.7a1.5,1.5 0 1,0 3,0a1.5,1.5 0 1,0 -3,0M142.5,171.9a1.5,1.5 0 1,0 3,0a1.5,1.5 0 1,0 -3,0M144.1,175.8a1.5,1.5 0 1,0 3,0a1.5,1.5 0 1,0 -3,0M145.2,154.2a1.5,1.5 0 1,0 3,0a1.5,1.5 0 1,0 -3,0M146.6,152.2a1.5,1.5 0 1,0 3,0a1.5,1.5 0 1,0 -3,0M148.1,160.8a1.5,1.5 0 1,0 3,0a1.5,1.5 0 1,0 -3,0M148.7,161.2a1.5,1.5 0 1,0 3,0a1.5,1.5 0 1,0 -3,0M149.5,185.4a1.5,1.5 0 1,0 3,0a1.5,1.5 0 1,0 -3,0M150.4,186.1a1.5,1.5 0 1,0 3,0a1.5,1.5 0 1,0 -3,0M151.2,180.6a1.5,1.5 0 1,0 3,0a1.5,1.5 0 1,0 -3,0M151.7,180.2a1.5,1.5 0 1,0 3,0a1.5,1.5 0 1,0 -3,0M153.9,183.9a1.5,1.5 0 1,0 3,0a1.5,1.5 0 1,0 -3,0M154.4,183.7a1.5,1.5 0 1,0 3,0a1.5,1.5 0 1,0 -3,0M155.3,183.9a1.5,1.5 0 1,0 3,0a1.5,1.5 0 1,0 -3,0M156.0,160.8a1.5,1.5 0 1,0 3,0a1.5,1.5 0 1,0 -3,0M156.8,161.2a1.5,1.5 0 1,0 3,0a1.5,1.5 0 1,0 -3,0M158.2,158.3a1.5,1.5 0 1,0 3,0a1.5,1.5 0 1,0 -3,0M159.7,180.2a1.5,1.5 0 1,0 3,0a1.5,1.5 0 1,0 -3,0M161.2,186.8a1.5,1.5 0 1,0 3,0a1.5,1.5 0 1,0 -3,0M162.6,192.7a1.5,1.5 0 1,0 3,0a1.5,1.5 0 1,0 -3,0M163.3,192.9a1.5,1.5 0 1,0 3,0a1.5,1.5 0 1,0 -3,0M164.8,197.5a1.5,1.5 0 1,0 3,0a1.5,1.5 0 1,0 -3,0M166.3,179.5a1.5,1.5 0 1,0 3,0a1.5,1.5 0 1,0 -3,0M167.7,186.1a1.5,1.5 0 1,0 3,0a1.5,1.5 0 1,0 -3,0M169.2,192.0a1.5,1.5 0 1,0 3,0a1.5,1.5 0 1,0 -3,0M171.4,183.2a1.5,1.5 0 1,0 3,0a1.5,1.5 0 1,0 -3,0M172.9,186.1a1.5,1.5 0 1,0 3,0a1.5,1.5 0 1,0 -3,0M174.3,171.5a1.5,1.5 0 1,0 3,0a1.5,1.5 0 1,0 -3,0M175.8,181.0a1.5,1.5 0 1,0 3,0a1.5,1.5 0 1,0 -3,0M177.2,168.5a1.5,1.5 0 1,0 3,0a1.5,1.5 0 1,0 -3,0M178.7,176.6a1.5,1.5 0 1,0 3,0a1.5,1.5 0 1,0 -3,0M180.9,184.6a1.5,1.5 0 1,0 3,0a1.5,1.5 0 1,0 -3,0M182.4,178.8a1.5,1.5 0 1,0 3,0a1.5,1.5 0 1,0 -3,0M184.6,181.7a1.5,1.5 0 1,0 3,0a1.5,1.5 0 1,0 -3,0M185.3,186.1a1.5,1.5 0 1,0 3,0a1.5,1.5 0 1,0 -3,0M188.2,175.5a1.5,1.5 0 1,0 3,0a1.5,1.5 0 1,0 -3,0M190.4,178.8a1.5,1.5 0 1,0 3,0a1.5,1.5 0 1,0 -3,0M193.3,172.9a1.5,1.5 0 1,0 3,0a1.5,1.5 0 1,0 -3,0M194.8,182.4a1.5,1.5 0 1,0 3,0a1.5,1.5 0 1,0 -3,0M196.6,178.0a1.5,1.5 0 1,0 3,0a1.5,1.5 0 1,0 -3,0M198.4,173.6a1.5,1.5 0 1,0 3,0a1.5,1.5 0 1,0 -3,0M201.4,170.0a1.5,1.5 0 1,0 3,0a1.5,1.5 0 1,0 -3,0M202.8,174.4a1.5,1.5 0 1,0 3,0a1.5,1.5 0 1,0 -3,0M204.7,179.5a1.5,1.5 0 1,0 3,0a1.5,1.5 0 1,0 -3,0M206.5,184.6a1.5,1.5 0 1,0 3,0a1.5,1.5 0 1,0 -3,0M209.4,187.5a1.5,1.5 0 1,0 3,0a1.5,1.5 0 1,0 -3,0M210.9,169.2a1.5,1.5 0 1,0 3,0a1.5,1.5 0 1,0 -3,0M212.3,180.2a1.5,1.5 0 1,0 3,0a1.5,1.5 0 1,0 -3,0M214.5,179.5a1.5,1.5 0 1,0 3,0a1.5,1.5 0 1,0 -3,0M216.0,168.5a1.5,1.5 0 1,0 3,0a1.5,1.5 0 1,0 -3,0M217.7,161.4a1.5,1.5 0 1,0 3,0a1.5,1.5 0 1,0 -3,0M219.4,154.4a1.5,1.5 0 1,0 3,0a1.5,1.5 0 1,0 -3,0M221.1,147.3a1.5,1.5 0 1,0 3,0a1.5,1.5 0 1,0 -3,0M222.6,140.7a1.5,1.5 0 1,0 3,0a1.5,1.5 0 1,0 -3,0M224.0,125.0a1.5,1.5 0 1,0 3,0a1.5,1.5 0 1,0 -3,0M225.5,116.2a1.5,1.5 0 1,0 3,0a1.5,1.5 0 1,0 -3,0M227.0,94.7a1.5,1.5 0 1,0 3,0a1.5,1.5 0 1,0 -3,0M228.9,80.8a1.5,1.5 0 1,0 3,0a1.5,1.5 0 1,0 -3,0M229.9,65.0a1.5,1.5 0 1,0 3,0a1.5,1.5 0 1,0 -3,0M232.1,66.5a1.5,1.5 0 1,0 3,0a1.5,1.5 0 1,0 -3,0M233.5,60.7a1.5,1.5 0 1,0 3,0a1.5,1.5 0 1,0 -3,0M235.7,59.9a1.5,1.5 0 1,0 3,0a1.5,1.5 0 1,0 -3,0M237.2,59.9a1.5,1.5 0 1,0 3,0a1.5,1.5 0 1,0 -3,0M237.9,79.3a1.5,1.5 0 1,0 3,0a1.5,1.5 0 1,0 -3,0M238.7,79.3a1.5,1.5 0 1,0 3,0a1.5,1.5 0 1,0 -3,0M240.9,79.3a1.5,1.5 0 1,0 3,0a1.5,1.5 0 1,0 -3,0M243.1,62.1a1.5,1.5 0 1,0 3,0a1.5,1.5 0 1,0 -3,0M244.5,58.5a1.5,1.5 0 1,0 3,0a1.5,1.5 0 1,0 -3,0M246.0,50.9a1.5,1.5 0 1,0 3,0a1.5,1.5 0 1,0 -3,0M248.2,51.9a1.5,1.5 0 1,0 3,0a1.5,1.5 0 1,0 -3,0M249.7,56.3a1.5,1.5 0 1,0 3,0a1.5,1.5 0 1,0 -3,0M251.1,67.2a1.5,1.5 0 1,0 3,0a1.5,1.5 0 1,0 -3,0M253.3,67.2a1.5,1.5 0 1,0 3,0a1.5,1.5 0 1,0 -3,0M254.8,71.6a1.5,1.5 0 1,0 3,0a1.5,1.5 0 1,0 -3,0M256.2,68.7a1.5,1.5 0 1,0 3,0a1.5,1.5 0 1,0 -3,0M257.7,65.8a1.5,1.5 0 1,0 3,0a1.5,1.5 0 1,0 -3,0M259.2,62.1a1.5,1.5 0 1,0 3,0a1.5,1.5 0 1,0 -3,0M260.6,52.6a1.5,1.5 0 1,0 3,0a1.5,1.5 0 1,0 -3,0M262.8,61.4a1.5,1.5 0 1,0 3,0a1.5,1.5 0 1,0 -3,0M264.3,54.1a1.5,1.5 0 1,0 3,0a1.5,1.5 0 1,0 -3,0M265.7,47.1a1.5,1.5 0 1,0 3,0a1.5,1.5 0 1,0 -3,0M267.2,16.0a1.5,1.5 0 1,0 3,0a1.5,1.5 0 1,0 -3,0M270.1,8.7a1.5,1.5 0 1,0 3,0a1.5,1.5 0 1,0 -3,0M272.0,8.7a1.5,1.5 0 1,0 3,0a1.5,1.5 0 1,0 -3,0M273.8,8.7a1.5,1.5 0 1,0 3,0a1.5,1.5 0 1,0 -3,0M276.0,13.0a1.5,1.5 0 1,0 3,0a1.5,1.5 0 1,0 -3,0M278.2,18.2a1.5,1.5 0 1,0 3,0a1.5,1.5 0 1,0 -3,0M280.4,26.2a1.5,1.5 0 1,0 3,0a1.5,1.5 0 1,0 -3,0M281.8,12.3a1.5,1.5 0 1,0 3,0a1.5,1.5 0 1,0 -3,0M283.3,18.9a1.5,1.5 0 1,0 3,0a1.5,1.5 0 1,0 -3,0M284.7,8.7a1.5,1.5 0 1,0 3,0a1.5,1.5 0 1,0 -3,0M286.9,26.2a1.5,1.5 0 1,0 3,0a1.5,1.5 0 1,0 -3,0M288.4,21.1a1.5,1.5 0 1,0 3,0a1.5,1.5 0 1,0 -3,0M289.9,31.3a1.5,1.5 0 1,0 3,0a1.5,1.5 0 1,0 -3,0M291.3,24.0a1.5,1.5 0 1,0 3,0a1.5,1.5 0 1,0 -3,0M293.5,29.1a1.5,1.5 0 1,0 3,0a1.5,1.5 0 1,0 -3,0M295.7,32.0a1.5,1.5 0 1,0 3,0a1.5,1.5 0 1,0 -3,0M297.2,35.0a1.5,1.5 0 1,0 3,0a1.5,1.5 0 1,0 -3,0M299.4,22.5a1.5,1.5 0 1,0 3,0a1.5,1.5 0 1,0 -3,0M300.8,29.9a1.5,1.5 0 1,0 3,0a1.5,1.5 0 1,0 -3,0M303.0,25.5a1.5,1.5 0 1,0 3,0a1.5,1.5 0 1,0 -3,0M305.2,27.7a1.5,1.5 0 1,0 3,0a1.5,1.5 0 1,0 -3,0M307.4,26.9a1.5,1.5 0 1,0 3,0a1.5,1.5 0 1,0 -3,0M309.6,32.8a1.5,1.5 0 1,0 3,0a1.5,1.5 0 1,0 -3,0M311.1,25.5a1.5,1.5 0 1,0 3,0a1.5,1.5 0 1,0 -3,0M312.5,33.5a1.5,1.5 0 1,0 3,0a1.5,1.5 0 1,0 -3,0M314.0,35.7a1.5,1.5 0 1,0 3,0a1.5,1.5 0 1,0 -3,0M315.5,42.4a1.5,1.5 0 1,0 3,0a1.5,1.5 0 1,0 -3,0M316.2,39.4a1.5,1.5 0 1,0 3,0a1.5,1.5 0 1,0 -3,0M317.6,33.0a1.5,1.5 0 1,0 3,0a1.5,1.5 0 1,0 -3,0M319.1,37.9a1.5,1.5 0 1,0 3,0a1.5,1.5 0 1,0 -3,0M320.6,35.0a1.5,1.5 0 1,0 3,0a1.5,1.5 0 1,0 -3,0M322.8,32.0a1.5,1.5 0 1,0 3,0a1.5,1.5 0 1,0 -3,0M324.2,24.0a1.5,1.5 0 1,0 3,0a1.5,1.5 0 1,0 -3,0M325.7,26.9a1.5,1.5 0 1,0 3,0a1.5,1.5 0 1,0 -3,0M328.6,28.4a1.5,1.5 0 1,0 3,0a1.5,1.5 0 1,0 -3,0M330.1,33.5a1.5,1.5 0 1,0 3,0a1.5,1.5 0 1,0 -3,0M332.3,36.4a1.5,1.5 0 1,0 3,0a1.5,1.5 0 1,0 -3,0M333.0,40.9a1.5,1.5 0 1,0 3,0a1.5,1.5 0 1,0 -3,0M333.7,40.1a1.5,1.5 0 1,0 3,0a1.5,1.5 0 1,0 -3,0M335.2,36.4a1.5,1.5 0 1,0 3,0a1.5,1.5 0 1,0 -3,0" fill="#ffffff"/></g><line x1="48" y1="149.00" x2="52" y2="149.00" stroke="#2a2a2a" stroke-width="1"/><line x1="334.6" y1="149.00" x2="338.6" y2="149.00" stroke="#2a2a2a" stroke-width="1"/><line x1="48" y1="78.60" x2="52" y2="78.60" stroke="#2a2a2a" stroke-width="1"/><line x1="334.6" y1="78.60" x2="338.6" y2="78.60" stroke="#2a2a2a" stroke-width="1"/><line x1="129.50" y1="7" x2="129.50" y2="11" stroke="#2a2a2a" stroke-width="1"/><line x1="129.50" y1="216" x2="129.50" y2="220" stroke="#2a2a2a" stroke-width="1"/><line x1="209.50" y1="7" x2="209.50" y2="11" stroke="#2a2a2a" stroke-width="1"/><line x1="209.50" y1="216" x2="209.50" y2="220" stroke="#2a2a2a" stroke-width="1"/><line x1="290.00" y1="7" x2="290.00" y2="11" stroke="#2a2a2a" stroke-width="1"/><line x1="290.00" y1="216" x2="290.00" y2="220" stroke="#2a2a2a" stroke-width="1"/><rect x="48.5" y="7.5" width="289.6" height="212" fill="none" stroke="#3c3c3c" stroke-width="1"/><line x1="392.5" y1="189.50" x2="396.5" y2="189.50" stroke="#2a2a2a" stroke-width="1"/><line x1="679" y1="189.50" x2="683" y2="189.50" stroke="#2a2a2a" stroke-width="1"/><line x1="392.5" y1="159.10" x2="396.5" y2="159.10" stroke="#2a2a2a" stroke-width="1"/><line x1="679" y1="159.10" x2="683" y2="159.10" stroke="#2a2a2a" stroke-width="1"/><line x1="392.5" y1="128.70" x2="396.5" y2="128.70" stroke="#2a2a2a" stroke-width="1"/><line x1="679" y1="128.70" x2="683" y2="128.70" stroke="#2a2a2a" stroke-width="1"/><line x1="392.5" y1="98.30" x2="396.5" y2="98.30" stroke="#2a2a2a" stroke-width="1"/><line x1="679" y1="98.30" x2="683" y2="98.30" stroke="#2a2a2a" stroke-width="1"/><line x1="392.5" y1="67.90" x2="396.5" y2="67.90" stroke="#2a2a2a" stroke-width="1"/><line x1="679" y1="67.90" x2="683" y2="67.90" stroke="#2a2a2a" stroke-width="1"/><line x1="392.5" y1="37.50" x2="396.5" y2="37.50" stroke="#2a2a2a" stroke-width="1"/><line x1="679" y1="37.50" x2="683" y2="37.50" stroke="#2a2a2a" stroke-width="1"/><line x1="473.40" y1="7" x2="473.40" y2="11" stroke="#2a2a2a" stroke-width="1"/><line x1="473.40" y1="216" x2="473.40" y2="220" stroke="#2a2a2a" stroke-width="1"/><line x1="554.50" y1="7" x2="554.50" y2="11" stroke="#2a2a2a" stroke-width="1"/><line x1="554.50" y1="216" x2="554.50" y2="220" stroke="#2a2a2a" stroke-width="1"/><line x1="634.40" y1="7" x2="634.40" y2="11" stroke="#2a2a2a" stroke-width="1"/><line x1="634.40" y1="216" x2="634.40" y2="220" stroke="#2a2a2a" stroke-width="1"/><rect x="393.0" y="7.5" width="289.5" height="212" fill="none" stroke="#3c3c3c" stroke-width="1"/><text x="401.5" y="35" font-size="8.5" fill="#d4d4d4">Top of mixture</text><text x="401.5" y="58" font-size="8.5" fill="#d4d4d4">90% of mixture height</text><rect x="606.5" y="91.3" width="66.0" height="58.000000000000014" fill="#4b4b4b" stroke="#2a2a2a" stroke-width="1"/><line x1="609" y1="97.9" x2="631.5" y2="97.9" stroke="#ffffff" stroke-width="0.5" stroke-opacity="0.7"/><circle cx="620.2" cy="97.9" r="1.7" fill="#ffffff"/><text x="633.5" y="101.5" font-size="8.4" fill="#dedede">Particle i</text><line x1="609" y1="109.2" x2="631.5" y2="109.2" stroke="#ff0000" stroke-width="0.5" stroke-opacity="0.7"/><circle cx="620.2" cy="109.2" r="1.7" fill="#ff0000"/><text x="633.5" y="112.8" font-size="8.4" fill="#dedede">Particle ii</text><line x1="609" y1="120.5" x2="631.5" y2="120.5" stroke="#ffff00" stroke-width="0.5" stroke-opacity="0.7"/><circle cx="620.2" cy="120.5" r="1.7" fill="#ffff00"/><text x="633.5" y="124.1" font-size="8.4" fill="#dedede">Particle iii</text><line x1="609" y1="131.8" x2="631.5" y2="131.8" stroke="#ff8000" stroke-width="0.5" stroke-opacity="0.7"/><circle cx="620.2" cy="131.8" r="1.7" fill="#ff8000"/><text x="633.5" y="135.4" font-size="8.4" fill="#dedede">Particle iv</text><line x1="609" y1="143.1" x2="631.5" y2="143.1" stroke="#ff00ff" stroke-width="0.5" stroke-opacity="0.7"/><circle cx="620.2" cy="143.1" r="1.7" fill="#ff00ff"/><text x="633.5" y="146.7" font-size="8.4" fill="#dedede">Particle v</text><text x="44.9" y="224.1" font-size="10.5" text-anchor="end" fill="#262626" >0</text><text x="44.9" y="153.7" font-size="10.5" text-anchor="end" fill="#262626" >30</text><text x="44.9" y="83.3" font-size="10.5" text-anchor="end" fill="#262626" >60</text><text x="44.9" y="12.9" font-size="10.5" text-anchor="end" fill="#262626" >90</text><text x="49.2" y="234.0" font-size="10.5" text-anchor="middle" fill="#262626" >0</text><text x="129.8" y="234.0" font-size="10.5" text-anchor="middle" fill="#262626" >50</text><text x="209.8" y="234.0" font-size="10.5" text-anchor="middle" fill="#262626" >100</text><text x="290.3" y="234.0" font-size="10.5" text-anchor="middle" fill="#262626" >150</text><text x="389.6" y="224.6" font-size="10.5" text-anchor="end" fill="#262626" >10</text><text x="389.6" y="194.2" font-size="10.5" text-anchor="end" fill="#262626" >20</text><text x="389.6" y="163.8" font-size="10.5" text-anchor="end" fill="#262626" >30</text><text x="389.6" y="133.4" font-size="10.5" text-anchor="end" fill="#262626" >40</text><text x="389.6" y="103.0" font-size="10.5" text-anchor="end" fill="#262626" >50</text><text x="389.6" y="72.6" font-size="10.5" text-anchor="end" fill="#262626" >60</text><text x="389.6" y="42.2" font-size="10.5" text-anchor="end" fill="#262626" >70</text><text x="389.6" y="11.8" font-size="10.5" text-anchor="end" fill="#262626" >80</text><text x="393.6" y="234.0" font-size="10.5" text-anchor="middle" fill="#262626" >0</text><text x="473.7" y="234.0" font-size="10.5" text-anchor="middle" fill="#262626" >50</text><text x="554.8" y="234.0" font-size="10.5" text-anchor="middle" fill="#262626" >100</text><text x="634.7" y="234.0" font-size="10.5" text-anchor="middle" fill="#262626" >150</text><text x="193.3" y="249.2" font-size="11.8" text-anchor="middle" fill="#262626" >Number of shear cycles</text><text x="538.3" y="249.2" font-size="11.8" text-anchor="middle" fill="#262626" >Number of shear cycles</text><text x="0.0" y="0.0" font-size="12.3" text-anchor="middle" fill="#262626" textLength="204.5" lengthAdjust="spacingAndGlyphs" transform="translate(27.9,113.8) rotate(-90)">Major axis vertical orientation (degrees)</text><text x="0.0" y="0.0" font-size="12.3" text-anchor="middle" fill="#262626" textLength="63.5" lengthAdjust="spacingAndGlyphs" transform="translate(373.4,114.2) rotate(-90)">Height (mm)</text><text x="0.9" y="11.9" font-size="16" fill="#000">A</text><text x="348.2" y="11.9" font-size="16" fill="#000">B</text></svg>
</body></html>
